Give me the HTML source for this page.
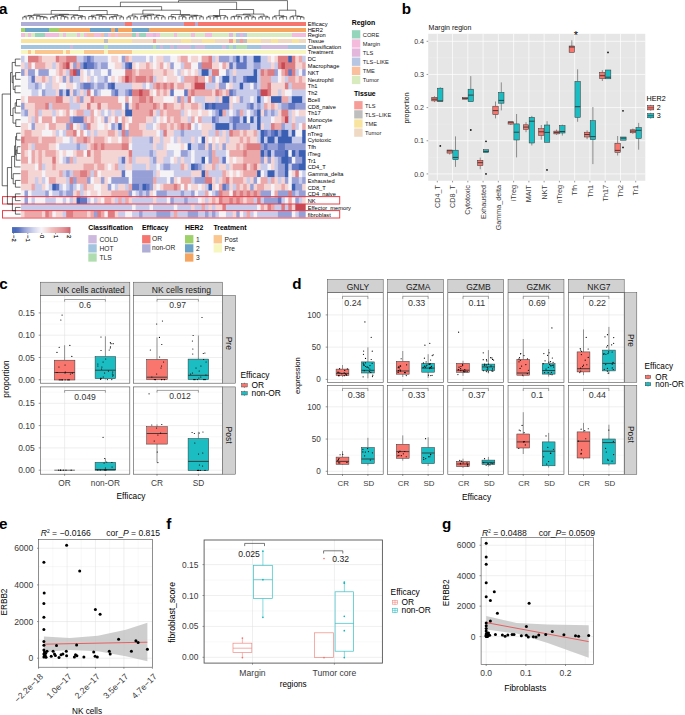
<!DOCTYPE html>
<html><head><meta charset="utf-8"><title>figure</title>
<style>
html,body{margin:0;padding:0;background:#fff;}
body{width:685px;height:715px;overflow:hidden;}
svg{display:block;font-family:"Liberation Sans",sans-serif;}
</style></head><body>
<svg width="685" height="715" viewBox="0 0 685 715">
<rect width="685" height="715" fill="#ffffff"/>
<text x="-0.90" y="14.20" font-size="15.2" text-anchor="start" fill="#000" font-weight="bold" >a</text>
<text x="401.80" y="14.20" font-size="15.2" text-anchor="start" fill="#000" font-weight="bold" >b</text>
<text x="-0.80" y="288.80" font-size="15.2" text-anchor="start" fill="#000" font-weight="bold" >c</text>
<text x="292.30" y="288.60" font-size="15.2" text-anchor="start" fill="#000" font-weight="bold" >d</text>
<text x="-0.90" y="529.30" font-size="15.2" text-anchor="start" fill="#000" font-weight="bold" >e</text>
<text x="166.30" y="528.90" font-size="15.2" text-anchor="start" fill="#000" font-weight="bold" >f</text>
<text x="442.00" y="529.00" font-size="15.2" text-anchor="start" fill="#000" font-weight="bold" >g</text>
<defs><filter id="bl" x="-2%" y="-2%" width="104%" height="104%"><feGaussianBlur stdDeviation="0.7"/></filter><clipPath id="hc"><rect x="21.05" y="55.70" width="284.65" height="161.80"/></clipPath></defs>
<g clip-path="url(#hc)"><g filter="url(#bl)">
<rect x="18.05" y="52.70" width="290.65" height="167.80" fill="#e8d8e0" />
<rect x="18.1" y="52.7" width="7.1" height="10.3" fill="#c8ccea"/>
<rect x="24.5" y="52.7" width="4.1" height="10.3" fill="#f6f3f7"/>
<rect x="28.0" y="52.7" width="11.0" height="10.3" fill="#dd7d82"/>
<rect x="38.4" y="52.7" width="4.1" height="10.3" fill="#eca8a8"/>
<rect x="41.9" y="52.7" width="14.5" height="10.3" fill="#f5d4d4"/>
<rect x="55.8" y="52.7" width="4.1" height="10.3" fill="#dd7d82"/>
<rect x="59.2" y="52.7" width="7.5" height="10.3" fill="#eca8a8"/>
<rect x="66.2" y="52.7" width="11.0" height="10.3" fill="#dd7d82"/>
<rect x="76.6" y="52.7" width="7.5" height="10.3" fill="#c8ccea"/>
<rect x="83.5" y="52.7" width="4.1" height="10.3" fill="#96a0d7"/>
<rect x="87.0" y="52.7" width="4.1" height="10.3" fill="#6278c4"/>
<rect x="90.5" y="52.7" width="4.1" height="10.3" fill="#96a0d7"/>
<rect x="93.9" y="52.7" width="14.5" height="10.3" fill="#c8ccea"/>
<rect x="107.8" y="52.7" width="4.1" height="10.3" fill="#f6f3f7"/>
<rect x="111.3" y="52.7" width="7.5" height="10.3" fill="#f5d4d4"/>
<rect x="118.2" y="52.7" width="4.1" height="10.3" fill="#f6f3f7"/>
<rect x="121.7" y="52.7" width="4.1" height="10.3" fill="#96a0d7"/>
<rect x="125.2" y="52.7" width="4.1" height="10.3" fill="#eca8a8"/>
<rect x="128.7" y="52.7" width="4.1" height="10.3" fill="#f5d4d4"/>
<rect x="132.1" y="52.7" width="14.5" height="10.3" fill="#c8ccea"/>
<rect x="146.0" y="52.7" width="4.1" height="10.3" fill="#f6f3f7"/>
<rect x="149.5" y="52.7" width="4.1" height="10.3" fill="#c8ccea"/>
<rect x="153.0" y="52.7" width="4.1" height="10.3" fill="#f6f3f7"/>
<rect x="156.4" y="52.7" width="7.5" height="10.3" fill="#f5d4d4"/>
<rect x="163.4" y="52.7" width="7.5" height="10.3" fill="#c8ccea"/>
<rect x="170.3" y="52.7" width="7.5" height="10.3" fill="#f6f3f7"/>
<rect x="177.3" y="52.7" width="4.1" height="10.3" fill="#f5d4d4"/>
<rect x="180.7" y="52.7" width="7.5" height="10.3" fill="#eca8a8"/>
<rect x="187.7" y="52.7" width="4.1" height="10.3" fill="#f6f3f7"/>
<rect x="191.1" y="52.7" width="7.5" height="10.3" fill="#f5d4d4"/>
<rect x="198.1" y="52.7" width="4.1" height="10.3" fill="#f6f3f7"/>
<rect x="201.6" y="52.7" width="7.5" height="10.3" fill="#eca8a8"/>
<rect x="208.5" y="52.7" width="4.1" height="10.3" fill="#dd7d82"/>
<rect x="212.0" y="52.7" width="4.1" height="10.3" fill="#c8ccea"/>
<rect x="215.4" y="52.7" width="4.1" height="10.3" fill="#f5d4d4"/>
<rect x="218.9" y="52.7" width="11.0" height="10.3" fill="#96a0d7"/>
<rect x="229.3" y="52.7" width="4.1" height="10.3" fill="#c8ccea"/>
<rect x="232.8" y="52.7" width="4.1" height="10.3" fill="#96a0d7"/>
<rect x="236.3" y="52.7" width="4.1" height="10.3" fill="#3a5fb2"/>
<rect x="239.7" y="52.7" width="4.1" height="10.3" fill="#c8ccea"/>
<rect x="243.2" y="52.7" width="4.1" height="10.3" fill="#6278c4"/>
<rect x="246.7" y="52.7" width="7.5" height="10.3" fill="#c8ccea"/>
<rect x="253.6" y="52.7" width="7.5" height="10.3" fill="#3a5fb2"/>
<rect x="260.6" y="52.7" width="7.5" height="10.3" fill="#c8ccea"/>
<rect x="267.5" y="52.7" width="4.1" height="10.3" fill="#f5d4d4"/>
<rect x="271.0" y="52.7" width="4.1" height="10.3" fill="#f6f3f7"/>
<rect x="274.5" y="52.7" width="4.1" height="10.3" fill="#f5d4d4"/>
<rect x="277.9" y="52.7" width="11.0" height="10.3" fill="#dd7d82"/>
<rect x="288.3" y="52.7" width="4.1" height="10.3" fill="#3a5fb2"/>
<rect x="291.8" y="52.7" width="4.1" height="10.3" fill="#dd7d82"/>
<rect x="295.3" y="52.7" width="4.1" height="10.3" fill="#f5d4d4"/>
<rect x="298.8" y="52.7" width="4.1" height="10.3" fill="#eca8a8"/>
<rect x="302.2" y="52.7" width="7.1" height="10.3" fill="#c8ccea"/>
<rect x="18.1" y="62.4" width="7.1" height="7.3" fill="#f5d4d4"/>
<rect x="24.5" y="62.4" width="4.1" height="7.3" fill="#c8ccea"/>
<rect x="28.0" y="62.4" width="4.1" height="7.3" fill="#eca8a8"/>
<rect x="31.5" y="62.4" width="4.1" height="7.3" fill="#f6f3f7"/>
<rect x="34.9" y="62.4" width="11.0" height="7.3" fill="#eca8a8"/>
<rect x="45.3" y="62.4" width="7.5" height="7.3" fill="#f5d4d4"/>
<rect x="52.3" y="62.4" width="4.1" height="7.3" fill="#c8ccea"/>
<rect x="55.8" y="62.4" width="4.1" height="7.3" fill="#f5d4d4"/>
<rect x="59.2" y="62.4" width="4.1" height="7.3" fill="#eca8a8"/>
<rect x="62.7" y="62.4" width="4.1" height="7.3" fill="#dd7d82"/>
<rect x="66.2" y="62.4" width="4.1" height="7.3" fill="#c84852"/>
<rect x="69.6" y="62.4" width="4.1" height="7.3" fill="#f5d4d4"/>
<rect x="73.1" y="62.4" width="4.1" height="7.3" fill="#96a0d7"/>
<rect x="76.6" y="62.4" width="4.1" height="7.3" fill="#eca8a8"/>
<rect x="80.1" y="62.4" width="4.1" height="7.3" fill="#96a0d7"/>
<rect x="83.5" y="62.4" width="4.1" height="7.3" fill="#3a5fb2"/>
<rect x="87.0" y="62.4" width="7.5" height="7.3" fill="#6278c4"/>
<rect x="93.9" y="62.4" width="4.1" height="7.3" fill="#96a0d7"/>
<rect x="97.4" y="62.4" width="4.1" height="7.3" fill="#c8ccea"/>
<rect x="100.9" y="62.4" width="7.5" height="7.3" fill="#96a0d7"/>
<rect x="107.8" y="62.4" width="7.5" height="7.3" fill="#f6f3f7"/>
<rect x="114.8" y="62.4" width="7.5" height="7.3" fill="#f5d4d4"/>
<rect x="121.7" y="62.4" width="4.1" height="7.3" fill="#c8ccea"/>
<rect x="125.2" y="62.4" width="4.1" height="7.3" fill="#6278c4"/>
<rect x="128.7" y="62.4" width="4.1" height="7.3" fill="#3a5fb2"/>
<rect x="132.1" y="62.4" width="4.1" height="7.3" fill="#f5d4d4"/>
<rect x="135.6" y="62.4" width="4.1" height="7.3" fill="#f6f3f7"/>
<rect x="139.1" y="62.4" width="7.5" height="7.3" fill="#f5d4d4"/>
<rect x="146.0" y="62.4" width="4.1" height="7.3" fill="#eca8a8"/>
<rect x="149.5" y="62.4" width="4.1" height="7.3" fill="#f5d4d4"/>
<rect x="153.0" y="62.4" width="4.1" height="7.3" fill="#f6f3f7"/>
<rect x="156.4" y="62.4" width="4.1" height="7.3" fill="#f5d4d4"/>
<rect x="159.9" y="62.4" width="4.1" height="7.3" fill="#eca8a8"/>
<rect x="163.4" y="62.4" width="4.1" height="7.3" fill="#f6f3f7"/>
<rect x="166.8" y="62.4" width="4.1" height="7.3" fill="#f5d4d4"/>
<rect x="170.3" y="62.4" width="4.1" height="7.3" fill="#96a0d7"/>
<rect x="173.8" y="62.4" width="7.5" height="7.3" fill="#f6f3f7"/>
<rect x="180.7" y="62.4" width="4.1" height="7.3" fill="#c8ccea"/>
<rect x="184.2" y="62.4" width="7.5" height="7.3" fill="#eca8a8"/>
<rect x="191.1" y="62.4" width="7.5" height="7.3" fill="#f6f3f7"/>
<rect x="198.1" y="62.4" width="4.1" height="7.3" fill="#96a0d7"/>
<rect x="201.6" y="62.4" width="11.0" height="7.3" fill="#dd7d82"/>
<rect x="212.0" y="62.4" width="7.5" height="7.3" fill="#f5d4d4"/>
<rect x="218.9" y="62.4" width="4.1" height="7.3" fill="#f6f3f7"/>
<rect x="222.4" y="62.4" width="4.1" height="7.3" fill="#eca8a8"/>
<rect x="225.9" y="62.4" width="4.1" height="7.3" fill="#f5d4d4"/>
<rect x="229.3" y="62.4" width="4.1" height="7.3" fill="#6278c4"/>
<rect x="232.8" y="62.4" width="4.1" height="7.3" fill="#c8ccea"/>
<rect x="236.3" y="62.4" width="11.0" height="7.3" fill="#6278c4"/>
<rect x="246.7" y="62.4" width="7.5" height="7.3" fill="#c8ccea"/>
<rect x="253.6" y="62.4" width="7.5" height="7.3" fill="#96a0d7"/>
<rect x="260.6" y="62.4" width="11.0" height="7.3" fill="#c8ccea"/>
<rect x="271.0" y="62.4" width="4.1" height="7.3" fill="#f5d4d4"/>
<rect x="274.5" y="62.4" width="4.1" height="7.3" fill="#c8ccea"/>
<rect x="277.9" y="62.4" width="4.1" height="7.3" fill="#dd7d82"/>
<rect x="281.4" y="62.4" width="4.1" height="7.3" fill="#c84852"/>
<rect x="284.9" y="62.4" width="11.0" height="7.3" fill="#dd7d82"/>
<rect x="295.3" y="62.4" width="7.5" height="7.3" fill="#f5d4d4"/>
<rect x="302.2" y="62.4" width="7.1" height="7.3" fill="#eca8a8"/>
<rect x="18.1" y="69.2" width="7.1" height="7.3" fill="#96a0d7"/>
<rect x="24.5" y="69.2" width="4.1" height="7.3" fill="#f5d4d4"/>
<rect x="28.0" y="69.2" width="7.5" height="7.3" fill="#96a0d7"/>
<rect x="34.9" y="69.2" width="4.1" height="7.3" fill="#f6f3f7"/>
<rect x="38.4" y="69.2" width="11.0" height="7.3" fill="#96a0d7"/>
<rect x="48.8" y="69.2" width="7.5" height="7.3" fill="#f6f3f7"/>
<rect x="55.8" y="69.2" width="4.1" height="7.3" fill="#f5d4d4"/>
<rect x="59.2" y="69.2" width="4.1" height="7.3" fill="#eca8a8"/>
<rect x="62.7" y="69.2" width="4.1" height="7.3" fill="#f5d4d4"/>
<rect x="66.2" y="69.2" width="4.1" height="7.3" fill="#c8ccea"/>
<rect x="69.6" y="69.2" width="4.1" height="7.3" fill="#dd7d82"/>
<rect x="73.1" y="69.2" width="4.1" height="7.3" fill="#c84852"/>
<rect x="76.6" y="69.2" width="4.1" height="7.3" fill="#6278c4"/>
<rect x="80.1" y="69.2" width="4.1" height="7.3" fill="#f5d4d4"/>
<rect x="83.5" y="69.2" width="4.1" height="7.3" fill="#f6f3f7"/>
<rect x="87.0" y="69.2" width="4.1" height="7.3" fill="#c8ccea"/>
<rect x="90.5" y="69.2" width="4.1" height="7.3" fill="#f6f3f7"/>
<rect x="93.9" y="69.2" width="7.5" height="7.3" fill="#c8ccea"/>
<rect x="100.9" y="69.2" width="7.5" height="7.3" fill="#f6f3f7"/>
<rect x="107.8" y="69.2" width="4.1" height="7.3" fill="#96a0d7"/>
<rect x="111.3" y="69.2" width="14.5" height="7.3" fill="#f6f3f7"/>
<rect x="125.2" y="69.2" width="7.5" height="7.3" fill="#dd7d82"/>
<rect x="132.1" y="69.2" width="4.1" height="7.3" fill="#eca8a8"/>
<rect x="135.6" y="69.2" width="4.1" height="7.3" fill="#f5d4d4"/>
<rect x="139.1" y="69.2" width="14.5" height="7.3" fill="#eca8a8"/>
<rect x="153.0" y="69.2" width="11.0" height="7.3" fill="#f5d4d4"/>
<rect x="163.4" y="69.2" width="4.1" height="7.3" fill="#eca8a8"/>
<rect x="166.8" y="69.2" width="7.5" height="7.3" fill="#f5d4d4"/>
<rect x="173.8" y="69.2" width="4.1" height="7.3" fill="#f6f3f7"/>
<rect x="177.3" y="69.2" width="4.1" height="7.3" fill="#c8ccea"/>
<rect x="180.7" y="69.2" width="4.1" height="7.3" fill="#f5d4d4"/>
<rect x="184.2" y="69.2" width="4.1" height="7.3" fill="#f6f3f7"/>
<rect x="187.7" y="69.2" width="4.1" height="7.3" fill="#f5d4d4"/>
<rect x="191.1" y="69.2" width="4.1" height="7.3" fill="#f6f3f7"/>
<rect x="194.6" y="69.2" width="4.1" height="7.3" fill="#f5d4d4"/>
<rect x="198.1" y="69.2" width="4.1" height="7.3" fill="#c8ccea"/>
<rect x="201.6" y="69.2" width="7.5" height="7.3" fill="#3a5fb2"/>
<rect x="208.5" y="69.2" width="4.1" height="7.3" fill="#c8ccea"/>
<rect x="212.0" y="69.2" width="7.5" height="7.3" fill="#dd7d82"/>
<rect x="218.9" y="69.2" width="7.5" height="7.3" fill="#f6f3f7"/>
<rect x="225.9" y="69.2" width="4.1" height="7.3" fill="#96a0d7"/>
<rect x="229.3" y="69.2" width="4.1" height="7.3" fill="#c8ccea"/>
<rect x="232.8" y="69.2" width="4.1" height="7.3" fill="#f5d4d4"/>
<rect x="236.3" y="69.2" width="18.0" height="7.3" fill="#c8ccea"/>
<rect x="253.6" y="69.2" width="4.1" height="7.3" fill="#3a5fb2"/>
<rect x="257.1" y="69.2" width="4.1" height="7.3" fill="#c8ccea"/>
<rect x="260.6" y="69.2" width="4.1" height="7.3" fill="#dd7d82"/>
<rect x="264.0" y="69.2" width="4.1" height="7.3" fill="#eca8a8"/>
<rect x="267.5" y="69.2" width="7.5" height="7.3" fill="#dd7d82"/>
<rect x="274.5" y="69.2" width="4.1" height="7.3" fill="#96a0d7"/>
<rect x="277.9" y="69.2" width="4.1" height="7.3" fill="#f6f3f7"/>
<rect x="281.4" y="69.2" width="4.1" height="7.3" fill="#eca8a8"/>
<rect x="284.9" y="69.2" width="4.1" height="7.3" fill="#dd7d82"/>
<rect x="288.3" y="69.2" width="4.1" height="7.3" fill="#6278c4"/>
<rect x="291.8" y="69.2" width="4.1" height="7.3" fill="#dd7d82"/>
<rect x="295.3" y="69.2" width="4.1" height="7.3" fill="#c8ccea"/>
<rect x="298.8" y="69.2" width="4.1" height="7.3" fill="#f6f3f7"/>
<rect x="302.2" y="69.2" width="7.1" height="7.3" fill="#96a0d7"/>
<rect x="18.1" y="75.9" width="10.5" height="7.3" fill="#f6f3f7"/>
<rect x="28.0" y="75.9" width="4.1" height="7.3" fill="#c8ccea"/>
<rect x="31.5" y="75.9" width="4.1" height="7.3" fill="#6278c4"/>
<rect x="34.9" y="75.9" width="7.5" height="7.3" fill="#f5d4d4"/>
<rect x="41.9" y="75.9" width="4.1" height="7.3" fill="#eca8a8"/>
<rect x="45.3" y="75.9" width="4.1" height="7.3" fill="#f5d4d4"/>
<rect x="48.8" y="75.9" width="4.1" height="7.3" fill="#c8ccea"/>
<rect x="52.3" y="75.9" width="4.1" height="7.3" fill="#f5d4d4"/>
<rect x="55.8" y="75.9" width="4.1" height="7.3" fill="#f6f3f7"/>
<rect x="59.2" y="75.9" width="4.1" height="7.3" fill="#f5d4d4"/>
<rect x="62.7" y="75.9" width="4.1" height="7.3" fill="#96a0d7"/>
<rect x="66.2" y="75.9" width="4.1" height="7.3" fill="#f5d4d4"/>
<rect x="69.6" y="75.9" width="4.1" height="7.3" fill="#96a0d7"/>
<rect x="73.1" y="75.9" width="7.5" height="7.3" fill="#c8ccea"/>
<rect x="80.1" y="75.9" width="4.1" height="7.3" fill="#f5d4d4"/>
<rect x="83.5" y="75.9" width="4.1" height="7.3" fill="#f6f3f7"/>
<rect x="87.0" y="75.9" width="4.1" height="7.3" fill="#f5d4d4"/>
<rect x="90.5" y="75.9" width="4.1" height="7.3" fill="#c8ccea"/>
<rect x="93.9" y="75.9" width="4.1" height="7.3" fill="#f6f3f7"/>
<rect x="97.4" y="75.9" width="7.5" height="7.3" fill="#c8ccea"/>
<rect x="104.4" y="75.9" width="4.1" height="7.3" fill="#96a0d7"/>
<rect x="107.8" y="75.9" width="4.1" height="7.3" fill="#f6f3f7"/>
<rect x="111.3" y="75.9" width="4.1" height="7.3" fill="#f5d4d4"/>
<rect x="114.8" y="75.9" width="4.1" height="7.3" fill="#f6f3f7"/>
<rect x="118.2" y="75.9" width="4.1" height="7.3" fill="#f5d4d4"/>
<rect x="121.7" y="75.9" width="4.1" height="7.3" fill="#eca8a8"/>
<rect x="125.2" y="75.9" width="4.1" height="7.3" fill="#c84852"/>
<rect x="128.7" y="75.9" width="4.1" height="7.3" fill="#dd7d82"/>
<rect x="132.1" y="75.9" width="4.1" height="7.3" fill="#eca8a8"/>
<rect x="135.6" y="75.9" width="11.0" height="7.3" fill="#dd7d82"/>
<rect x="146.0" y="75.9" width="4.1" height="7.3" fill="#eca8a8"/>
<rect x="149.5" y="75.9" width="4.1" height="7.3" fill="#dd7d82"/>
<rect x="153.0" y="75.9" width="4.1" height="7.3" fill="#c8ccea"/>
<rect x="156.4" y="75.9" width="7.5" height="7.3" fill="#f5d4d4"/>
<rect x="163.4" y="75.9" width="4.1" height="7.3" fill="#f6f3f7"/>
<rect x="166.8" y="75.9" width="11.0" height="7.3" fill="#f5d4d4"/>
<rect x="177.3" y="75.9" width="4.1" height="7.3" fill="#f6f3f7"/>
<rect x="180.7" y="75.9" width="4.1" height="7.3" fill="#c8ccea"/>
<rect x="184.2" y="75.9" width="11.0" height="7.3" fill="#eca8a8"/>
<rect x="194.6" y="75.9" width="4.1" height="7.3" fill="#dd7d82"/>
<rect x="198.1" y="75.9" width="7.5" height="7.3" fill="#eca8a8"/>
<rect x="205.0" y="75.9" width="4.1" height="7.3" fill="#f6f3f7"/>
<rect x="208.5" y="75.9" width="4.1" height="7.3" fill="#eca8a8"/>
<rect x="212.0" y="75.9" width="4.1" height="7.3" fill="#96a0d7"/>
<rect x="215.4" y="75.9" width="4.1" height="7.3" fill="#f6f3f7"/>
<rect x="218.9" y="75.9" width="4.1" height="7.3" fill="#c8ccea"/>
<rect x="222.4" y="75.9" width="7.5" height="7.3" fill="#3a5fb2"/>
<rect x="229.3" y="75.9" width="4.1" height="7.3" fill="#c8ccea"/>
<rect x="232.8" y="75.9" width="4.1" height="7.3" fill="#96a0d7"/>
<rect x="236.3" y="75.9" width="7.5" height="7.3" fill="#c8ccea"/>
<rect x="243.2" y="75.9" width="4.1" height="7.3" fill="#6278c4"/>
<rect x="246.7" y="75.9" width="11.0" height="7.3" fill="#3a5fb2"/>
<rect x="257.1" y="75.9" width="4.1" height="7.3" fill="#c8ccea"/>
<rect x="260.6" y="75.9" width="11.0" height="7.3" fill="#eca8a8"/>
<rect x="271.0" y="75.9" width="7.5" height="7.3" fill="#c8ccea"/>
<rect x="277.9" y="75.9" width="4.1" height="7.3" fill="#f6f3f7"/>
<rect x="281.4" y="75.9" width="4.1" height="7.3" fill="#f5d4d4"/>
<rect x="284.9" y="75.9" width="4.1" height="7.3" fill="#c8ccea"/>
<rect x="288.3" y="75.9" width="7.5" height="7.3" fill="#eca8a8"/>
<rect x="295.3" y="75.9" width="4.1" height="7.3" fill="#f5d4d4"/>
<rect x="298.8" y="75.9" width="4.1" height="7.3" fill="#eca8a8"/>
<rect x="302.2" y="75.9" width="7.1" height="7.3" fill="#f5d4d4"/>
<rect x="18.1" y="82.7" width="10.5" height="7.3" fill="#f6f3f7"/>
<rect x="28.0" y="82.7" width="7.5" height="7.3" fill="#c8ccea"/>
<rect x="34.9" y="82.7" width="4.1" height="7.3" fill="#96a0d7"/>
<rect x="38.4" y="82.7" width="4.1" height="7.3" fill="#c8ccea"/>
<rect x="41.9" y="82.7" width="4.1" height="7.3" fill="#f6f3f7"/>
<rect x="45.3" y="82.7" width="7.5" height="7.3" fill="#c8ccea"/>
<rect x="52.3" y="82.7" width="7.5" height="7.3" fill="#f5d4d4"/>
<rect x="59.2" y="82.7" width="7.5" height="7.3" fill="#f6f3f7"/>
<rect x="66.2" y="82.7" width="7.5" height="7.3" fill="#f5d4d4"/>
<rect x="73.1" y="82.7" width="4.1" height="7.3" fill="#f6f3f7"/>
<rect x="76.6" y="82.7" width="4.1" height="7.3" fill="#c8ccea"/>
<rect x="80.1" y="82.7" width="4.1" height="7.3" fill="#96a0d7"/>
<rect x="83.5" y="82.7" width="7.5" height="7.3" fill="#6278c4"/>
<rect x="90.5" y="82.7" width="4.1" height="7.3" fill="#96a0d7"/>
<rect x="93.9" y="82.7" width="4.1" height="7.3" fill="#c8ccea"/>
<rect x="97.4" y="82.7" width="7.5" height="7.3" fill="#96a0d7"/>
<rect x="104.4" y="82.7" width="4.1" height="7.3" fill="#c8ccea"/>
<rect x="107.8" y="82.7" width="4.1" height="7.3" fill="#6278c4"/>
<rect x="111.3" y="82.7" width="4.1" height="7.3" fill="#3a5fb2"/>
<rect x="114.8" y="82.7" width="18.0" height="7.3" fill="#c8ccea"/>
<rect x="132.1" y="82.7" width="11.0" height="7.3" fill="#f5d4d4"/>
<rect x="142.5" y="82.7" width="4.1" height="7.3" fill="#c8ccea"/>
<rect x="146.0" y="82.7" width="4.1" height="7.3" fill="#f6f3f7"/>
<rect x="149.5" y="82.7" width="4.1" height="7.3" fill="#c8ccea"/>
<rect x="153.0" y="82.7" width="4.1" height="7.3" fill="#eca8a8"/>
<rect x="156.4" y="82.7" width="4.1" height="7.3" fill="#dd7d82"/>
<rect x="159.9" y="82.7" width="4.1" height="7.3" fill="#eca8a8"/>
<rect x="163.4" y="82.7" width="4.1" height="7.3" fill="#dd7d82"/>
<rect x="166.8" y="82.7" width="4.1" height="7.3" fill="#eca8a8"/>
<rect x="170.3" y="82.7" width="4.1" height="7.3" fill="#dd7d82"/>
<rect x="173.8" y="82.7" width="4.1" height="7.3" fill="#f5d4d4"/>
<rect x="177.3" y="82.7" width="7.5" height="7.3" fill="#eca8a8"/>
<rect x="184.2" y="82.7" width="7.5" height="7.3" fill="#f5d4d4"/>
<rect x="191.1" y="82.7" width="4.1" height="7.3" fill="#eca8a8"/>
<rect x="194.6" y="82.7" width="11.0" height="7.3" fill="#c84852"/>
<rect x="205.0" y="82.7" width="11.0" height="7.3" fill="#c8ccea"/>
<rect x="215.4" y="82.7" width="4.1" height="7.3" fill="#f5d4d4"/>
<rect x="218.9" y="82.7" width="7.5" height="7.3" fill="#96a0d7"/>
<rect x="225.9" y="82.7" width="4.1" height="7.3" fill="#f6f3f7"/>
<rect x="229.3" y="82.7" width="4.1" height="7.3" fill="#f5d4d4"/>
<rect x="232.8" y="82.7" width="7.5" height="7.3" fill="#c8ccea"/>
<rect x="239.7" y="82.7" width="4.1" height="7.3" fill="#3a5fb2"/>
<rect x="243.2" y="82.7" width="7.5" height="7.3" fill="#c8ccea"/>
<rect x="250.2" y="82.7" width="4.1" height="7.3" fill="#f6f3f7"/>
<rect x="253.6" y="82.7" width="4.1" height="7.3" fill="#96a0d7"/>
<rect x="257.1" y="82.7" width="4.1" height="7.3" fill="#c8ccea"/>
<rect x="260.6" y="82.7" width="7.5" height="7.3" fill="#eca8a8"/>
<rect x="267.5" y="82.7" width="4.1" height="7.3" fill="#dd7d82"/>
<rect x="271.0" y="82.7" width="14.5" height="7.3" fill="#f5d4d4"/>
<rect x="284.9" y="82.7" width="4.1" height="7.3" fill="#dd7d82"/>
<rect x="288.3" y="82.7" width="4.1" height="7.3" fill="#c8ccea"/>
<rect x="291.8" y="82.7" width="17.5" height="7.3" fill="#eca8a8"/>
<rect x="18.1" y="89.4" width="14.0" height="7.3" fill="#f6f3f7"/>
<rect x="31.5" y="89.4" width="7.5" height="7.3" fill="#c8ccea"/>
<rect x="38.4" y="89.4" width="4.1" height="7.3" fill="#f6f3f7"/>
<rect x="41.9" y="89.4" width="4.1" height="7.3" fill="#96a0d7"/>
<rect x="45.3" y="89.4" width="11.0" height="7.3" fill="#c8ccea"/>
<rect x="55.8" y="89.4" width="4.1" height="7.3" fill="#f5d4d4"/>
<rect x="59.2" y="89.4" width="4.1" height="7.3" fill="#6278c4"/>
<rect x="62.7" y="89.4" width="4.1" height="7.3" fill="#c8ccea"/>
<rect x="66.2" y="89.4" width="4.1" height="7.3" fill="#3a5fb2"/>
<rect x="69.6" y="89.4" width="4.1" height="7.3" fill="#f5d4d4"/>
<rect x="73.1" y="89.4" width="4.1" height="7.3" fill="#96a0d7"/>
<rect x="76.6" y="89.4" width="4.1" height="7.3" fill="#c8ccea"/>
<rect x="80.1" y="89.4" width="4.1" height="7.3" fill="#f5d4d4"/>
<rect x="83.5" y="89.4" width="4.1" height="7.3" fill="#c8ccea"/>
<rect x="87.0" y="89.4" width="4.1" height="7.3" fill="#dd7d82"/>
<rect x="90.5" y="89.4" width="4.1" height="7.3" fill="#f6f3f7"/>
<rect x="93.9" y="89.4" width="4.1" height="7.3" fill="#96a0d7"/>
<rect x="97.4" y="89.4" width="4.1" height="7.3" fill="#c8ccea"/>
<rect x="100.9" y="89.4" width="11.0" height="7.3" fill="#f6f3f7"/>
<rect x="111.3" y="89.4" width="4.1" height="7.3" fill="#96a0d7"/>
<rect x="114.8" y="89.4" width="4.1" height="7.3" fill="#6278c4"/>
<rect x="118.2" y="89.4" width="7.5" height="7.3" fill="#c8ccea"/>
<rect x="125.2" y="89.4" width="4.1" height="7.3" fill="#96a0d7"/>
<rect x="128.7" y="89.4" width="4.1" height="7.3" fill="#6278c4"/>
<rect x="132.1" y="89.4" width="7.5" height="7.3" fill="#dd7d82"/>
<rect x="139.1" y="89.4" width="4.1" height="7.3" fill="#c84852"/>
<rect x="142.5" y="89.4" width="7.5" height="7.3" fill="#dd7d82"/>
<rect x="149.5" y="89.4" width="4.1" height="7.3" fill="#f5d4d4"/>
<rect x="153.0" y="89.4" width="4.1" height="7.3" fill="#f6f3f7"/>
<rect x="156.4" y="89.4" width="4.1" height="7.3" fill="#eca8a8"/>
<rect x="159.9" y="89.4" width="4.1" height="7.3" fill="#f5d4d4"/>
<rect x="163.4" y="89.4" width="4.1" height="7.3" fill="#eca8a8"/>
<rect x="166.8" y="89.4" width="4.1" height="7.3" fill="#f5d4d4"/>
<rect x="170.3" y="89.4" width="4.1" height="7.3" fill="#6278c4"/>
<rect x="173.8" y="89.4" width="11.0" height="7.3" fill="#f6f3f7"/>
<rect x="184.2" y="89.4" width="4.1" height="7.3" fill="#6278c4"/>
<rect x="187.7" y="89.4" width="4.1" height="7.3" fill="#eca8a8"/>
<rect x="191.1" y="89.4" width="4.1" height="7.3" fill="#dd7d82"/>
<rect x="194.6" y="89.4" width="18.0" height="7.3" fill="#eca8a8"/>
<rect x="212.0" y="89.4" width="4.1" height="7.3" fill="#f5d4d4"/>
<rect x="215.4" y="89.4" width="4.1" height="7.3" fill="#dd7d82"/>
<rect x="218.9" y="89.4" width="4.1" height="7.3" fill="#eca8a8"/>
<rect x="222.4" y="89.4" width="4.1" height="7.3" fill="#f5d4d4"/>
<rect x="225.9" y="89.4" width="4.1" height="7.3" fill="#eca8a8"/>
<rect x="229.3" y="89.4" width="4.1" height="7.3" fill="#6278c4"/>
<rect x="232.8" y="89.4" width="4.1" height="7.3" fill="#96a0d7"/>
<rect x="236.3" y="89.4" width="21.4" height="7.3" fill="#c8ccea"/>
<rect x="257.1" y="89.4" width="4.1" height="7.3" fill="#96a0d7"/>
<rect x="260.6" y="89.4" width="7.5" height="7.3" fill="#c84852"/>
<rect x="267.5" y="89.4" width="4.1" height="7.3" fill="#dd7d82"/>
<rect x="271.0" y="89.4" width="7.5" height="7.3" fill="#f5d4d4"/>
<rect x="277.9" y="89.4" width="4.1" height="7.3" fill="#c8ccea"/>
<rect x="281.4" y="89.4" width="4.1" height="7.3" fill="#f5d4d4"/>
<rect x="284.9" y="89.4" width="7.5" height="7.3" fill="#f6f3f7"/>
<rect x="291.8" y="89.4" width="17.5" height="7.3" fill="#c8ccea"/>
<rect x="18.1" y="96.2" width="7.1" height="7.3" fill="#f5d4d4"/>
<rect x="24.5" y="96.2" width="4.1" height="7.3" fill="#f6f3f7"/>
<rect x="28.0" y="96.2" width="28.4" height="7.3" fill="#eca8a8"/>
<rect x="55.8" y="96.2" width="7.5" height="7.3" fill="#dd7d82"/>
<rect x="62.7" y="96.2" width="7.5" height="7.3" fill="#f5d4d4"/>
<rect x="69.6" y="96.2" width="4.1" height="7.3" fill="#c8ccea"/>
<rect x="73.1" y="96.2" width="4.1" height="7.3" fill="#f5d4d4"/>
<rect x="76.6" y="96.2" width="4.1" height="7.3" fill="#eca8a8"/>
<rect x="80.1" y="96.2" width="4.1" height="7.3" fill="#96a0d7"/>
<rect x="83.5" y="96.2" width="7.5" height="7.3" fill="#f5d4d4"/>
<rect x="90.5" y="96.2" width="4.1" height="7.3" fill="#dd7d82"/>
<rect x="93.9" y="96.2" width="24.9" height="7.3" fill="#eca8a8"/>
<rect x="118.2" y="96.2" width="7.5" height="7.3" fill="#f6f3f7"/>
<rect x="125.2" y="96.2" width="4.1" height="7.3" fill="#eca8a8"/>
<rect x="128.7" y="96.2" width="4.1" height="7.3" fill="#f6f3f7"/>
<rect x="132.1" y="96.2" width="7.5" height="7.3" fill="#eca8a8"/>
<rect x="139.1" y="96.2" width="7.5" height="7.3" fill="#dd7d82"/>
<rect x="146.0" y="96.2" width="4.1" height="7.3" fill="#eca8a8"/>
<rect x="149.5" y="96.2" width="4.1" height="7.3" fill="#dd7d82"/>
<rect x="153.0" y="96.2" width="11.0" height="7.3" fill="#f5d4d4"/>
<rect x="163.4" y="96.2" width="11.0" height="7.3" fill="#f6f3f7"/>
<rect x="173.8" y="96.2" width="4.1" height="7.3" fill="#f5d4d4"/>
<rect x="177.3" y="96.2" width="4.1" height="7.3" fill="#96a0d7"/>
<rect x="180.7" y="96.2" width="4.1" height="7.3" fill="#eca8a8"/>
<rect x="184.2" y="96.2" width="4.1" height="7.3" fill="#c8ccea"/>
<rect x="187.7" y="96.2" width="4.1" height="7.3" fill="#dd7d82"/>
<rect x="191.1" y="96.2" width="4.1" height="7.3" fill="#f6f3f7"/>
<rect x="194.6" y="96.2" width="11.0" height="7.3" fill="#c8ccea"/>
<rect x="205.0" y="96.2" width="11.0" height="7.3" fill="#f5d4d4"/>
<rect x="215.4" y="96.2" width="4.1" height="7.3" fill="#c8ccea"/>
<rect x="218.9" y="96.2" width="4.1" height="7.3" fill="#f5d4d4"/>
<rect x="222.4" y="96.2" width="7.5" height="7.3" fill="#3a5fb2"/>
<rect x="229.3" y="96.2" width="4.1" height="7.3" fill="#f5d4d4"/>
<rect x="232.8" y="96.2" width="4.1" height="7.3" fill="#f6f3f7"/>
<rect x="236.3" y="96.2" width="4.1" height="7.3" fill="#f5d4d4"/>
<rect x="239.7" y="96.2" width="4.1" height="7.3" fill="#96a0d7"/>
<rect x="243.2" y="96.2" width="7.5" height="7.3" fill="#c8ccea"/>
<rect x="250.2" y="96.2" width="4.1" height="7.3" fill="#f6f3f7"/>
<rect x="253.6" y="96.2" width="4.1" height="7.3" fill="#c8ccea"/>
<rect x="257.1" y="96.2" width="4.1" height="7.3" fill="#3a5fb2"/>
<rect x="260.6" y="96.2" width="4.1" height="7.3" fill="#c8ccea"/>
<rect x="264.0" y="96.2" width="4.1" height="7.3" fill="#f6f3f7"/>
<rect x="267.5" y="96.2" width="4.1" height="7.3" fill="#f5d4d4"/>
<rect x="271.0" y="96.2" width="11.0" height="7.3" fill="#3a5fb2"/>
<rect x="281.4" y="96.2" width="7.5" height="7.3" fill="#eca8a8"/>
<rect x="288.3" y="96.2" width="4.1" height="7.3" fill="#c8ccea"/>
<rect x="291.8" y="96.2" width="11.0" height="7.3" fill="#3a5fb2"/>
<rect x="302.2" y="96.2" width="7.1" height="7.3" fill="#c8ccea"/>
<rect x="18.1" y="102.9" width="7.1" height="7.3" fill="#96a0d7"/>
<rect x="24.5" y="102.9" width="11.0" height="7.3" fill="#f5d4d4"/>
<rect x="34.9" y="102.9" width="11.0" height="7.3" fill="#eca8a8"/>
<rect x="45.3" y="102.9" width="4.1" height="7.3" fill="#dd7d82"/>
<rect x="48.8" y="102.9" width="4.1" height="7.3" fill="#c8ccea"/>
<rect x="52.3" y="102.9" width="18.0" height="7.3" fill="#eca8a8"/>
<rect x="69.6" y="102.9" width="11.0" height="7.3" fill="#c8ccea"/>
<rect x="80.1" y="102.9" width="7.5" height="7.3" fill="#f5d4d4"/>
<rect x="87.0" y="102.9" width="4.1" height="7.3" fill="#dd7d82"/>
<rect x="90.5" y="102.9" width="7.5" height="7.3" fill="#f5d4d4"/>
<rect x="97.4" y="102.9" width="4.1" height="7.3" fill="#dd7d82"/>
<rect x="100.9" y="102.9" width="7.5" height="7.3" fill="#f5d4d4"/>
<rect x="107.8" y="102.9" width="14.5" height="7.3" fill="#eca8a8"/>
<rect x="121.7" y="102.9" width="4.1" height="7.3" fill="#f6f3f7"/>
<rect x="125.2" y="102.9" width="4.1" height="7.3" fill="#6278c4"/>
<rect x="128.7" y="102.9" width="4.1" height="7.3" fill="#f5d4d4"/>
<rect x="132.1" y="102.9" width="4.1" height="7.3" fill="#eca8a8"/>
<rect x="135.6" y="102.9" width="4.1" height="7.3" fill="#dd7d82"/>
<rect x="139.1" y="102.9" width="14.5" height="7.3" fill="#eca8a8"/>
<rect x="153.0" y="102.9" width="4.1" height="7.3" fill="#dd7d82"/>
<rect x="156.4" y="102.9" width="4.1" height="7.3" fill="#eca8a8"/>
<rect x="159.9" y="102.9" width="4.1" height="7.3" fill="#f5d4d4"/>
<rect x="163.4" y="102.9" width="4.1" height="7.3" fill="#dd7d82"/>
<rect x="166.8" y="102.9" width="7.5" height="7.3" fill="#eca8a8"/>
<rect x="173.8" y="102.9" width="7.5" height="7.3" fill="#f5d4d4"/>
<rect x="180.7" y="102.9" width="4.1" height="7.3" fill="#eca8a8"/>
<rect x="184.2" y="102.9" width="7.5" height="7.3" fill="#f5d4d4"/>
<rect x="191.1" y="102.9" width="7.5" height="7.3" fill="#eca8a8"/>
<rect x="198.1" y="102.9" width="4.1" height="7.3" fill="#f5d4d4"/>
<rect x="201.6" y="102.9" width="4.1" height="7.3" fill="#c8ccea"/>
<rect x="205.0" y="102.9" width="4.1" height="7.3" fill="#3a5fb2"/>
<rect x="208.5" y="102.9" width="4.1" height="7.3" fill="#6278c4"/>
<rect x="212.0" y="102.9" width="4.1" height="7.3" fill="#3a5fb2"/>
<rect x="215.4" y="102.9" width="14.5" height="7.3" fill="#6278c4"/>
<rect x="229.3" y="102.9" width="4.1" height="7.3" fill="#f5d4d4"/>
<rect x="232.8" y="102.9" width="14.5" height="7.3" fill="#c8ccea"/>
<rect x="246.7" y="102.9" width="4.1" height="7.3" fill="#96a0d7"/>
<rect x="250.2" y="102.9" width="4.1" height="7.3" fill="#6278c4"/>
<rect x="253.6" y="102.9" width="4.1" height="7.3" fill="#c8ccea"/>
<rect x="257.1" y="102.9" width="4.1" height="7.3" fill="#96a0d7"/>
<rect x="260.6" y="102.9" width="4.1" height="7.3" fill="#c8ccea"/>
<rect x="264.0" y="102.9" width="4.1" height="7.3" fill="#eca8a8"/>
<rect x="267.5" y="102.9" width="4.1" height="7.3" fill="#f5d4d4"/>
<rect x="271.0" y="102.9" width="4.1" height="7.3" fill="#eca8a8"/>
<rect x="274.5" y="102.9" width="4.1" height="7.3" fill="#f5d4d4"/>
<rect x="277.9" y="102.9" width="4.1" height="7.3" fill="#c8ccea"/>
<rect x="281.4" y="102.9" width="7.5" height="7.3" fill="#96a0d7"/>
<rect x="288.3" y="102.9" width="7.5" height="7.3" fill="#6278c4"/>
<rect x="295.3" y="102.9" width="14.0" height="7.3" fill="#96a0d7"/>
<rect x="18.1" y="109.6" width="7.1" height="7.3" fill="#c8ccea"/>
<rect x="24.5" y="109.6" width="4.1" height="7.3" fill="#96a0d7"/>
<rect x="28.0" y="109.6" width="7.5" height="7.3" fill="#f5d4d4"/>
<rect x="34.9" y="109.6" width="4.1" height="7.3" fill="#eca8a8"/>
<rect x="38.4" y="109.6" width="4.1" height="7.3" fill="#c8ccea"/>
<rect x="41.9" y="109.6" width="11.0" height="7.3" fill="#f5d4d4"/>
<rect x="52.3" y="109.6" width="4.1" height="7.3" fill="#c8ccea"/>
<rect x="55.8" y="109.6" width="4.1" height="7.3" fill="#f5d4d4"/>
<rect x="59.2" y="109.6" width="4.1" height="7.3" fill="#f6f3f7"/>
<rect x="62.7" y="109.6" width="4.1" height="7.3" fill="#f5d4d4"/>
<rect x="66.2" y="109.6" width="4.1" height="7.3" fill="#eca8a8"/>
<rect x="69.6" y="109.6" width="4.1" height="7.3" fill="#f6f3f7"/>
<rect x="73.1" y="109.6" width="4.1" height="7.3" fill="#f5d4d4"/>
<rect x="76.6" y="109.6" width="7.5" height="7.3" fill="#eca8a8"/>
<rect x="83.5" y="109.6" width="7.5" height="7.3" fill="#c8ccea"/>
<rect x="90.5" y="109.6" width="4.1" height="7.3" fill="#eca8a8"/>
<rect x="93.9" y="109.6" width="4.1" height="7.3" fill="#f6f3f7"/>
<rect x="97.4" y="109.6" width="4.1" height="7.3" fill="#f5d4d4"/>
<rect x="100.9" y="109.6" width="4.1" height="7.3" fill="#c8ccea"/>
<rect x="104.4" y="109.6" width="4.1" height="7.3" fill="#f6f3f7"/>
<rect x="107.8" y="109.6" width="4.1" height="7.3" fill="#c8ccea"/>
<rect x="111.3" y="109.6" width="4.1" height="7.3" fill="#f5d4d4"/>
<rect x="114.8" y="109.6" width="7.5" height="7.3" fill="#c8ccea"/>
<rect x="121.7" y="109.6" width="4.1" height="7.3" fill="#f5d4d4"/>
<rect x="125.2" y="109.6" width="7.5" height="7.3" fill="#3a5fb2"/>
<rect x="132.1" y="109.6" width="18.0" height="7.3" fill="#eca8a8"/>
<rect x="149.5" y="109.6" width="4.1" height="7.3" fill="#dd7d82"/>
<rect x="153.0" y="109.6" width="4.1" height="7.3" fill="#f5d4d4"/>
<rect x="156.4" y="109.6" width="4.1" height="7.3" fill="#c8ccea"/>
<rect x="159.9" y="109.6" width="4.1" height="7.3" fill="#eca8a8"/>
<rect x="163.4" y="109.6" width="4.1" height="7.3" fill="#f5d4d4"/>
<rect x="166.8" y="109.6" width="14.5" height="7.3" fill="#eca8a8"/>
<rect x="180.7" y="109.6" width="4.1" height="7.3" fill="#c8ccea"/>
<rect x="184.2" y="109.6" width="4.1" height="7.3" fill="#f5d4d4"/>
<rect x="187.7" y="109.6" width="4.1" height="7.3" fill="#f6f3f7"/>
<rect x="191.1" y="109.6" width="7.5" height="7.3" fill="#f5d4d4"/>
<rect x="198.1" y="109.6" width="4.1" height="7.3" fill="#f6f3f7"/>
<rect x="201.6" y="109.6" width="7.5" height="7.3" fill="#f5d4d4"/>
<rect x="208.5" y="109.6" width="4.1" height="7.3" fill="#f6f3f7"/>
<rect x="212.0" y="109.6" width="4.1" height="7.3" fill="#c8ccea"/>
<rect x="215.4" y="109.6" width="4.1" height="7.3" fill="#96a0d7"/>
<rect x="218.9" y="109.6" width="4.1" height="7.3" fill="#3a5fb2"/>
<rect x="222.4" y="109.6" width="4.1" height="7.3" fill="#eca8a8"/>
<rect x="225.9" y="109.6" width="4.1" height="7.3" fill="#c8ccea"/>
<rect x="229.3" y="109.6" width="4.1" height="7.3" fill="#f6f3f7"/>
<rect x="232.8" y="109.6" width="4.1" height="7.3" fill="#c8ccea"/>
<rect x="236.3" y="109.6" width="4.1" height="7.3" fill="#96a0d7"/>
<rect x="239.7" y="109.6" width="4.1" height="7.3" fill="#eca8a8"/>
<rect x="243.2" y="109.6" width="4.1" height="7.3" fill="#c8ccea"/>
<rect x="246.7" y="109.6" width="4.1" height="7.3" fill="#f6f3f7"/>
<rect x="250.2" y="109.6" width="4.1" height="7.3" fill="#c8ccea"/>
<rect x="253.6" y="109.6" width="4.1" height="7.3" fill="#96a0d7"/>
<rect x="257.1" y="109.6" width="4.1" height="7.3" fill="#3a5fb2"/>
<rect x="260.6" y="109.6" width="4.1" height="7.3" fill="#f5d4d4"/>
<rect x="264.0" y="109.6" width="4.1" height="7.3" fill="#96a0d7"/>
<rect x="267.5" y="109.6" width="4.1" height="7.3" fill="#c8ccea"/>
<rect x="271.0" y="109.6" width="4.1" height="7.3" fill="#96a0d7"/>
<rect x="274.5" y="109.6" width="4.1" height="7.3" fill="#c8ccea"/>
<rect x="277.9" y="109.6" width="4.1" height="7.3" fill="#f5d4d4"/>
<rect x="281.4" y="109.6" width="7.5" height="7.3" fill="#dd7d82"/>
<rect x="288.3" y="109.6" width="4.1" height="7.3" fill="#c8ccea"/>
<rect x="291.8" y="109.6" width="4.1" height="7.3" fill="#f5d4d4"/>
<rect x="295.3" y="109.6" width="4.1" height="7.3" fill="#f6f3f7"/>
<rect x="298.8" y="109.6" width="10.5" height="7.3" fill="#f5d4d4"/>
<rect x="18.1" y="116.4" width="10.5" height="7.3" fill="#f6f3f7"/>
<rect x="28.0" y="116.4" width="4.1" height="7.3" fill="#f5d4d4"/>
<rect x="31.5" y="116.4" width="4.1" height="7.3" fill="#c8ccea"/>
<rect x="34.9" y="116.4" width="4.1" height="7.3" fill="#eca8a8"/>
<rect x="38.4" y="116.4" width="4.1" height="7.3" fill="#f6f3f7"/>
<rect x="41.9" y="116.4" width="11.0" height="7.3" fill="#eca8a8"/>
<rect x="52.3" y="116.4" width="4.1" height="7.3" fill="#f6f3f7"/>
<rect x="55.8" y="116.4" width="14.5" height="7.3" fill="#eca8a8"/>
<rect x="69.6" y="116.4" width="4.1" height="7.3" fill="#96a0d7"/>
<rect x="73.1" y="116.4" width="11.0" height="7.3" fill="#6278c4"/>
<rect x="83.5" y="116.4" width="4.1" height="7.3" fill="#eca8a8"/>
<rect x="87.0" y="116.4" width="4.1" height="7.3" fill="#f5d4d4"/>
<rect x="90.5" y="116.4" width="4.1" height="7.3" fill="#eca8a8"/>
<rect x="93.9" y="116.4" width="4.1" height="7.3" fill="#f5d4d4"/>
<rect x="97.4" y="116.4" width="4.1" height="7.3" fill="#f6f3f7"/>
<rect x="100.9" y="116.4" width="4.1" height="7.3" fill="#f5d4d4"/>
<rect x="104.4" y="116.4" width="4.1" height="7.3" fill="#96a0d7"/>
<rect x="107.8" y="116.4" width="4.1" height="7.3" fill="#f5d4d4"/>
<rect x="111.3" y="116.4" width="4.1" height="7.3" fill="#f6f3f7"/>
<rect x="114.8" y="116.4" width="4.1" height="7.3" fill="#eca8a8"/>
<rect x="118.2" y="116.4" width="4.1" height="7.3" fill="#f6f3f7"/>
<rect x="121.7" y="116.4" width="4.1" height="7.3" fill="#eca8a8"/>
<rect x="125.2" y="116.4" width="4.1" height="7.3" fill="#f5d4d4"/>
<rect x="128.7" y="116.4" width="4.1" height="7.3" fill="#f6f3f7"/>
<rect x="132.1" y="116.4" width="14.5" height="7.3" fill="#eca8a8"/>
<rect x="146.0" y="116.4" width="7.5" height="7.3" fill="#f5d4d4"/>
<rect x="153.0" y="116.4" width="4.1" height="7.3" fill="#c8ccea"/>
<rect x="156.4" y="116.4" width="4.1" height="7.3" fill="#f6f3f7"/>
<rect x="159.9" y="116.4" width="4.1" height="7.3" fill="#f5d4d4"/>
<rect x="163.4" y="116.4" width="4.1" height="7.3" fill="#f6f3f7"/>
<rect x="166.8" y="116.4" width="4.1" height="7.3" fill="#eca8a8"/>
<rect x="170.3" y="116.4" width="4.1" height="7.3" fill="#f5d4d4"/>
<rect x="173.8" y="116.4" width="7.5" height="7.3" fill="#eca8a8"/>
<rect x="180.7" y="116.4" width="7.5" height="7.3" fill="#f5d4d4"/>
<rect x="187.7" y="116.4" width="4.1" height="7.3" fill="#c8ccea"/>
<rect x="191.1" y="116.4" width="4.1" height="7.3" fill="#eca8a8"/>
<rect x="194.6" y="116.4" width="4.1" height="7.3" fill="#f6f3f7"/>
<rect x="198.1" y="116.4" width="4.1" height="7.3" fill="#eca8a8"/>
<rect x="201.6" y="116.4" width="11.0" height="7.3" fill="#c8ccea"/>
<rect x="212.0" y="116.4" width="4.1" height="7.3" fill="#6278c4"/>
<rect x="215.4" y="116.4" width="4.1" height="7.3" fill="#96a0d7"/>
<rect x="218.9" y="116.4" width="11.0" height="7.3" fill="#c8ccea"/>
<rect x="229.3" y="116.4" width="4.1" height="7.3" fill="#96a0d7"/>
<rect x="232.8" y="116.4" width="7.5" height="7.3" fill="#6278c4"/>
<rect x="239.7" y="116.4" width="4.1" height="7.3" fill="#c8ccea"/>
<rect x="243.2" y="116.4" width="4.1" height="7.3" fill="#3a5fb2"/>
<rect x="246.7" y="116.4" width="4.1" height="7.3" fill="#f6f3f7"/>
<rect x="250.2" y="116.4" width="4.1" height="7.3" fill="#3a5fb2"/>
<rect x="253.6" y="116.4" width="4.1" height="7.3" fill="#c8ccea"/>
<rect x="257.1" y="116.4" width="4.1" height="7.3" fill="#3a5fb2"/>
<rect x="260.6" y="116.4" width="11.0" height="7.3" fill="#c8ccea"/>
<rect x="271.0" y="116.4" width="4.1" height="7.3" fill="#f6f3f7"/>
<rect x="274.5" y="116.4" width="7.5" height="7.3" fill="#f5d4d4"/>
<rect x="281.4" y="116.4" width="4.1" height="7.3" fill="#eca8a8"/>
<rect x="284.9" y="116.4" width="4.1" height="7.3" fill="#c84852"/>
<rect x="288.3" y="116.4" width="4.1" height="7.3" fill="#c8ccea"/>
<rect x="291.8" y="116.4" width="4.1" height="7.3" fill="#f5d4d4"/>
<rect x="295.3" y="116.4" width="14.0" height="7.3" fill="#c8ccea"/>
<rect x="18.1" y="123.1" width="10.5" height="7.3" fill="#f5d4d4"/>
<rect x="28.0" y="123.1" width="4.1" height="7.3" fill="#f6f3f7"/>
<rect x="31.5" y="123.1" width="4.1" height="7.3" fill="#96a0d7"/>
<rect x="34.9" y="123.1" width="11.0" height="7.3" fill="#f5d4d4"/>
<rect x="45.3" y="123.1" width="4.1" height="7.3" fill="#f6f3f7"/>
<rect x="48.8" y="123.1" width="7.5" height="7.3" fill="#eca8a8"/>
<rect x="55.8" y="123.1" width="11.0" height="7.3" fill="#f5d4d4"/>
<rect x="66.2" y="123.1" width="4.1" height="7.3" fill="#96a0d7"/>
<rect x="69.6" y="123.1" width="4.1" height="7.3" fill="#dd7d82"/>
<rect x="73.1" y="123.1" width="4.1" height="7.3" fill="#f6f3f7"/>
<rect x="76.6" y="123.1" width="4.1" height="7.3" fill="#f5d4d4"/>
<rect x="80.1" y="123.1" width="4.1" height="7.3" fill="#c8ccea"/>
<rect x="83.5" y="123.1" width="4.1" height="7.3" fill="#96a0d7"/>
<rect x="87.0" y="123.1" width="4.1" height="7.3" fill="#dd7d82"/>
<rect x="90.5" y="123.1" width="7.5" height="7.3" fill="#f5d4d4"/>
<rect x="97.4" y="123.1" width="7.5" height="7.3" fill="#f6f3f7"/>
<rect x="104.4" y="123.1" width="4.1" height="7.3" fill="#f5d4d4"/>
<rect x="107.8" y="123.1" width="4.1" height="7.3" fill="#f6f3f7"/>
<rect x="111.3" y="123.1" width="4.1" height="7.3" fill="#96a0d7"/>
<rect x="114.8" y="123.1" width="4.1" height="7.3" fill="#c8ccea"/>
<rect x="118.2" y="123.1" width="4.1" height="7.3" fill="#3a5fb2"/>
<rect x="121.7" y="123.1" width="4.1" height="7.3" fill="#eca8a8"/>
<rect x="125.2" y="123.1" width="4.1" height="7.3" fill="#f6f3f7"/>
<rect x="128.7" y="123.1" width="11.0" height="7.3" fill="#eca8a8"/>
<rect x="139.1" y="123.1" width="7.5" height="7.3" fill="#f5d4d4"/>
<rect x="146.0" y="123.1" width="7.5" height="7.3" fill="#c8ccea"/>
<rect x="153.0" y="123.1" width="4.1" height="7.3" fill="#f6f3f7"/>
<rect x="156.4" y="123.1" width="4.1" height="7.3" fill="#f5d4d4"/>
<rect x="159.9" y="123.1" width="7.5" height="7.3" fill="#eca8a8"/>
<rect x="166.8" y="123.1" width="4.1" height="7.3" fill="#f5d4d4"/>
<rect x="170.3" y="123.1" width="4.1" height="7.3" fill="#eca8a8"/>
<rect x="173.8" y="123.1" width="4.1" height="7.3" fill="#f5d4d4"/>
<rect x="177.3" y="123.1" width="4.1" height="7.3" fill="#eca8a8"/>
<rect x="180.7" y="123.1" width="4.1" height="7.3" fill="#dd7d82"/>
<rect x="184.2" y="123.1" width="4.1" height="7.3" fill="#eca8a8"/>
<rect x="187.7" y="123.1" width="4.1" height="7.3" fill="#dd7d82"/>
<rect x="191.1" y="123.1" width="4.1" height="7.3" fill="#f6f3f7"/>
<rect x="194.6" y="123.1" width="4.1" height="7.3" fill="#c8ccea"/>
<rect x="198.1" y="123.1" width="4.1" height="7.3" fill="#f6f3f7"/>
<rect x="201.6" y="123.1" width="11.0" height="7.3" fill="#f5d4d4"/>
<rect x="212.0" y="123.1" width="4.1" height="7.3" fill="#c8ccea"/>
<rect x="215.4" y="123.1" width="14.5" height="7.3" fill="#3a5fb2"/>
<rect x="229.3" y="123.1" width="4.1" height="7.3" fill="#c8ccea"/>
<rect x="232.8" y="123.1" width="4.1" height="7.3" fill="#6278c4"/>
<rect x="236.3" y="123.1" width="14.5" height="7.3" fill="#96a0d7"/>
<rect x="250.2" y="123.1" width="7.5" height="7.3" fill="#c8ccea"/>
<rect x="257.1" y="123.1" width="4.1" height="7.3" fill="#3a5fb2"/>
<rect x="260.6" y="123.1" width="4.1" height="7.3" fill="#f5d4d4"/>
<rect x="264.0" y="123.1" width="7.5" height="7.3" fill="#c8ccea"/>
<rect x="271.0" y="123.1" width="4.1" height="7.3" fill="#dd7d82"/>
<rect x="274.5" y="123.1" width="7.5" height="7.3" fill="#eca8a8"/>
<rect x="281.4" y="123.1" width="4.1" height="7.3" fill="#96a0d7"/>
<rect x="284.9" y="123.1" width="7.5" height="7.3" fill="#c8ccea"/>
<rect x="291.8" y="123.1" width="4.1" height="7.3" fill="#eca8a8"/>
<rect x="295.3" y="123.1" width="4.1" height="7.3" fill="#c8ccea"/>
<rect x="298.8" y="123.1" width="4.1" height="7.3" fill="#f6f3f7"/>
<rect x="302.2" y="123.1" width="7.1" height="7.3" fill="#eca8a8"/>
<rect x="18.1" y="129.9" width="7.1" height="7.3" fill="#f5d4d4"/>
<rect x="24.5" y="129.9" width="7.5" height="7.3" fill="#eca8a8"/>
<rect x="31.5" y="129.9" width="11.0" height="7.3" fill="#f5d4d4"/>
<rect x="41.9" y="129.9" width="11.0" height="7.3" fill="#f6f3f7"/>
<rect x="52.3" y="129.9" width="4.1" height="7.3" fill="#f5d4d4"/>
<rect x="55.8" y="129.9" width="4.1" height="7.3" fill="#c8ccea"/>
<rect x="59.2" y="129.9" width="4.1" height="7.3" fill="#f6f3f7"/>
<rect x="62.7" y="129.9" width="4.1" height="7.3" fill="#c8ccea"/>
<rect x="66.2" y="129.9" width="7.5" height="7.3" fill="#eca8a8"/>
<rect x="73.1" y="129.9" width="4.1" height="7.3" fill="#dd7d82"/>
<rect x="76.6" y="129.9" width="4.1" height="7.3" fill="#f6f3f7"/>
<rect x="80.1" y="129.9" width="4.1" height="7.3" fill="#eca8a8"/>
<rect x="83.5" y="129.9" width="4.1" height="7.3" fill="#f6f3f7"/>
<rect x="87.0" y="129.9" width="4.1" height="7.3" fill="#c8ccea"/>
<rect x="90.5" y="129.9" width="4.1" height="7.3" fill="#f5d4d4"/>
<rect x="93.9" y="129.9" width="4.1" height="7.3" fill="#c8ccea"/>
<rect x="97.4" y="129.9" width="11.0" height="7.3" fill="#f5d4d4"/>
<rect x="107.8" y="129.9" width="7.5" height="7.3" fill="#eca8a8"/>
<rect x="114.8" y="129.9" width="4.1" height="7.3" fill="#f5d4d4"/>
<rect x="118.2" y="129.9" width="4.1" height="7.3" fill="#c8ccea"/>
<rect x="121.7" y="129.9" width="4.1" height="7.3" fill="#dd7d82"/>
<rect x="125.2" y="129.9" width="4.1" height="7.3" fill="#96a0d7"/>
<rect x="128.7" y="129.9" width="14.5" height="7.3" fill="#eca8a8"/>
<rect x="142.5" y="129.9" width="14.5" height="7.3" fill="#f5d4d4"/>
<rect x="156.4" y="129.9" width="4.1" height="7.3" fill="#f6f3f7"/>
<rect x="159.9" y="129.9" width="4.1" height="7.3" fill="#c8ccea"/>
<rect x="163.4" y="129.9" width="4.1" height="7.3" fill="#dd7d82"/>
<rect x="166.8" y="129.9" width="7.5" height="7.3" fill="#f5d4d4"/>
<rect x="173.8" y="129.9" width="7.5" height="7.3" fill="#c8ccea"/>
<rect x="180.7" y="129.9" width="4.1" height="7.3" fill="#96a0d7"/>
<rect x="184.2" y="129.9" width="18.0" height="7.3" fill="#c8ccea"/>
<rect x="201.6" y="129.9" width="7.5" height="7.3" fill="#f5d4d4"/>
<rect x="208.5" y="129.9" width="7.5" height="7.3" fill="#c8ccea"/>
<rect x="215.4" y="129.9" width="4.1" height="7.3" fill="#eca8a8"/>
<rect x="218.9" y="129.9" width="4.1" height="7.3" fill="#c8ccea"/>
<rect x="222.4" y="129.9" width="4.1" height="7.3" fill="#f5d4d4"/>
<rect x="225.9" y="129.9" width="4.1" height="7.3" fill="#c8ccea"/>
<rect x="229.3" y="129.9" width="4.1" height="7.3" fill="#dd7d82"/>
<rect x="232.8" y="129.9" width="7.5" height="7.3" fill="#eca8a8"/>
<rect x="239.7" y="129.9" width="4.1" height="7.3" fill="#f5d4d4"/>
<rect x="243.2" y="129.9" width="4.1" height="7.3" fill="#eca8a8"/>
<rect x="246.7" y="129.9" width="7.5" height="7.3" fill="#f5d4d4"/>
<rect x="253.6" y="129.9" width="4.1" height="7.3" fill="#eca8a8"/>
<rect x="257.1" y="129.9" width="4.1" height="7.3" fill="#c8ccea"/>
<rect x="260.6" y="129.9" width="4.1" height="7.3" fill="#3a5fb2"/>
<rect x="264.0" y="129.9" width="4.1" height="7.3" fill="#6278c4"/>
<rect x="267.5" y="129.9" width="4.1" height="7.3" fill="#96a0d7"/>
<rect x="271.0" y="129.9" width="4.1" height="7.3" fill="#6278c4"/>
<rect x="274.5" y="129.9" width="4.1" height="7.3" fill="#3a5fb2"/>
<rect x="277.9" y="129.9" width="4.1" height="7.3" fill="#96a0d7"/>
<rect x="281.4" y="129.9" width="7.5" height="7.3" fill="#3a5fb2"/>
<rect x="288.3" y="129.9" width="4.1" height="7.3" fill="#c8ccea"/>
<rect x="291.8" y="129.9" width="4.1" height="7.3" fill="#3a5fb2"/>
<rect x="295.3" y="129.9" width="7.5" height="7.3" fill="#f6f3f7"/>
<rect x="302.2" y="129.9" width="7.1" height="7.3" fill="#3a5fb2"/>
<rect x="18.1" y="136.6" width="7.1" height="7.3" fill="#dd7d82"/>
<rect x="24.5" y="136.6" width="14.5" height="7.3" fill="#eca8a8"/>
<rect x="38.4" y="136.6" width="4.1" height="7.3" fill="#f5d4d4"/>
<rect x="41.9" y="136.6" width="14.5" height="7.3" fill="#eca8a8"/>
<rect x="55.8" y="136.6" width="7.5" height="7.3" fill="#f5d4d4"/>
<rect x="62.7" y="136.6" width="7.5" height="7.3" fill="#f6f3f7"/>
<rect x="69.6" y="136.6" width="4.1" height="7.3" fill="#c8ccea"/>
<rect x="73.1" y="136.6" width="4.1" height="7.3" fill="#f5d4d4"/>
<rect x="76.6" y="136.6" width="7.5" height="7.3" fill="#eca8a8"/>
<rect x="83.5" y="136.6" width="4.1" height="7.3" fill="#dd7d82"/>
<rect x="87.0" y="136.6" width="4.1" height="7.3" fill="#eca8a8"/>
<rect x="90.5" y="136.6" width="4.1" height="7.3" fill="#f5d4d4"/>
<rect x="93.9" y="136.6" width="11.0" height="7.3" fill="#eca8a8"/>
<rect x="104.4" y="136.6" width="4.1" height="7.3" fill="#f5d4d4"/>
<rect x="107.8" y="136.6" width="4.1" height="7.3" fill="#f6f3f7"/>
<rect x="111.3" y="136.6" width="7.5" height="7.3" fill="#f5d4d4"/>
<rect x="118.2" y="136.6" width="4.1" height="7.3" fill="#f6f3f7"/>
<rect x="121.7" y="136.6" width="7.5" height="7.3" fill="#eca8a8"/>
<rect x="128.7" y="136.6" width="4.1" height="7.3" fill="#f5d4d4"/>
<rect x="132.1" y="136.6" width="18.0" height="7.3" fill="#c8ccea"/>
<rect x="149.5" y="136.6" width="4.1" height="7.3" fill="#96a0d7"/>
<rect x="153.0" y="136.6" width="7.5" height="7.3" fill="#f5d4d4"/>
<rect x="159.9" y="136.6" width="4.1" height="7.3" fill="#c8ccea"/>
<rect x="163.4" y="136.6" width="7.5" height="7.3" fill="#f5d4d4"/>
<rect x="170.3" y="136.6" width="4.1" height="7.3" fill="#f6f3f7"/>
<rect x="173.8" y="136.6" width="4.1" height="7.3" fill="#c8ccea"/>
<rect x="177.3" y="136.6" width="4.1" height="7.3" fill="#f5d4d4"/>
<rect x="180.7" y="136.6" width="11.0" height="7.3" fill="#c8ccea"/>
<rect x="191.1" y="136.6" width="4.1" height="7.3" fill="#f5d4d4"/>
<rect x="194.6" y="136.6" width="4.1" height="7.3" fill="#c8ccea"/>
<rect x="198.1" y="136.6" width="4.1" height="7.3" fill="#f6f3f7"/>
<rect x="201.6" y="136.6" width="4.1" height="7.3" fill="#3a5fb2"/>
<rect x="205.0" y="136.6" width="4.1" height="7.3" fill="#f5d4d4"/>
<rect x="208.5" y="136.6" width="4.1" height="7.3" fill="#f6f3f7"/>
<rect x="212.0" y="136.6" width="4.1" height="7.3" fill="#f5d4d4"/>
<rect x="215.4" y="136.6" width="4.1" height="7.3" fill="#f6f3f7"/>
<rect x="218.9" y="136.6" width="7.5" height="7.3" fill="#f5d4d4"/>
<rect x="225.9" y="136.6" width="4.1" height="7.3" fill="#c8ccea"/>
<rect x="229.3" y="136.6" width="11.0" height="7.3" fill="#f5d4d4"/>
<rect x="239.7" y="136.6" width="4.1" height="7.3" fill="#eca8a8"/>
<rect x="243.2" y="136.6" width="4.1" height="7.3" fill="#f5d4d4"/>
<rect x="246.7" y="136.6" width="4.1" height="7.3" fill="#eca8a8"/>
<rect x="250.2" y="136.6" width="7.5" height="7.3" fill="#f5d4d4"/>
<rect x="257.1" y="136.6" width="4.1" height="7.3" fill="#c8ccea"/>
<rect x="260.6" y="136.6" width="4.1" height="7.3" fill="#3a5fb2"/>
<rect x="264.0" y="136.6" width="4.1" height="7.3" fill="#c8ccea"/>
<rect x="267.5" y="136.6" width="7.5" height="7.3" fill="#3a5fb2"/>
<rect x="274.5" y="136.6" width="4.1" height="7.3" fill="#c8ccea"/>
<rect x="277.9" y="136.6" width="14.5" height="7.3" fill="#3a5fb2"/>
<rect x="291.8" y="136.6" width="11.0" height="7.3" fill="#c8ccea"/>
<rect x="302.2" y="136.6" width="7.1" height="7.3" fill="#3a5fb2"/>
<rect x="18.1" y="143.3" width="10.5" height="7.3" fill="#eca8a8"/>
<rect x="28.0" y="143.3" width="4.1" height="7.3" fill="#f5d4d4"/>
<rect x="31.5" y="143.3" width="4.1" height="7.3" fill="#c8ccea"/>
<rect x="34.9" y="143.3" width="14.5" height="7.3" fill="#eca8a8"/>
<rect x="48.8" y="143.3" width="7.5" height="7.3" fill="#f5d4d4"/>
<rect x="55.8" y="143.3" width="4.1" height="7.3" fill="#f6f3f7"/>
<rect x="59.2" y="143.3" width="18.0" height="7.3" fill="#c8ccea"/>
<rect x="76.6" y="143.3" width="4.1" height="7.3" fill="#96a0d7"/>
<rect x="80.1" y="143.3" width="7.5" height="7.3" fill="#c8ccea"/>
<rect x="87.0" y="143.3" width="4.1" height="7.3" fill="#f5d4d4"/>
<rect x="90.5" y="143.3" width="4.1" height="7.3" fill="#eca8a8"/>
<rect x="93.9" y="143.3" width="4.1" height="7.3" fill="#dd7d82"/>
<rect x="97.4" y="143.3" width="4.1" height="7.3" fill="#eca8a8"/>
<rect x="100.9" y="143.3" width="4.1" height="7.3" fill="#dd7d82"/>
<rect x="104.4" y="143.3" width="18.0" height="7.3" fill="#eca8a8"/>
<rect x="121.7" y="143.3" width="7.5" height="7.3" fill="#dd7d82"/>
<rect x="128.7" y="143.3" width="4.1" height="7.3" fill="#f6f3f7"/>
<rect x="132.1" y="143.3" width="21.4" height="7.3" fill="#c8ccea"/>
<rect x="153.0" y="143.3" width="4.1" height="7.3" fill="#f5d4d4"/>
<rect x="156.4" y="143.3" width="7.5" height="7.3" fill="#c8ccea"/>
<rect x="163.4" y="143.3" width="4.1" height="7.3" fill="#f5d4d4"/>
<rect x="166.8" y="143.3" width="14.5" height="7.3" fill="#f6f3f7"/>
<rect x="180.7" y="143.3" width="4.1" height="7.3" fill="#f5d4d4"/>
<rect x="184.2" y="143.3" width="4.1" height="7.3" fill="#f6f3f7"/>
<rect x="187.7" y="143.3" width="4.1" height="7.3" fill="#3a5fb2"/>
<rect x="191.1" y="143.3" width="7.5" height="7.3" fill="#c8ccea"/>
<rect x="198.1" y="143.3" width="7.5" height="7.3" fill="#96a0d7"/>
<rect x="205.0" y="143.3" width="4.1" height="7.3" fill="#f5d4d4"/>
<rect x="208.5" y="143.3" width="4.1" height="7.3" fill="#96a0d7"/>
<rect x="212.0" y="143.3" width="4.1" height="7.3" fill="#f5d4d4"/>
<rect x="215.4" y="143.3" width="4.1" height="7.3" fill="#c8ccea"/>
<rect x="218.9" y="143.3" width="4.1" height="7.3" fill="#f5d4d4"/>
<rect x="222.4" y="143.3" width="4.1" height="7.3" fill="#96a0d7"/>
<rect x="225.9" y="143.3" width="11.0" height="7.3" fill="#f5d4d4"/>
<rect x="236.3" y="143.3" width="4.1" height="7.3" fill="#eca8a8"/>
<rect x="239.7" y="143.3" width="4.1" height="7.3" fill="#f5d4d4"/>
<rect x="243.2" y="143.3" width="4.1" height="7.3" fill="#eca8a8"/>
<rect x="246.7" y="143.3" width="14.5" height="7.3" fill="#dd7d82"/>
<rect x="260.6" y="143.3" width="4.1" height="7.3" fill="#96a0d7"/>
<rect x="264.0" y="143.3" width="4.1" height="7.3" fill="#6278c4"/>
<rect x="267.5" y="143.3" width="11.0" height="7.3" fill="#96a0d7"/>
<rect x="277.9" y="143.3" width="7.5" height="7.3" fill="#6278c4"/>
<rect x="284.9" y="143.3" width="24.4" height="7.3" fill="#96a0d7"/>
<rect x="18.1" y="150.1" width="7.1" height="7.3" fill="#eca8a8"/>
<rect x="24.5" y="150.1" width="4.1" height="7.3" fill="#f5d4d4"/>
<rect x="28.0" y="150.1" width="4.1" height="7.3" fill="#f6f3f7"/>
<rect x="31.5" y="150.1" width="4.1" height="7.3" fill="#eca8a8"/>
<rect x="34.9" y="150.1" width="4.1" height="7.3" fill="#f5d4d4"/>
<rect x="38.4" y="150.1" width="4.1" height="7.3" fill="#eca8a8"/>
<rect x="41.9" y="150.1" width="4.1" height="7.3" fill="#f5d4d4"/>
<rect x="45.3" y="150.1" width="11.0" height="7.3" fill="#eca8a8"/>
<rect x="55.8" y="150.1" width="4.1" height="7.3" fill="#f5d4d4"/>
<rect x="59.2" y="150.1" width="4.1" height="7.3" fill="#f6f3f7"/>
<rect x="62.7" y="150.1" width="4.1" height="7.3" fill="#f5d4d4"/>
<rect x="66.2" y="150.1" width="7.5" height="7.3" fill="#f6f3f7"/>
<rect x="73.1" y="150.1" width="4.1" height="7.3" fill="#f5d4d4"/>
<rect x="76.6" y="150.1" width="7.5" height="7.3" fill="#eca8a8"/>
<rect x="83.5" y="150.1" width="4.1" height="7.3" fill="#f6f3f7"/>
<rect x="87.0" y="150.1" width="4.1" height="7.3" fill="#dd7d82"/>
<rect x="90.5" y="150.1" width="4.1" height="7.3" fill="#f5d4d4"/>
<rect x="93.9" y="150.1" width="7.5" height="7.3" fill="#eca8a8"/>
<rect x="100.9" y="150.1" width="28.4" height="7.3" fill="#f5d4d4"/>
<rect x="128.7" y="150.1" width="4.1" height="7.3" fill="#dd7d82"/>
<rect x="132.1" y="150.1" width="18.0" height="7.3" fill="#c8ccea"/>
<rect x="149.5" y="150.1" width="4.1" height="7.3" fill="#96a0d7"/>
<rect x="153.0" y="150.1" width="4.1" height="7.3" fill="#c8ccea"/>
<rect x="156.4" y="150.1" width="11.0" height="7.3" fill="#f5d4d4"/>
<rect x="166.8" y="150.1" width="7.5" height="7.3" fill="#c8ccea"/>
<rect x="173.8" y="150.1" width="7.5" height="7.3" fill="#f6f3f7"/>
<rect x="180.7" y="150.1" width="7.5" height="7.3" fill="#96a0d7"/>
<rect x="187.7" y="150.1" width="4.1" height="7.3" fill="#c8ccea"/>
<rect x="191.1" y="150.1" width="4.1" height="7.3" fill="#f6f3f7"/>
<rect x="194.6" y="150.1" width="14.5" height="7.3" fill="#c8ccea"/>
<rect x="208.5" y="150.1" width="4.1" height="7.3" fill="#96a0d7"/>
<rect x="212.0" y="150.1" width="4.1" height="7.3" fill="#eca8a8"/>
<rect x="215.4" y="150.1" width="11.0" height="7.3" fill="#c8ccea"/>
<rect x="225.9" y="150.1" width="4.1" height="7.3" fill="#f6f3f7"/>
<rect x="229.3" y="150.1" width="14.5" height="7.3" fill="#eca8a8"/>
<rect x="243.2" y="150.1" width="4.1" height="7.3" fill="#dd7d82"/>
<rect x="246.7" y="150.1" width="14.5" height="7.3" fill="#eca8a8"/>
<rect x="260.6" y="150.1" width="4.1" height="7.3" fill="#3a5fb2"/>
<rect x="264.0" y="150.1" width="4.1" height="7.3" fill="#96a0d7"/>
<rect x="267.5" y="150.1" width="4.1" height="7.3" fill="#3a5fb2"/>
<rect x="271.0" y="150.1" width="4.1" height="7.3" fill="#c8ccea"/>
<rect x="274.5" y="150.1" width="11.0" height="7.3" fill="#6278c4"/>
<rect x="284.9" y="150.1" width="4.1" height="7.3" fill="#3a5fb2"/>
<rect x="288.3" y="150.1" width="4.1" height="7.3" fill="#f6f3f7"/>
<rect x="291.8" y="150.1" width="4.1" height="7.3" fill="#3a5fb2"/>
<rect x="295.3" y="150.1" width="4.1" height="7.3" fill="#96a0d7"/>
<rect x="298.8" y="150.1" width="10.5" height="7.3" fill="#3a5fb2"/>
<rect x="18.1" y="156.8" width="10.5" height="7.3" fill="#eca8a8"/>
<rect x="28.0" y="156.8" width="4.1" height="7.3" fill="#f6f3f7"/>
<rect x="31.5" y="156.8" width="4.1" height="7.3" fill="#eca8a8"/>
<rect x="34.9" y="156.8" width="4.1" height="7.3" fill="#f5d4d4"/>
<rect x="38.4" y="156.8" width="4.1" height="7.3" fill="#eca8a8"/>
<rect x="41.9" y="156.8" width="11.0" height="7.3" fill="#f5d4d4"/>
<rect x="52.3" y="156.8" width="4.1" height="7.3" fill="#dd7d82"/>
<rect x="55.8" y="156.8" width="4.1" height="7.3" fill="#f5d4d4"/>
<rect x="59.2" y="156.8" width="4.1" height="7.3" fill="#f6f3f7"/>
<rect x="62.7" y="156.8" width="4.1" height="7.3" fill="#c8ccea"/>
<rect x="66.2" y="156.8" width="4.1" height="7.3" fill="#96a0d7"/>
<rect x="69.6" y="156.8" width="4.1" height="7.3" fill="#eca8a8"/>
<rect x="73.1" y="156.8" width="4.1" height="7.3" fill="#c8ccea"/>
<rect x="76.6" y="156.8" width="18.0" height="7.3" fill="#f5d4d4"/>
<rect x="93.9" y="156.8" width="7.5" height="7.3" fill="#eca8a8"/>
<rect x="100.9" y="156.8" width="18.0" height="7.3" fill="#f5d4d4"/>
<rect x="118.2" y="156.8" width="4.1" height="7.3" fill="#c8ccea"/>
<rect x="121.7" y="156.8" width="4.1" height="7.3" fill="#6278c4"/>
<rect x="125.2" y="156.8" width="4.1" height="7.3" fill="#f5d4d4"/>
<rect x="128.7" y="156.8" width="4.1" height="7.3" fill="#eca8a8"/>
<rect x="132.1" y="156.8" width="4.1" height="7.3" fill="#c8ccea"/>
<rect x="135.6" y="156.8" width="14.5" height="7.3" fill="#f5d4d4"/>
<rect x="149.5" y="156.8" width="4.1" height="7.3" fill="#c8ccea"/>
<rect x="153.0" y="156.8" width="4.1" height="7.3" fill="#96a0d7"/>
<rect x="156.4" y="156.8" width="7.5" height="7.3" fill="#f5d4d4"/>
<rect x="163.4" y="156.8" width="7.5" height="7.3" fill="#c8ccea"/>
<rect x="170.3" y="156.8" width="4.1" height="7.3" fill="#f6f3f7"/>
<rect x="173.8" y="156.8" width="4.1" height="7.3" fill="#f5d4d4"/>
<rect x="177.3" y="156.8" width="4.1" height="7.3" fill="#c8ccea"/>
<rect x="180.7" y="156.8" width="4.1" height="7.3" fill="#f5d4d4"/>
<rect x="184.2" y="156.8" width="7.5" height="7.3" fill="#c8ccea"/>
<rect x="191.1" y="156.8" width="4.1" height="7.3" fill="#f6f3f7"/>
<rect x="194.6" y="156.8" width="7.5" height="7.3" fill="#c8ccea"/>
<rect x="201.6" y="156.8" width="4.1" height="7.3" fill="#3a5fb2"/>
<rect x="205.0" y="156.8" width="4.1" height="7.3" fill="#f6f3f7"/>
<rect x="208.5" y="156.8" width="4.1" height="7.3" fill="#96a0d7"/>
<rect x="212.0" y="156.8" width="7.5" height="7.3" fill="#eca8a8"/>
<rect x="218.9" y="156.8" width="4.1" height="7.3" fill="#c8ccea"/>
<rect x="222.4" y="156.8" width="4.1" height="7.3" fill="#6278c4"/>
<rect x="225.9" y="156.8" width="4.1" height="7.3" fill="#f6f3f7"/>
<rect x="229.3" y="156.8" width="4.1" height="7.3" fill="#f5d4d4"/>
<rect x="232.8" y="156.8" width="4.1" height="7.3" fill="#f6f3f7"/>
<rect x="236.3" y="156.8" width="7.5" height="7.3" fill="#f5d4d4"/>
<rect x="243.2" y="156.8" width="18.0" height="7.3" fill="#eca8a8"/>
<rect x="260.6" y="156.8" width="4.1" height="7.3" fill="#96a0d7"/>
<rect x="264.0" y="156.8" width="4.1" height="7.3" fill="#f5d4d4"/>
<rect x="267.5" y="156.8" width="4.1" height="7.3" fill="#96a0d7"/>
<rect x="271.0" y="156.8" width="4.1" height="7.3" fill="#f5d4d4"/>
<rect x="274.5" y="156.8" width="4.1" height="7.3" fill="#c8ccea"/>
<rect x="277.9" y="156.8" width="4.1" height="7.3" fill="#96a0d7"/>
<rect x="281.4" y="156.8" width="7.5" height="7.3" fill="#3a5fb2"/>
<rect x="288.3" y="156.8" width="4.1" height="7.3" fill="#6278c4"/>
<rect x="291.8" y="156.8" width="4.1" height="7.3" fill="#f6f3f7"/>
<rect x="295.3" y="156.8" width="7.5" height="7.3" fill="#96a0d7"/>
<rect x="302.2" y="156.8" width="7.1" height="7.3" fill="#3a5fb2"/>
<rect x="18.1" y="163.6" width="17.5" height="7.3" fill="#f5d4d4"/>
<rect x="34.9" y="163.6" width="4.1" height="7.3" fill="#f6f3f7"/>
<rect x="38.4" y="163.6" width="4.1" height="7.3" fill="#eca8a8"/>
<rect x="41.9" y="163.6" width="4.1" height="7.3" fill="#c8ccea"/>
<rect x="45.3" y="163.6" width="7.5" height="7.3" fill="#f5d4d4"/>
<rect x="52.3" y="163.6" width="4.1" height="7.3" fill="#eca8a8"/>
<rect x="55.8" y="163.6" width="28.4" height="7.3" fill="#f5d4d4"/>
<rect x="83.5" y="163.6" width="11.0" height="7.3" fill="#eca8a8"/>
<rect x="93.9" y="163.6" width="4.1" height="7.3" fill="#f5d4d4"/>
<rect x="97.4" y="163.6" width="7.5" height="7.3" fill="#eca8a8"/>
<rect x="104.4" y="163.6" width="4.1" height="7.3" fill="#f5d4d4"/>
<rect x="107.8" y="163.6" width="4.1" height="7.3" fill="#f6f3f7"/>
<rect x="111.3" y="163.6" width="4.1" height="7.3" fill="#f5d4d4"/>
<rect x="114.8" y="163.6" width="4.1" height="7.3" fill="#eca8a8"/>
<rect x="118.2" y="163.6" width="7.5" height="7.3" fill="#c8ccea"/>
<rect x="125.2" y="163.6" width="7.5" height="7.3" fill="#f5d4d4"/>
<rect x="132.1" y="163.6" width="14.5" height="7.3" fill="#c8ccea"/>
<rect x="146.0" y="163.6" width="4.1" height="7.3" fill="#f5d4d4"/>
<rect x="149.5" y="163.6" width="7.5" height="7.3" fill="#c8ccea"/>
<rect x="156.4" y="163.6" width="4.1" height="7.3" fill="#f6f3f7"/>
<rect x="159.9" y="163.6" width="4.1" height="7.3" fill="#c8ccea"/>
<rect x="163.4" y="163.6" width="7.5" height="7.3" fill="#96a0d7"/>
<rect x="170.3" y="163.6" width="11.0" height="7.3" fill="#c8ccea"/>
<rect x="180.7" y="163.6" width="4.1" height="7.3" fill="#eca8a8"/>
<rect x="184.2" y="163.6" width="4.1" height="7.3" fill="#f5d4d4"/>
<rect x="187.7" y="163.6" width="4.1" height="7.3" fill="#c8ccea"/>
<rect x="191.1" y="163.6" width="4.1" height="7.3" fill="#3a5fb2"/>
<rect x="194.6" y="163.6" width="4.1" height="7.3" fill="#6278c4"/>
<rect x="198.1" y="163.6" width="4.1" height="7.3" fill="#96a0d7"/>
<rect x="201.6" y="163.6" width="4.1" height="7.3" fill="#c8ccea"/>
<rect x="205.0" y="163.6" width="7.5" height="7.3" fill="#f5d4d4"/>
<rect x="212.0" y="163.6" width="4.1" height="7.3" fill="#eca8a8"/>
<rect x="215.4" y="163.6" width="4.1" height="7.3" fill="#c8ccea"/>
<rect x="218.9" y="163.6" width="7.5" height="7.3" fill="#f5d4d4"/>
<rect x="225.9" y="163.6" width="4.1" height="7.3" fill="#c8ccea"/>
<rect x="229.3" y="163.6" width="4.1" height="7.3" fill="#f5d4d4"/>
<rect x="232.8" y="163.6" width="11.0" height="7.3" fill="#eca8a8"/>
<rect x="243.2" y="163.6" width="4.1" height="7.3" fill="#dd7d82"/>
<rect x="246.7" y="163.6" width="4.1" height="7.3" fill="#f5d4d4"/>
<rect x="250.2" y="163.6" width="4.1" height="7.3" fill="#eca8a8"/>
<rect x="253.6" y="163.6" width="4.1" height="7.3" fill="#dd7d82"/>
<rect x="257.1" y="163.6" width="4.1" height="7.3" fill="#f5d4d4"/>
<rect x="260.6" y="163.6" width="7.5" height="7.3" fill="#c8ccea"/>
<rect x="267.5" y="163.6" width="4.1" height="7.3" fill="#f6f3f7"/>
<rect x="271.0" y="163.6" width="4.1" height="7.3" fill="#f5d4d4"/>
<rect x="274.5" y="163.6" width="4.1" height="7.3" fill="#c8ccea"/>
<rect x="277.9" y="163.6" width="7.5" height="7.3" fill="#96a0d7"/>
<rect x="284.9" y="163.6" width="4.1" height="7.3" fill="#3a5fb2"/>
<rect x="288.3" y="163.6" width="4.1" height="7.3" fill="#c8ccea"/>
<rect x="291.8" y="163.6" width="7.5" height="7.3" fill="#6278c4"/>
<rect x="298.8" y="163.6" width="10.5" height="7.3" fill="#3a5fb2"/>
<rect x="18.1" y="170.3" width="10.5" height="7.3" fill="#eca8a8"/>
<rect x="28.0" y="170.3" width="14.5" height="7.3" fill="#f5d4d4"/>
<rect x="41.9" y="170.3" width="4.1" height="7.3" fill="#f6f3f7"/>
<rect x="45.3" y="170.3" width="14.5" height="7.3" fill="#f5d4d4"/>
<rect x="59.2" y="170.3" width="4.1" height="7.3" fill="#eca8a8"/>
<rect x="62.7" y="170.3" width="4.1" height="7.3" fill="#c8ccea"/>
<rect x="66.2" y="170.3" width="4.1" height="7.3" fill="#96a0d7"/>
<rect x="69.6" y="170.3" width="4.1" height="7.3" fill="#c8ccea"/>
<rect x="73.1" y="170.3" width="7.5" height="7.3" fill="#eca8a8"/>
<rect x="80.1" y="170.3" width="7.5" height="7.3" fill="#dd7d82"/>
<rect x="87.0" y="170.3" width="4.1" height="7.3" fill="#eca8a8"/>
<rect x="90.5" y="170.3" width="4.1" height="7.3" fill="#c8ccea"/>
<rect x="93.9" y="170.3" width="4.1" height="7.3" fill="#eca8a8"/>
<rect x="97.4" y="170.3" width="4.1" height="7.3" fill="#f6f3f7"/>
<rect x="100.9" y="170.3" width="21.4" height="7.3" fill="#f5d4d4"/>
<rect x="121.7" y="170.3" width="4.1" height="7.3" fill="#6278c4"/>
<rect x="125.2" y="170.3" width="7.5" height="7.3" fill="#f6f3f7"/>
<rect x="132.1" y="170.3" width="21.4" height="7.3" fill="#96a0d7"/>
<rect x="153.0" y="170.3" width="4.1" height="7.3" fill="#c8ccea"/>
<rect x="156.4" y="170.3" width="4.1" height="7.3" fill="#f5d4d4"/>
<rect x="159.9" y="170.3" width="14.5" height="7.3" fill="#f6f3f7"/>
<rect x="173.8" y="170.3" width="18.0" height="7.3" fill="#c8ccea"/>
<rect x="191.1" y="170.3" width="11.0" height="7.3" fill="#f5d4d4"/>
<rect x="201.6" y="170.3" width="4.1" height="7.3" fill="#3a5fb2"/>
<rect x="205.0" y="170.3" width="4.1" height="7.3" fill="#eca8a8"/>
<rect x="208.5" y="170.3" width="14.5" height="7.3" fill="#c8ccea"/>
<rect x="222.4" y="170.3" width="4.1" height="7.3" fill="#eca8a8"/>
<rect x="225.9" y="170.3" width="4.1" height="7.3" fill="#f5d4d4"/>
<rect x="229.3" y="170.3" width="4.1" height="7.3" fill="#f6f3f7"/>
<rect x="232.8" y="170.3" width="4.1" height="7.3" fill="#f5d4d4"/>
<rect x="236.3" y="170.3" width="4.1" height="7.3" fill="#f6f3f7"/>
<rect x="239.7" y="170.3" width="4.1" height="7.3" fill="#f5d4d4"/>
<rect x="243.2" y="170.3" width="14.5" height="7.3" fill="#eca8a8"/>
<rect x="257.1" y="170.3" width="4.1" height="7.3" fill="#3a5fb2"/>
<rect x="260.6" y="170.3" width="4.1" height="7.3" fill="#f6f3f7"/>
<rect x="264.0" y="170.3" width="4.1" height="7.3" fill="#c8ccea"/>
<rect x="267.5" y="170.3" width="7.5" height="7.3" fill="#3a5fb2"/>
<rect x="274.5" y="170.3" width="4.1" height="7.3" fill="#c8ccea"/>
<rect x="277.9" y="170.3" width="7.5" height="7.3" fill="#96a0d7"/>
<rect x="284.9" y="170.3" width="4.1" height="7.3" fill="#3a5fb2"/>
<rect x="288.3" y="170.3" width="4.1" height="7.3" fill="#f6f3f7"/>
<rect x="291.8" y="170.3" width="4.1" height="7.3" fill="#f5d4d4"/>
<rect x="295.3" y="170.3" width="4.1" height="7.3" fill="#dd7d82"/>
<rect x="298.8" y="170.3" width="4.1" height="7.3" fill="#f6f3f7"/>
<rect x="302.2" y="170.3" width="7.1" height="7.3" fill="#c8ccea"/>
<rect x="18.1" y="177.1" width="10.5" height="7.3" fill="#eca8a8"/>
<rect x="28.0" y="177.1" width="7.5" height="7.3" fill="#f5d4d4"/>
<rect x="34.9" y="177.1" width="4.1" height="7.3" fill="#c8ccea"/>
<rect x="38.4" y="177.1" width="4.1" height="7.3" fill="#f5d4d4"/>
<rect x="41.9" y="177.1" width="4.1" height="7.3" fill="#c8ccea"/>
<rect x="45.3" y="177.1" width="4.1" height="7.3" fill="#f6f3f7"/>
<rect x="48.8" y="177.1" width="7.5" height="7.3" fill="#eca8a8"/>
<rect x="55.8" y="177.1" width="11.0" height="7.3" fill="#f5d4d4"/>
<rect x="66.2" y="177.1" width="4.1" height="7.3" fill="#c8ccea"/>
<rect x="69.6" y="177.1" width="4.1" height="7.3" fill="#dd7d82"/>
<rect x="73.1" y="177.1" width="4.1" height="7.3" fill="#96a0d7"/>
<rect x="76.6" y="177.1" width="11.0" height="7.3" fill="#eca8a8"/>
<rect x="87.0" y="177.1" width="4.1" height="7.3" fill="#96a0d7"/>
<rect x="90.5" y="177.1" width="4.1" height="7.3" fill="#f6f3f7"/>
<rect x="93.9" y="177.1" width="7.5" height="7.3" fill="#f5d4d4"/>
<rect x="100.9" y="177.1" width="4.1" height="7.3" fill="#96a0d7"/>
<rect x="104.4" y="177.1" width="4.1" height="7.3" fill="#f5d4d4"/>
<rect x="107.8" y="177.1" width="4.1" height="7.3" fill="#f6f3f7"/>
<rect x="111.3" y="177.1" width="18.0" height="7.3" fill="#96a0d7"/>
<rect x="128.7" y="177.1" width="4.1" height="7.3" fill="#f6f3f7"/>
<rect x="132.1" y="177.1" width="21.4" height="7.3" fill="#96a0d7"/>
<rect x="153.0" y="177.1" width="4.1" height="7.3" fill="#eca8a8"/>
<rect x="156.4" y="177.1" width="11.0" height="7.3" fill="#c8ccea"/>
<rect x="166.8" y="177.1" width="4.1" height="7.3" fill="#f6f3f7"/>
<rect x="170.3" y="177.1" width="4.1" height="7.3" fill="#96a0d7"/>
<rect x="173.8" y="177.1" width="4.1" height="7.3" fill="#f5d4d4"/>
<rect x="177.3" y="177.1" width="4.1" height="7.3" fill="#f6f3f7"/>
<rect x="180.7" y="177.1" width="11.0" height="7.3" fill="#eca8a8"/>
<rect x="191.1" y="177.1" width="4.1" height="7.3" fill="#c8ccea"/>
<rect x="194.6" y="177.1" width="11.0" height="7.3" fill="#96a0d7"/>
<rect x="205.0" y="177.1" width="7.5" height="7.3" fill="#dd7d82"/>
<rect x="212.0" y="177.1" width="4.1" height="7.3" fill="#f5d4d4"/>
<rect x="215.4" y="177.1" width="4.1" height="7.3" fill="#c8ccea"/>
<rect x="218.9" y="177.1" width="4.1" height="7.3" fill="#f5d4d4"/>
<rect x="222.4" y="177.1" width="4.1" height="7.3" fill="#eca8a8"/>
<rect x="225.9" y="177.1" width="4.1" height="7.3" fill="#dd7d82"/>
<rect x="229.3" y="177.1" width="4.1" height="7.3" fill="#f5d4d4"/>
<rect x="232.8" y="177.1" width="11.0" height="7.3" fill="#eca8a8"/>
<rect x="243.2" y="177.1" width="4.1" height="7.3" fill="#f5d4d4"/>
<rect x="246.7" y="177.1" width="4.1" height="7.3" fill="#c8ccea"/>
<rect x="250.2" y="177.1" width="4.1" height="7.3" fill="#f5d4d4"/>
<rect x="253.6" y="177.1" width="4.1" height="7.3" fill="#96a0d7"/>
<rect x="257.1" y="177.1" width="4.1" height="7.3" fill="#f6f3f7"/>
<rect x="260.6" y="177.1" width="7.5" height="7.3" fill="#eca8a8"/>
<rect x="267.5" y="177.1" width="4.1" height="7.3" fill="#c8ccea"/>
<rect x="271.0" y="177.1" width="4.1" height="7.3" fill="#eca8a8"/>
<rect x="274.5" y="177.1" width="4.1" height="7.3" fill="#f5d4d4"/>
<rect x="277.9" y="177.1" width="4.1" height="7.3" fill="#c8ccea"/>
<rect x="281.4" y="177.1" width="4.1" height="7.3" fill="#f5d4d4"/>
<rect x="284.9" y="177.1" width="4.1" height="7.3" fill="#96a0d7"/>
<rect x="288.3" y="177.1" width="4.1" height="7.3" fill="#f6f3f7"/>
<rect x="291.8" y="177.1" width="7.5" height="7.3" fill="#96a0d7"/>
<rect x="298.8" y="177.1" width="4.1" height="7.3" fill="#c8ccea"/>
<rect x="302.2" y="177.1" width="7.1" height="7.3" fill="#96a0d7"/>
<rect x="18.1" y="183.8" width="14.0" height="7.3" fill="#f5d4d4"/>
<rect x="31.5" y="183.8" width="4.1" height="7.3" fill="#eca8a8"/>
<rect x="34.9" y="183.8" width="7.5" height="7.3" fill="#c8ccea"/>
<rect x="41.9" y="183.8" width="4.1" height="7.3" fill="#f5d4d4"/>
<rect x="45.3" y="183.8" width="4.1" height="7.3" fill="#f6f3f7"/>
<rect x="48.8" y="183.8" width="4.1" height="7.3" fill="#c8ccea"/>
<rect x="52.3" y="183.8" width="4.1" height="7.3" fill="#3a5fb2"/>
<rect x="55.8" y="183.8" width="4.1" height="7.3" fill="#6278c4"/>
<rect x="59.2" y="183.8" width="4.1" height="7.3" fill="#c8ccea"/>
<rect x="62.7" y="183.8" width="4.1" height="7.3" fill="#f6f3f7"/>
<rect x="66.2" y="183.8" width="4.1" height="7.3" fill="#c8ccea"/>
<rect x="69.6" y="183.8" width="4.1" height="7.3" fill="#96a0d7"/>
<rect x="73.1" y="183.8" width="4.1" height="7.3" fill="#c8ccea"/>
<rect x="76.6" y="183.8" width="4.1" height="7.3" fill="#f6f3f7"/>
<rect x="80.1" y="183.8" width="4.1" height="7.3" fill="#c8ccea"/>
<rect x="83.5" y="183.8" width="4.1" height="7.3" fill="#eca8a8"/>
<rect x="87.0" y="183.8" width="7.5" height="7.3" fill="#f5d4d4"/>
<rect x="93.9" y="183.8" width="7.5" height="7.3" fill="#f6f3f7"/>
<rect x="100.9" y="183.8" width="7.5" height="7.3" fill="#f5d4d4"/>
<rect x="107.8" y="183.8" width="4.1" height="7.3" fill="#96a0d7"/>
<rect x="111.3" y="183.8" width="4.1" height="7.3" fill="#f6f3f7"/>
<rect x="114.8" y="183.8" width="4.1" height="7.3" fill="#c8ccea"/>
<rect x="118.2" y="183.8" width="7.5" height="7.3" fill="#f5d4d4"/>
<rect x="125.2" y="183.8" width="4.1" height="7.3" fill="#c8ccea"/>
<rect x="128.7" y="183.8" width="4.1" height="7.3" fill="#eca8a8"/>
<rect x="132.1" y="183.8" width="7.5" height="7.3" fill="#6278c4"/>
<rect x="139.1" y="183.8" width="4.1" height="7.3" fill="#96a0d7"/>
<rect x="142.5" y="183.8" width="4.1" height="7.3" fill="#3a5fb2"/>
<rect x="146.0" y="183.8" width="4.1" height="7.3" fill="#6278c4"/>
<rect x="149.5" y="183.8" width="4.1" height="7.3" fill="#96a0d7"/>
<rect x="153.0" y="183.8" width="4.1" height="7.3" fill="#f5d4d4"/>
<rect x="156.4" y="183.8" width="4.1" height="7.3" fill="#f6f3f7"/>
<rect x="159.9" y="183.8" width="4.1" height="7.3" fill="#f5d4d4"/>
<rect x="163.4" y="183.8" width="11.0" height="7.3" fill="#eca8a8"/>
<rect x="173.8" y="183.8" width="4.1" height="7.3" fill="#dd7d82"/>
<rect x="177.3" y="183.8" width="4.1" height="7.3" fill="#eca8a8"/>
<rect x="180.7" y="183.8" width="4.1" height="7.3" fill="#f6f3f7"/>
<rect x="184.2" y="183.8" width="4.1" height="7.3" fill="#eca8a8"/>
<rect x="187.7" y="183.8" width="4.1" height="7.3" fill="#f6f3f7"/>
<rect x="191.1" y="183.8" width="7.5" height="7.3" fill="#f5d4d4"/>
<rect x="198.1" y="183.8" width="4.1" height="7.3" fill="#f6f3f7"/>
<rect x="201.6" y="183.8" width="4.1" height="7.3" fill="#f5d4d4"/>
<rect x="205.0" y="183.8" width="4.1" height="7.3" fill="#c8ccea"/>
<rect x="208.5" y="183.8" width="4.1" height="7.3" fill="#3a5fb2"/>
<rect x="212.0" y="183.8" width="4.1" height="7.3" fill="#f5d4d4"/>
<rect x="215.4" y="183.8" width="4.1" height="7.3" fill="#f6f3f7"/>
<rect x="218.9" y="183.8" width="4.1" height="7.3" fill="#eca8a8"/>
<rect x="222.4" y="183.8" width="4.1" height="7.3" fill="#6278c4"/>
<rect x="225.9" y="183.8" width="4.1" height="7.3" fill="#96a0d7"/>
<rect x="229.3" y="183.8" width="4.1" height="7.3" fill="#f5d4d4"/>
<rect x="232.8" y="183.8" width="4.1" height="7.3" fill="#c8ccea"/>
<rect x="236.3" y="183.8" width="4.1" height="7.3" fill="#eca8a8"/>
<rect x="239.7" y="183.8" width="4.1" height="7.3" fill="#f5d4d4"/>
<rect x="243.2" y="183.8" width="4.1" height="7.3" fill="#eca8a8"/>
<rect x="246.7" y="183.8" width="4.1" height="7.3" fill="#f5d4d4"/>
<rect x="250.2" y="183.8" width="4.1" height="7.3" fill="#96a0d7"/>
<rect x="253.6" y="183.8" width="4.1" height="7.3" fill="#f5d4d4"/>
<rect x="257.1" y="183.8" width="7.5" height="7.3" fill="#eca8a8"/>
<rect x="264.0" y="183.8" width="7.5" height="7.3" fill="#f5d4d4"/>
<rect x="271.0" y="183.8" width="4.1" height="7.3" fill="#f6f3f7"/>
<rect x="274.5" y="183.8" width="7.5" height="7.3" fill="#f5d4d4"/>
<rect x="281.4" y="183.8" width="4.1" height="7.3" fill="#eca8a8"/>
<rect x="284.9" y="183.8" width="4.1" height="7.3" fill="#f5d4d4"/>
<rect x="288.3" y="183.8" width="4.1" height="7.3" fill="#f6f3f7"/>
<rect x="291.8" y="183.8" width="4.1" height="7.3" fill="#3a5fb2"/>
<rect x="295.3" y="183.8" width="7.5" height="7.3" fill="#96a0d7"/>
<rect x="302.2" y="183.8" width="7.1" height="7.3" fill="#f5d4d4"/>
<rect x="18.1" y="190.5" width="7.1" height="7.3" fill="#f6f3f7"/>
<rect x="24.5" y="190.5" width="4.1" height="7.3" fill="#96a0d7"/>
<rect x="28.0" y="190.5" width="4.1" height="7.3" fill="#f6f3f7"/>
<rect x="31.5" y="190.5" width="14.5" height="7.3" fill="#c8ccea"/>
<rect x="45.3" y="190.5" width="4.1" height="7.3" fill="#96a0d7"/>
<rect x="48.8" y="190.5" width="4.1" height="7.3" fill="#f6f3f7"/>
<rect x="52.3" y="190.5" width="7.5" height="7.3" fill="#c8ccea"/>
<rect x="59.2" y="190.5" width="4.1" height="7.3" fill="#96a0d7"/>
<rect x="62.7" y="190.5" width="4.1" height="7.3" fill="#c8ccea"/>
<rect x="66.2" y="190.5" width="7.5" height="7.3" fill="#96a0d7"/>
<rect x="73.1" y="190.5" width="4.1" height="7.3" fill="#f5d4d4"/>
<rect x="76.6" y="190.5" width="4.1" height="7.3" fill="#eca8a8"/>
<rect x="80.1" y="190.5" width="4.1" height="7.3" fill="#c8ccea"/>
<rect x="83.5" y="190.5" width="4.1" height="7.3" fill="#f5d4d4"/>
<rect x="87.0" y="190.5" width="4.1" height="7.3" fill="#f6f3f7"/>
<rect x="90.5" y="190.5" width="7.5" height="7.3" fill="#f5d4d4"/>
<rect x="97.4" y="190.5" width="4.1" height="7.3" fill="#f6f3f7"/>
<rect x="100.9" y="190.5" width="11.0" height="7.3" fill="#f5d4d4"/>
<rect x="111.3" y="190.5" width="18.0" height="7.3" fill="#eca8a8"/>
<rect x="128.7" y="190.5" width="4.1" height="7.3" fill="#96a0d7"/>
<rect x="132.1" y="190.5" width="4.1" height="7.3" fill="#f6f3f7"/>
<rect x="135.6" y="190.5" width="4.1" height="7.3" fill="#c8ccea"/>
<rect x="139.1" y="190.5" width="4.1" height="7.3" fill="#96a0d7"/>
<rect x="142.5" y="190.5" width="4.1" height="7.3" fill="#c8ccea"/>
<rect x="146.0" y="190.5" width="4.1" height="7.3" fill="#96a0d7"/>
<rect x="149.5" y="190.5" width="4.1" height="7.3" fill="#f5d4d4"/>
<rect x="153.0" y="190.5" width="4.1" height="7.3" fill="#f6f3f7"/>
<rect x="156.4" y="190.5" width="11.0" height="7.3" fill="#96a0d7"/>
<rect x="166.8" y="190.5" width="14.5" height="7.3" fill="#c8ccea"/>
<rect x="180.7" y="190.5" width="4.1" height="7.3" fill="#96a0d7"/>
<rect x="184.2" y="190.5" width="7.5" height="7.3" fill="#c8ccea"/>
<rect x="191.1" y="190.5" width="4.1" height="7.3" fill="#96a0d7"/>
<rect x="194.6" y="190.5" width="4.1" height="7.3" fill="#f6f3f7"/>
<rect x="198.1" y="190.5" width="7.5" height="7.3" fill="#c8ccea"/>
<rect x="205.0" y="190.5" width="4.1" height="7.3" fill="#eca8a8"/>
<rect x="208.5" y="190.5" width="4.1" height="7.3" fill="#f6f3f7"/>
<rect x="212.0" y="190.5" width="4.1" height="7.3" fill="#c8ccea"/>
<rect x="215.4" y="190.5" width="4.1" height="7.3" fill="#96a0d7"/>
<rect x="218.9" y="190.5" width="4.1" height="7.3" fill="#dd7d82"/>
<rect x="222.4" y="190.5" width="7.5" height="7.3" fill="#eca8a8"/>
<rect x="229.3" y="190.5" width="4.1" height="7.3" fill="#f6f3f7"/>
<rect x="232.8" y="190.5" width="4.1" height="7.3" fill="#dd7d82"/>
<rect x="236.3" y="190.5" width="4.1" height="7.3" fill="#eca8a8"/>
<rect x="239.7" y="190.5" width="4.1" height="7.3" fill="#dd7d82"/>
<rect x="243.2" y="190.5" width="4.1" height="7.3" fill="#eca8a8"/>
<rect x="246.7" y="190.5" width="4.1" height="7.3" fill="#dd7d82"/>
<rect x="250.2" y="190.5" width="4.1" height="7.3" fill="#eca8a8"/>
<rect x="253.6" y="190.5" width="4.1" height="7.3" fill="#dd7d82"/>
<rect x="257.1" y="190.5" width="4.1" height="7.3" fill="#eca8a8"/>
<rect x="260.6" y="190.5" width="11.0" height="7.3" fill="#96a0d7"/>
<rect x="271.0" y="190.5" width="4.1" height="7.3" fill="#f6f3f7"/>
<rect x="274.5" y="190.5" width="4.1" height="7.3" fill="#eca8a8"/>
<rect x="277.9" y="190.5" width="11.0" height="7.3" fill="#96a0d7"/>
<rect x="288.3" y="190.5" width="4.1" height="7.3" fill="#dd7d82"/>
<rect x="291.8" y="190.5" width="4.1" height="7.3" fill="#96a0d7"/>
<rect x="295.3" y="190.5" width="4.1" height="7.3" fill="#c8ccea"/>
<rect x="298.8" y="190.5" width="10.5" height="7.3" fill="#96a0d7"/>
<rect x="18.1" y="197.3" width="7.1" height="7.3" fill="#f6f3f7"/>
<rect x="24.5" y="197.3" width="4.1" height="7.3" fill="#96a0d7"/>
<rect x="28.0" y="197.3" width="4.1" height="7.3" fill="#f6f3f7"/>
<rect x="31.5" y="197.3" width="4.1" height="7.3" fill="#c8ccea"/>
<rect x="34.9" y="197.3" width="11.0" height="7.3" fill="#f6f3f7"/>
<rect x="45.3" y="197.3" width="11.0" height="7.3" fill="#c8ccea"/>
<rect x="55.8" y="197.3" width="7.5" height="7.3" fill="#f6f3f7"/>
<rect x="62.7" y="197.3" width="4.1" height="7.3" fill="#c8ccea"/>
<rect x="66.2" y="197.3" width="4.1" height="7.3" fill="#f6f3f7"/>
<rect x="69.6" y="197.3" width="4.1" height="7.3" fill="#c8ccea"/>
<rect x="73.1" y="197.3" width="4.1" height="7.3" fill="#f5d4d4"/>
<rect x="76.6" y="197.3" width="4.1" height="7.3" fill="#3a5fb2"/>
<rect x="80.1" y="197.3" width="7.5" height="7.3" fill="#6278c4"/>
<rect x="87.0" y="197.3" width="4.1" height="7.3" fill="#c8ccea"/>
<rect x="90.5" y="197.3" width="4.1" height="7.3" fill="#f6f3f7"/>
<rect x="93.9" y="197.3" width="4.1" height="7.3" fill="#c8ccea"/>
<rect x="97.4" y="197.3" width="4.1" height="7.3" fill="#f5d4d4"/>
<rect x="100.9" y="197.3" width="4.1" height="7.3" fill="#f6f3f7"/>
<rect x="104.4" y="197.3" width="7.5" height="7.3" fill="#eca8a8"/>
<rect x="111.3" y="197.3" width="4.1" height="7.3" fill="#f5d4d4"/>
<rect x="114.8" y="197.3" width="4.1" height="7.3" fill="#c8ccea"/>
<rect x="118.2" y="197.3" width="4.1" height="7.3" fill="#eca8a8"/>
<rect x="121.7" y="197.3" width="4.1" height="7.3" fill="#c8ccea"/>
<rect x="125.2" y="197.3" width="4.1" height="7.3" fill="#eca8a8"/>
<rect x="128.7" y="197.3" width="4.1" height="7.3" fill="#f5d4d4"/>
<rect x="132.1" y="197.3" width="21.4" height="7.3" fill="#c8ccea"/>
<rect x="153.0" y="197.3" width="4.1" height="7.3" fill="#f5d4d4"/>
<rect x="156.4" y="197.3" width="11.0" height="7.3" fill="#c8ccea"/>
<rect x="166.8" y="197.3" width="4.1" height="7.3" fill="#f6f3f7"/>
<rect x="170.3" y="197.3" width="4.1" height="7.3" fill="#96a0d7"/>
<rect x="173.8" y="197.3" width="11.0" height="7.3" fill="#c8ccea"/>
<rect x="184.2" y="197.3" width="4.1" height="7.3" fill="#96a0d7"/>
<rect x="187.7" y="197.3" width="11.0" height="7.3" fill="#c8ccea"/>
<rect x="198.1" y="197.3" width="4.1" height="7.3" fill="#f6f3f7"/>
<rect x="201.6" y="197.3" width="4.1" height="7.3" fill="#f5d4d4"/>
<rect x="205.0" y="197.3" width="4.1" height="7.3" fill="#c8ccea"/>
<rect x="208.5" y="197.3" width="4.1" height="7.3" fill="#f5d4d4"/>
<rect x="212.0" y="197.3" width="4.1" height="7.3" fill="#eca8a8"/>
<rect x="215.4" y="197.3" width="4.1" height="7.3" fill="#f5d4d4"/>
<rect x="218.9" y="197.3" width="4.1" height="7.3" fill="#dd7d82"/>
<rect x="222.4" y="197.3" width="7.5" height="7.3" fill="#eca8a8"/>
<rect x="229.3" y="197.3" width="4.1" height="7.3" fill="#dd7d82"/>
<rect x="232.8" y="197.3" width="4.1" height="7.3" fill="#eca8a8"/>
<rect x="236.3" y="197.3" width="4.1" height="7.3" fill="#dd7d82"/>
<rect x="239.7" y="197.3" width="4.1" height="7.3" fill="#eca8a8"/>
<rect x="243.2" y="197.3" width="4.1" height="7.3" fill="#f5d4d4"/>
<rect x="246.7" y="197.3" width="7.5" height="7.3" fill="#eca8a8"/>
<rect x="253.6" y="197.3" width="4.1" height="7.3" fill="#c8ccea"/>
<rect x="257.1" y="197.3" width="4.1" height="7.3" fill="#dd7d82"/>
<rect x="260.6" y="197.3" width="4.1" height="7.3" fill="#c8ccea"/>
<rect x="264.0" y="197.3" width="14.5" height="7.3" fill="#96a0d7"/>
<rect x="277.9" y="197.3" width="4.1" height="7.3" fill="#6278c4"/>
<rect x="281.4" y="197.3" width="4.1" height="7.3" fill="#c8ccea"/>
<rect x="284.9" y="197.3" width="4.1" height="7.3" fill="#f6f3f7"/>
<rect x="288.3" y="197.3" width="4.1" height="7.3" fill="#eca8a8"/>
<rect x="291.8" y="197.3" width="4.1" height="7.3" fill="#f6f3f7"/>
<rect x="295.3" y="197.3" width="4.1" height="7.3" fill="#96a0d7"/>
<rect x="298.8" y="197.3" width="4.1" height="7.3" fill="#c8ccea"/>
<rect x="302.2" y="197.3" width="7.1" height="7.3" fill="#f5d4d4"/>
<rect x="18.1" y="204.0" width="114.7" height="7.3" fill="#c8ccea"/>
<rect x="132.1" y="204.0" width="4.1" height="7.3" fill="#f6f3f7"/>
<rect x="135.6" y="204.0" width="14.5" height="7.3" fill="#c8ccea"/>
<rect x="149.5" y="204.0" width="4.1" height="7.3" fill="#f6f3f7"/>
<rect x="153.0" y="204.0" width="21.4" height="7.3" fill="#c8ccea"/>
<rect x="173.8" y="204.0" width="4.1" height="7.3" fill="#f6f3f7"/>
<rect x="177.3" y="204.0" width="14.5" height="7.3" fill="#c8ccea"/>
<rect x="191.1" y="204.0" width="4.1" height="7.3" fill="#f5d4d4"/>
<rect x="194.6" y="204.0" width="7.5" height="7.3" fill="#c8ccea"/>
<rect x="201.6" y="204.0" width="4.1" height="7.3" fill="#eca8a8"/>
<rect x="205.0" y="204.0" width="4.1" height="7.3" fill="#c8ccea"/>
<rect x="208.5" y="204.0" width="4.1" height="7.3" fill="#f5d4d4"/>
<rect x="212.0" y="204.0" width="4.1" height="7.3" fill="#c8ccea"/>
<rect x="215.4" y="204.0" width="7.5" height="7.3" fill="#f5d4d4"/>
<rect x="222.4" y="204.0" width="4.1" height="7.3" fill="#dd7d82"/>
<rect x="225.9" y="204.0" width="31.8" height="7.3" fill="#c8ccea"/>
<rect x="257.1" y="204.0" width="4.1" height="7.3" fill="#f6f3f7"/>
<rect x="260.6" y="204.0" width="4.1" height="7.3" fill="#eca8a8"/>
<rect x="264.0" y="204.0" width="4.1" height="7.3" fill="#f5d4d4"/>
<rect x="267.5" y="204.0" width="4.1" height="7.3" fill="#dd7d82"/>
<rect x="271.0" y="204.0" width="4.1" height="7.3" fill="#eca8a8"/>
<rect x="274.5" y="204.0" width="7.5" height="7.3" fill="#c8ccea"/>
<rect x="281.4" y="204.0" width="4.1" height="7.3" fill="#dd7d82"/>
<rect x="284.9" y="204.0" width="4.1" height="7.3" fill="#c8ccea"/>
<rect x="288.3" y="204.0" width="4.1" height="7.3" fill="#dd7d82"/>
<rect x="291.8" y="204.0" width="4.1" height="7.3" fill="#f5d4d4"/>
<rect x="295.3" y="204.0" width="14.0" height="7.3" fill="#c84852"/>
<rect x="18.1" y="210.8" width="7.1" height="10.3" fill="#f5d4d4"/>
<rect x="24.5" y="210.8" width="18.0" height="10.3" fill="#eca8a8"/>
<rect x="41.9" y="210.8" width="4.1" height="10.3" fill="#f5d4d4"/>
<rect x="45.3" y="210.8" width="4.1" height="10.3" fill="#dd7d82"/>
<rect x="48.8" y="210.8" width="4.1" height="10.3" fill="#eca8a8"/>
<rect x="52.3" y="210.8" width="4.1" height="10.3" fill="#f6f3f7"/>
<rect x="55.8" y="210.8" width="7.5" height="10.3" fill="#f5d4d4"/>
<rect x="62.7" y="210.8" width="4.1" height="10.3" fill="#c8ccea"/>
<rect x="66.2" y="210.8" width="7.5" height="10.3" fill="#dd7d82"/>
<rect x="73.1" y="210.8" width="14.5" height="10.3" fill="#eca8a8"/>
<rect x="87.0" y="210.8" width="4.1" height="10.3" fill="#f5d4d4"/>
<rect x="90.5" y="210.8" width="4.1" height="10.3" fill="#eca8a8"/>
<rect x="93.9" y="210.8" width="4.1" height="10.3" fill="#96a0d7"/>
<rect x="97.4" y="210.8" width="4.1" height="10.3" fill="#dd7d82"/>
<rect x="100.9" y="210.8" width="4.1" height="10.3" fill="#eca8a8"/>
<rect x="104.4" y="210.8" width="4.1" height="10.3" fill="#f6f3f7"/>
<rect x="107.8" y="210.8" width="7.5" height="10.3" fill="#dd7d82"/>
<rect x="114.8" y="210.8" width="4.1" height="10.3" fill="#f5d4d4"/>
<rect x="118.2" y="210.8" width="7.5" height="10.3" fill="#c8ccea"/>
<rect x="125.2" y="210.8" width="7.5" height="10.3" fill="#f6f3f7"/>
<rect x="132.1" y="210.8" width="7.5" height="10.3" fill="#c8ccea"/>
<rect x="139.1" y="210.8" width="4.1" height="10.3" fill="#96a0d7"/>
<rect x="142.5" y="210.8" width="14.5" height="10.3" fill="#c8ccea"/>
<rect x="156.4" y="210.8" width="14.5" height="10.3" fill="#96a0d7"/>
<rect x="170.3" y="210.8" width="4.1" height="10.3" fill="#c8ccea"/>
<rect x="173.8" y="210.8" width="4.1" height="10.3" fill="#eca8a8"/>
<rect x="177.3" y="210.8" width="11.0" height="10.3" fill="#c8ccea"/>
<rect x="187.7" y="210.8" width="11.0" height="10.3" fill="#96a0d7"/>
<rect x="198.1" y="210.8" width="7.5" height="10.3" fill="#c8ccea"/>
<rect x="205.0" y="210.8" width="4.1" height="10.3" fill="#96a0d7"/>
<rect x="208.5" y="210.8" width="4.1" height="10.3" fill="#c8ccea"/>
<rect x="212.0" y="210.8" width="4.1" height="10.3" fill="#96a0d7"/>
<rect x="215.4" y="210.8" width="4.1" height="10.3" fill="#c8ccea"/>
<rect x="218.9" y="210.8" width="7.5" height="10.3" fill="#f6f3f7"/>
<rect x="225.9" y="210.8" width="7.5" height="10.3" fill="#c8ccea"/>
<rect x="232.8" y="210.8" width="4.1" height="10.3" fill="#f5d4d4"/>
<rect x="236.3" y="210.8" width="4.1" height="10.3" fill="#96a0d7"/>
<rect x="239.7" y="210.8" width="4.1" height="10.3" fill="#f6f3f7"/>
<rect x="243.2" y="210.8" width="4.1" height="10.3" fill="#c8ccea"/>
<rect x="246.7" y="210.8" width="4.1" height="10.3" fill="#eca8a8"/>
<rect x="250.2" y="210.8" width="4.1" height="10.3" fill="#c8ccea"/>
<rect x="253.6" y="210.8" width="4.1" height="10.3" fill="#f6f3f7"/>
<rect x="257.1" y="210.8" width="21.4" height="10.3" fill="#c8ccea"/>
<rect x="277.9" y="210.8" width="14.5" height="10.3" fill="#96a0d7"/>
<rect x="291.8" y="210.8" width="4.1" height="10.3" fill="#f6f3f7"/>
<rect x="295.3" y="210.8" width="4.1" height="10.3" fill="#c8ccea"/>
<rect x="298.8" y="210.8" width="10.5" height="10.3" fill="#96a0d7"/>
</g></g>
<g shape-rendering="crispEdges">
<rect x="21.05" y="21.80" width="104.19" height="4.20" fill="#AFAED6" />
<rect x="125.19" y="21.80" width="6.99" height="4.20" fill="#F4766F" />
<rect x="132.13" y="21.80" width="52.12" height="4.20" fill="#AFAED6" />
<rect x="184.20" y="21.80" width="10.46" height="4.20" fill="#F4766F" />
<rect x="194.62" y="21.80" width="3.52" height="4.20" fill="#AFAED6" />
<rect x="198.09" y="21.80" width="107.66" height="4.20" fill="#F4766F" />
<rect x="21.05" y="27.50" width="3.52" height="4.20" fill="#9FD16B" />
<rect x="24.52" y="27.50" width="24.35" height="4.20" fill="#6BA3C8" />
<rect x="48.82" y="27.50" width="10.46" height="4.20" fill="#9FD16B" />
<rect x="59.23" y="27.50" width="31.29" height="4.20" fill="#F6A560" />
<rect x="90.48" y="27.50" width="20.88" height="4.20" fill="#6BA3C8" />
<rect x="111.30" y="27.50" width="3.52" height="4.20" fill="#F6A560" />
<rect x="114.78" y="27.50" width="3.52" height="4.20" fill="#6BA3C8" />
<rect x="118.25" y="27.50" width="13.94" height="4.20" fill="#F6A560" />
<rect x="132.13" y="27.50" width="17.41" height="4.20" fill="#6BA3C8" />
<rect x="149.49" y="27.50" width="156.26" height="4.20" fill="#F6A560" />
<rect x="21.05" y="33.20" width="3.52" height="4.20" fill="#F5BBDD" />
<rect x="24.52" y="33.20" width="3.52" height="4.20" fill="#D7EBBF" />
<rect x="27.99" y="33.20" width="3.52" height="4.20" fill="#F5BBDD" />
<rect x="31.46" y="33.20" width="3.52" height="4.20" fill="#D7EBBF" />
<rect x="34.94" y="33.20" width="10.46" height="4.20" fill="#95D5BC" />
<rect x="45.35" y="33.20" width="13.94" height="4.20" fill="#F5BBDD" />
<rect x="59.23" y="33.20" width="3.52" height="4.20" fill="#D7EBBF" />
<rect x="62.71" y="33.20" width="3.52" height="4.20" fill="#F5BBDD" />
<rect x="66.18" y="33.20" width="10.46" height="4.20" fill="#D7EBBF" />
<rect x="76.59" y="33.20" width="3.52" height="4.20" fill="#F5BBDD" />
<rect x="80.06" y="33.20" width="3.52" height="4.20" fill="#D7EBBF" />
<rect x="83.53" y="33.20" width="3.52" height="4.20" fill="#F5BBDD" />
<rect x="87.01" y="33.20" width="6.99" height="4.20" fill="#FABF9D" />
<rect x="93.95" y="33.20" width="6.99" height="4.20" fill="#F5BBDD" />
<rect x="100.89" y="33.20" width="3.52" height="4.20" fill="#FABF9D" />
<rect x="104.36" y="33.20" width="3.52" height="4.20" fill="#B7C6E3" />
<rect x="107.83" y="33.20" width="3.52" height="4.20" fill="#F5BBDD" />
<rect x="111.30" y="33.20" width="3.52" height="4.20" fill="#FABF9D" />
<rect x="114.78" y="33.20" width="3.52" height="4.20" fill="#F5BBDD" />
<rect x="118.25" y="33.20" width="13.94" height="4.20" fill="#FABF9D" />
<rect x="132.13" y="33.20" width="3.52" height="4.20" fill="#95D5BC" />
<rect x="135.60" y="33.20" width="3.52" height="4.20" fill="#F5BBDD" />
<rect x="139.08" y="33.20" width="6.99" height="4.20" fill="#95D5BC" />
<rect x="146.02" y="33.20" width="6.99" height="4.20" fill="#F5BBDD" />
<rect x="152.96" y="33.20" width="3.52" height="4.20" fill="#E3B7DC" />
<rect x="156.43" y="33.20" width="3.52" height="4.20" fill="#F5BBDD" />
<rect x="159.90" y="33.20" width="13.94" height="4.20" fill="#D7EBBF" />
<rect x="173.79" y="33.20" width="3.52" height="4.20" fill="#F5BBDD" />
<rect x="177.26" y="33.20" width="13.94" height="4.20" fill="#D7EBBF" />
<rect x="191.15" y="33.20" width="3.52" height="4.20" fill="#F5BBDD" />
<rect x="194.62" y="33.20" width="10.46" height="4.20" fill="#D7EBBF" />
<rect x="205.03" y="33.20" width="6.99" height="4.20" fill="#F5BBDD" />
<rect x="211.97" y="33.20" width="17.41" height="4.20" fill="#D7EBBF" />
<rect x="229.33" y="33.20" width="3.52" height="4.20" fill="#E3B7DC" />
<rect x="232.80" y="33.20" width="3.52" height="4.20" fill="#D7EBBF" />
<rect x="236.27" y="33.20" width="3.52" height="4.20" fill="#B7C6E3" />
<rect x="239.74" y="33.20" width="3.52" height="4.20" fill="#E3B7DC" />
<rect x="243.22" y="33.20" width="3.52" height="4.20" fill="#B7C6E3" />
<rect x="246.69" y="33.20" width="45.18" height="4.20" fill="#D7EBBF" />
<rect x="291.81" y="33.20" width="13.94" height="4.20" fill="#F5BBDD" />
<rect x="21.05" y="38.90" width="83.36" height="4.20" fill="#F8E49F" />
<rect x="104.36" y="38.90" width="3.52" height="4.20" fill="#BEBEBE" />
<rect x="107.83" y="38.90" width="24.35" height="4.20" fill="#F8E49F" />
<rect x="132.13" y="38.90" width="20.88" height="4.20" fill="#EFD9C3" />
<rect x="152.96" y="38.90" width="3.52" height="4.20" fill="#F79D98" />
<rect x="156.43" y="38.90" width="24.35" height="4.20" fill="#EFD9C3" />
<rect x="180.73" y="38.90" width="10.46" height="4.20" fill="#F8E49F" />
<rect x="191.15" y="38.90" width="10.46" height="4.20" fill="#EFD9C3" />
<rect x="201.56" y="38.90" width="13.94" height="4.20" fill="#F8E49F" />
<rect x="215.45" y="38.90" width="13.94" height="4.20" fill="#EFD9C3" />
<rect x="229.33" y="38.90" width="3.52" height="4.20" fill="#F79D98" />
<rect x="232.80" y="38.90" width="3.52" height="4.20" fill="#F8E49F" />
<rect x="236.27" y="38.90" width="3.52" height="4.20" fill="#BEBEBE" />
<rect x="239.74" y="38.90" width="3.52" height="4.20" fill="#F79D98" />
<rect x="243.22" y="38.90" width="3.52" height="4.20" fill="#BEBEBE" />
<rect x="246.69" y="38.90" width="13.94" height="4.20" fill="#F8E49F" />
<rect x="260.57" y="38.90" width="10.46" height="4.20" fill="#EFD9C3" />
<rect x="270.99" y="38.90" width="6.99" height="4.20" fill="#F8E49F" />
<rect x="277.93" y="38.90" width="13.94" height="4.20" fill="#EFD9C3" />
<rect x="291.81" y="38.90" width="6.99" height="4.20" fill="#F8E49F" />
<rect x="298.76" y="38.90" width="6.99" height="4.20" fill="#EFD9C3" />
<rect x="21.05" y="44.50" width="48.65" height="4.20" fill="#A3C4DE" />
<rect x="69.65" y="44.50" width="3.52" height="4.20" fill="#CDB9DD" />
<rect x="73.12" y="44.50" width="31.29" height="4.20" fill="#A3C4DE" />
<rect x="104.36" y="44.50" width="3.52" height="4.20" fill="#B0DDB0" />
<rect x="107.83" y="44.50" width="45.18" height="4.20" fill="#A3C4DE" />
<rect x="152.96" y="44.50" width="3.52" height="4.20" fill="#B0DDB0" />
<rect x="156.43" y="44.50" width="3.52" height="4.20" fill="#A3C4DE" />
<rect x="159.90" y="44.50" width="3.52" height="4.20" fill="#CDB9DD" />
<rect x="163.38" y="44.50" width="6.99" height="4.20" fill="#A3C4DE" />
<rect x="170.32" y="44.50" width="3.52" height="4.20" fill="#CDB9DD" />
<rect x="173.79" y="44.50" width="3.52" height="4.20" fill="#A3C4DE" />
<rect x="177.26" y="44.50" width="13.94" height="4.20" fill="#CDB9DD" />
<rect x="191.15" y="44.50" width="3.52" height="4.20" fill="#A3C4DE" />
<rect x="194.62" y="44.50" width="10.46" height="4.20" fill="#CDB9DD" />
<rect x="205.03" y="44.50" width="17.41" height="4.20" fill="#A3C4DE" />
<rect x="222.39" y="44.50" width="3.52" height="4.20" fill="#CDB9DD" />
<rect x="225.86" y="44.50" width="3.52" height="4.20" fill="#A3C4DE" />
<rect x="229.33" y="44.50" width="3.52" height="4.20" fill="#B0DDB0" />
<rect x="232.80" y="44.50" width="3.52" height="4.20" fill="#A3C4DE" />
<rect x="236.27" y="44.50" width="10.46" height="4.20" fill="#B0DDB0" />
<rect x="246.69" y="44.50" width="13.94" height="4.20" fill="#A3C4DE" />
<rect x="260.57" y="44.50" width="27.82" height="4.20" fill="#CDB9DD" />
<rect x="288.34" y="44.50" width="17.41" height="4.20" fill="#A3C4DE" />
<rect x="21.05" y="50.20" width="6.99" height="4.20" fill="#F7F6C0" />
<rect x="27.99" y="50.20" width="3.52" height="4.20" fill="#FAC791" />
<rect x="31.46" y="50.20" width="3.52" height="4.20" fill="#F7F6C0" />
<rect x="34.94" y="50.20" width="27.82" height="4.20" fill="#FAC791" />
<rect x="62.71" y="50.20" width="3.52" height="4.20" fill="#F7F6C0" />
<rect x="66.18" y="50.20" width="3.52" height="4.20" fill="#FAC791" />
<rect x="69.65" y="50.20" width="13.94" height="4.20" fill="#F7F6C0" />
<rect x="83.53" y="50.20" width="20.88" height="4.20" fill="#FAC791" />
<rect x="104.36" y="50.20" width="3.52" height="4.20" fill="#F7F6C0" />
<rect x="107.83" y="50.20" width="24.35" height="4.20" fill="#FAC791" />
<rect x="132.13" y="50.20" width="173.62" height="4.20" fill="#F7F6C0" />
</g>
<text x="307.70" y="26.00" font-size="5.7" text-anchor="start" fill="#000" font-weight="normal" >Efficacy</text>
<text x="307.70" y="31.70" font-size="5.7" text-anchor="start" fill="#000" font-weight="normal" >HER2</text>
<text x="307.70" y="37.40" font-size="5.7" text-anchor="start" fill="#000" font-weight="normal" >Region</text>
<text x="307.70" y="43.10" font-size="5.7" text-anchor="start" fill="#000" font-weight="normal" >Tissue</text>
<text x="307.70" y="48.70" font-size="5.7" text-anchor="start" fill="#000" font-weight="normal" >Classification</text>
<text x="307.70" y="54.40" font-size="5.7" text-anchor="start" fill="#000" font-weight="normal" >Treatment</text>
<text x="307.70" y="61.47" font-size="5.7" text-anchor="start" fill="#000" font-weight="normal" >DC</text>
<text x="307.70" y="68.21" font-size="5.7" text-anchor="start" fill="#000" font-weight="normal" >Macrophage</text>
<text x="307.70" y="74.95" font-size="5.7" text-anchor="start" fill="#000" font-weight="normal" >NKT</text>
<text x="307.70" y="81.70" font-size="5.7" text-anchor="start" fill="#000" font-weight="normal" >Neutrophil</text>
<text x="307.70" y="88.44" font-size="5.7" text-anchor="start" fill="#000" font-weight="normal" >Th1</text>
<text x="307.70" y="95.18" font-size="5.7" text-anchor="start" fill="#000" font-weight="normal" >Th2</text>
<text x="307.70" y="101.92" font-size="5.7" text-anchor="start" fill="#000" font-weight="normal" >Bcell</text>
<text x="307.70" y="108.66" font-size="5.7" text-anchor="start" fill="#000" font-weight="normal" >CD8_naive</text>
<text x="307.70" y="115.40" font-size="5.7" text-anchor="start" fill="#000" font-weight="normal" >Th17</text>
<text x="307.70" y="122.15" font-size="5.7" text-anchor="start" fill="#000" font-weight="normal" >Monocyte</text>
<text x="307.70" y="128.89" font-size="5.7" text-anchor="start" fill="#000" font-weight="normal" >MAIT</text>
<text x="307.70" y="135.63" font-size="5.7" text-anchor="start" fill="#000" font-weight="normal" >nTreg</text>
<text x="307.70" y="142.37" font-size="5.7" text-anchor="start" fill="#000" font-weight="normal" >Cytotoxic</text>
<text x="307.70" y="149.11" font-size="5.7" text-anchor="start" fill="#000" font-weight="normal" >Tfh</text>
<text x="307.70" y="155.85" font-size="5.7" text-anchor="start" fill="#000" font-weight="normal" >iTreg</text>
<text x="307.70" y="162.60" font-size="5.7" text-anchor="start" fill="#000" font-weight="normal" >Tr1</text>
<text x="307.70" y="169.34" font-size="5.7" text-anchor="start" fill="#000" font-weight="normal" >CD4_T</text>
<text x="307.70" y="176.08" font-size="5.7" text-anchor="start" fill="#000" font-weight="normal" >Gamma_delta</text>
<text x="307.70" y="182.82" font-size="5.7" text-anchor="start" fill="#000" font-weight="normal" >Exhausted</text>
<text x="307.70" y="189.56" font-size="5.7" text-anchor="start" fill="#000" font-weight="normal" >CD8_T</text>
<text x="307.70" y="196.30" font-size="5.7" text-anchor="start" fill="#000" font-weight="normal" >CD4_naive</text>
<text x="307.70" y="203.05" font-size="5.7" text-anchor="start" fill="#000" font-weight="normal" >NK</text>
<text x="307.70" y="209.79" font-size="5.7" text-anchor="start" fill="#000" font-weight="normal" >Effector_memory</text>
<text x="307.70" y="216.53" font-size="5.7" text-anchor="start" fill="#000" font-weight="normal" >fibroblast</text>
<rect x="2.50" y="196.60" width="337.20" height="7.40" fill="none" stroke="#E8414B" stroke-width="1.0" />
<rect x="2.50" y="210.60" width="337.20" height="7.40" fill="none" stroke="#E8414B" stroke-width="1.0" />
<path d="M20.60 59.07H15.30V65.81H20.60" stroke="#000" stroke-width="0.6" fill="none" />
<path d="M20.60 72.55H15.60V79.30H20.60" stroke="#000" stroke-width="0.6" fill="none" />
<path d="M20.60 86.04H15.00V92.78H20.60" stroke="#000" stroke-width="0.6" fill="none" />
<path d="M15.60 75.93H13.20V89.41H15.00" stroke="#000" stroke-width="0.6" fill="none" />
<path d="M15.30 62.44H12.20V82.67H13.20" stroke="#000" stroke-width="0.6" fill="none" />
<path d="M20.60 99.52H16.50V106.26H20.60" stroke="#000" stroke-width="0.6" fill="none" />
<path d="M16.50 102.89H15.20V113.00H20.60" stroke="#000" stroke-width="0.6" fill="none" />
<path d="M20.60 119.75H15.80V126.49H20.60" stroke="#000" stroke-width="0.6" fill="none" />
<path d="M15.20 107.95H13.00V123.12H15.80" stroke="#000" stroke-width="0.6" fill="none" />
<path d="M12.20 72.55H10.50V115.53H13.00" stroke="#000" stroke-width="0.6" fill="none" />
<path d="M20.60 133.23H16.60V139.97H20.60" stroke="#000" stroke-width="0.6" fill="none" />
<path d="M20.60 146.71H17.20V153.45H20.60" stroke="#000" stroke-width="0.6" fill="none" />
<path d="M17.20 150.08H16.20V160.20H20.60" stroke="#000" stroke-width="0.6" fill="none" />
<path d="M16.60 136.60H15.60V155.14H16.20" stroke="#000" stroke-width="0.6" fill="none" />
<path d="M15.60 145.87H14.60V166.94H20.60" stroke="#000" stroke-width="0.6" fill="none" />
<path d="M20.60 180.42H15.40V187.16H20.60" stroke="#000" stroke-width="0.6" fill="none" />
<path d="M20.60 173.68H13.20V183.79H15.40" stroke="#000" stroke-width="0.6" fill="none" />
<path d="M14.60 156.40H11.60V178.74H13.20" stroke="#000" stroke-width="0.6" fill="none" />
<path d="M20.60 193.90H15.40V200.65H20.60" stroke="#000" stroke-width="0.6" fill="none" />
<path d="M20.60 207.39H15.40V214.13H20.60" stroke="#000" stroke-width="0.6" fill="none" />
<path d="M15.40 197.28H12.40V210.76H15.40" stroke="#000" stroke-width="0.6" fill="none" />
<path d="M11.60 167.57H7.40V204.02H12.40" stroke="#000" stroke-width="0.6" fill="none" />
<path d="M10.50 94.04H2.20V185.79H7.40" stroke="#000" stroke-width="0.6" fill="none" />
<path d="M22.79 19.60V16.98H26.26V19.60" stroke="#000" stroke-width="0.55" fill="none" />
<path d="M29.73 19.60V17.01H33.20V19.60" stroke="#000" stroke-width="0.55" fill="none" />
<path d="M24.52 16.98V16.07H31.46V17.01" stroke="#000" stroke-width="0.55" fill="none" />
<path d="M43.61 19.60V17.28H47.09V19.60" stroke="#000" stroke-width="0.55" fill="none" />
<path d="M40.14 19.60V16.78H45.35V17.28" stroke="#000" stroke-width="0.55" fill="none" />
<path d="M36.67 19.60V16.28H42.75V16.78" stroke="#000" stroke-width="0.55" fill="none" />
<path d="M27.99 16.07V15.44H39.71V16.28" stroke="#000" stroke-width="0.55" fill="none" />
<path d="M50.56 19.60V17.16H54.03V19.60" stroke="#000" stroke-width="0.55" fill="none" />
<path d="M52.29 17.16V16.66H57.50V19.60" stroke="#000" stroke-width="0.55" fill="none" />
<path d="M64.44 19.60V17.12H67.91V19.60" stroke="#000" stroke-width="0.55" fill="none" />
<path d="M60.97 19.60V16.62H66.18V17.12" stroke="#000" stroke-width="0.55" fill="none" />
<path d="M54.90 16.66V15.47H63.57V16.62" stroke="#000" stroke-width="0.55" fill="none" />
<path d="M71.38 19.60V17.03H74.86V19.60" stroke="#000" stroke-width="0.55" fill="none" />
<path d="M78.33 19.60V17.15H81.80V19.60" stroke="#000" stroke-width="0.55" fill="none" />
<path d="M80.06 17.15V16.65H85.27V19.60" stroke="#000" stroke-width="0.55" fill="none" />
<path d="M73.12 17.03V15.56H82.67V16.65" stroke="#000" stroke-width="0.55" fill="none" />
<path d="M59.23 15.47V14.75H77.89V15.56" stroke="#000" stroke-width="0.55" fill="none" />
<path d="M33.85 15.44V14.25H68.56V14.75" stroke="#000" stroke-width="0.55" fill="none" />
<path d="M92.21 19.60V17.01H95.68V19.60" stroke="#000" stroke-width="0.55" fill="none" />
<path d="M88.74 19.60V16.51H93.95V17.01" stroke="#000" stroke-width="0.55" fill="none" />
<path d="M102.63 19.60V16.84H106.10V19.60" stroke="#000" stroke-width="0.55" fill="none" />
<path d="M99.16 19.60V16.34H104.36V16.84" stroke="#000" stroke-width="0.55" fill="none" />
<path d="M91.34 16.51V15.28H101.76V16.34" stroke="#000" stroke-width="0.55" fill="none" />
<path d="M109.57 19.60V17.12H113.04V19.60" stroke="#000" stroke-width="0.55" fill="none" />
<path d="M111.30 17.12V16.62H116.51V19.60" stroke="#000" stroke-width="0.55" fill="none" />
<path d="M119.98 19.60V16.99H123.45V19.60" stroke="#000" stroke-width="0.55" fill="none" />
<path d="M113.91 16.62V15.83H121.72V16.99" stroke="#000" stroke-width="0.55" fill="none" />
<path d="M96.55 15.28V14.58H117.81V15.83" stroke="#000" stroke-width="0.55" fill="none" />
<path d="M51.21 14.25V10.50H107.18V14.58" stroke="#000" stroke-width="0.55" fill="none" />
<path d="M126.93 19.60V17.05H130.40V19.60" stroke="#000" stroke-width="0.55" fill="none" />
<path d="M133.87 19.60V16.95H137.34V19.60" stroke="#000" stroke-width="0.55" fill="none" />
<path d="M128.66 17.05V15.91H135.60V16.95" stroke="#000" stroke-width="0.55" fill="none" />
<path d="M144.28 19.60V16.90H147.75V19.60" stroke="#000" stroke-width="0.55" fill="none" />
<path d="M140.81 19.60V16.29H146.02V16.90" stroke="#000" stroke-width="0.55" fill="none" />
<path d="M143.41 16.29V15.62H151.23V19.60" stroke="#000" stroke-width="0.55" fill="none" />
<path d="M154.70 19.60V17.07H158.17V19.60" stroke="#000" stroke-width="0.55" fill="none" />
<path d="M161.64 19.60V16.92H165.11V19.60" stroke="#000" stroke-width="0.55" fill="none" />
<path d="M156.43 17.07V15.59H163.38V16.92" stroke="#000" stroke-width="0.55" fill="none" />
<path d="M147.32 15.62V15.00H159.90V15.59" stroke="#000" stroke-width="0.55" fill="none" />
<path d="M132.13 15.91V14.12H153.61V15.00" stroke="#000" stroke-width="0.55" fill="none" />
<path d="M172.05 19.60V17.12H175.52V19.60" stroke="#000" stroke-width="0.55" fill="none" />
<path d="M168.58 19.60V16.62H173.79V17.12" stroke="#000" stroke-width="0.55" fill="none" />
<path d="M182.47 19.60V17.00H185.94V19.60" stroke="#000" stroke-width="0.55" fill="none" />
<path d="M179.00 19.60V16.16H184.20V17.00" stroke="#000" stroke-width="0.55" fill="none" />
<path d="M189.41 19.60V17.02H192.88V19.60" stroke="#000" stroke-width="0.55" fill="none" />
<path d="M191.15 17.02V16.24H196.35V19.60" stroke="#000" stroke-width="0.55" fill="none" />
<path d="M199.82 19.60V16.83H203.30V19.60" stroke="#000" stroke-width="0.55" fill="none" />
<path d="M193.75 16.24V15.74H201.56V16.83" stroke="#000" stroke-width="0.55" fill="none" />
<path d="M181.60 16.16V15.24H197.65V15.74" stroke="#000" stroke-width="0.55" fill="none" />
<path d="M171.19 16.62V14.53H189.63V15.24" stroke="#000" stroke-width="0.55" fill="none" />
<path d="M142.87 14.12V10.20H180.41V14.53" stroke="#000" stroke-width="0.55" fill="none" />
<path d="M79.19 10.50V6.60H161.64V10.20" stroke="#000" stroke-width="0.55" fill="none" />
<path d="M206.77 19.60V16.99H210.24V19.60" stroke="#000" stroke-width="0.55" fill="none" />
<path d="M213.71 19.60V17.03H217.18V19.60" stroke="#000" stroke-width="0.55" fill="none" />
<path d="M215.45 17.03V16.53H220.65V19.60" stroke="#000" stroke-width="0.55" fill="none" />
<path d="M208.50 16.99V16.02H218.05V16.53" stroke="#000" stroke-width="0.55" fill="none" />
<path d="M224.12 19.60V16.96H227.59V19.60" stroke="#000" stroke-width="0.55" fill="none" />
<path d="M213.28 16.02V15.52H225.86V16.96" stroke="#000" stroke-width="0.55" fill="none" />
<path d="M231.07 19.60V16.87H234.54V19.60" stroke="#000" stroke-width="0.55" fill="none" />
<path d="M238.01 19.60V16.87H241.48V19.60" stroke="#000" stroke-width="0.55" fill="none" />
<path d="M232.80 16.87V16.31H239.74V16.87" stroke="#000" stroke-width="0.55" fill="none" />
<path d="M244.95 19.60V16.93H248.42V19.60" stroke="#000" stroke-width="0.55" fill="none" />
<path d="M251.89 19.60V17.15H255.37V19.60" stroke="#000" stroke-width="0.55" fill="none" />
<path d="M246.69 16.93V16.04H253.63V17.15" stroke="#000" stroke-width="0.55" fill="none" />
<path d="M236.27 16.31V14.81H250.16V16.04" stroke="#000" stroke-width="0.55" fill="none" />
<path d="M258.84 19.60V17.15H262.31V19.60" stroke="#000" stroke-width="0.55" fill="none" />
<path d="M265.78 19.60V17.12H269.25V19.60" stroke="#000" stroke-width="0.55" fill="none" />
<path d="M260.57 17.15V16.23H267.52V17.12" stroke="#000" stroke-width="0.55" fill="none" />
<path d="M243.22 14.81V14.09H264.04V16.23" stroke="#000" stroke-width="0.55" fill="none" />
<path d="M219.57 15.52V9.50H253.63V14.09" stroke="#000" stroke-width="0.55" fill="none" />
<path d="M120.42 6.60V2.20H236.60V9.50" stroke="#000" stroke-width="0.55" fill="none" />
<path d="M272.72 19.60V16.84H276.19V19.60" stroke="#000" stroke-width="0.55" fill="none" />
<path d="M279.66 19.60V17.10H283.14V19.60" stroke="#000" stroke-width="0.55" fill="none" />
<path d="M281.40 17.10V16.60H286.61V19.60" stroke="#000" stroke-width="0.55" fill="none" />
<path d="M274.46 16.84V15.76H284.00V16.60" stroke="#000" stroke-width="0.55" fill="none" />
<path d="M290.08 19.60V16.79H293.55V19.60" stroke="#000" stroke-width="0.55" fill="none" />
<path d="M300.49 19.60V17.14H303.96V19.60" stroke="#000" stroke-width="0.55" fill="none" />
<path d="M297.02 19.60V16.47H302.23V17.14" stroke="#000" stroke-width="0.55" fill="none" />
<path d="M291.81 16.79V15.97H299.63V16.47" stroke="#000" stroke-width="0.55" fill="none" />
<path d="M279.23 15.76V10.20H295.72V15.97" stroke="#000" stroke-width="0.55" fill="none" />
<path d="M178.51 2.20V0.60H287.48V10.20" stroke="#000" stroke-width="0.55" fill="none" />
<rect x="12.10" y="227.10" width="1.07" height="5.90" fill="#3a5fb2" />
<rect x="13.07" y="227.10" width="1.07" height="5.90" fill="#3f62b4" />
<rect x="14.04" y="227.10" width="1.07" height="5.90" fill="#4566b7" />
<rect x="15.01" y="227.10" width="1.07" height="5.90" fill="#4a69b9" />
<rect x="15.98" y="227.10" width="1.07" height="5.90" fill="#506dbc" />
<rect x="16.95" y="227.10" width="1.07" height="5.90" fill="#5570be" />
<rect x="17.92" y="227.10" width="1.07" height="5.90" fill="#5b73c1" />
<rect x="18.89" y="227.10" width="1.07" height="5.90" fill="#6077c3" />
<rect x="19.86" y="227.10" width="1.07" height="5.90" fill="#667bc6" />
<rect x="20.83" y="227.10" width="1.07" height="5.90" fill="#6d81c8" />
<rect x="21.80" y="227.10" width="1.07" height="5.90" fill="#7586cb" />
<rect x="22.77" y="227.10" width="1.07" height="5.90" fill="#7c8ccd" />
<rect x="23.74" y="227.10" width="1.07" height="5.90" fill="#8391d0" />
<rect x="24.71" y="227.10" width="1.07" height="5.90" fill="#8a97d2" />
<rect x="25.68" y="227.10" width="1.07" height="5.90" fill="#919cd5" />
<rect x="26.65" y="227.10" width="1.07" height="5.90" fill="#98a1d8" />
<rect x="27.62" y="227.10" width="1.07" height="5.90" fill="#9ea7da" />
<rect x="28.59" y="227.10" width="1.07" height="5.90" fill="#a5addd" />
<rect x="29.56" y="227.10" width="1.07" height="5.90" fill="#acb3df" />
<rect x="30.53" y="227.10" width="1.07" height="5.90" fill="#b3b9e2" />
<rect x="31.50" y="227.10" width="1.07" height="5.90" fill="#babfe5" />
<rect x="32.47" y="227.10" width="1.07" height="5.90" fill="#c0c5e7" />
<rect x="33.44" y="227.10" width="1.07" height="5.90" fill="#c7cbea" />
<rect x="34.41" y="227.10" width="1.07" height="5.90" fill="#cdd1ec" />
<rect x="35.38" y="227.10" width="1.07" height="5.90" fill="#d4d6ed" />
<rect x="36.35" y="227.10" width="1.07" height="5.90" fill="#dadbef" />
<rect x="37.32" y="227.10" width="1.07" height="5.90" fill="#e0e0f1" />
<rect x="38.29" y="227.10" width="1.07" height="5.90" fill="#e6e6f3" />
<rect x="39.26" y="227.10" width="1.07" height="5.90" fill="#edebf4" />
<rect x="40.23" y="227.10" width="1.07" height="5.90" fill="#f3f0f6" />
<rect x="41.20" y="227.10" width="1.07" height="5.90" fill="#f6f1f5" />
<rect x="42.17" y="227.10" width="1.07" height="5.90" fill="#f6edf0" />
<rect x="43.14" y="227.10" width="1.07" height="5.90" fill="#f6e8eb" />
<rect x="44.11" y="227.10" width="1.07" height="5.90" fill="#f6e4e6" />
<rect x="45.08" y="227.10" width="1.07" height="5.90" fill="#f5e0e2" />
<rect x="46.05" y="227.10" width="1.07" height="5.90" fill="#f5dcdd" />
<rect x="47.02" y="227.10" width="1.07" height="5.90" fill="#f5d8d8" />
<rect x="47.99" y="227.10" width="1.07" height="5.90" fill="#f5d3d3" />
<rect x="48.96" y="227.10" width="1.07" height="5.90" fill="#f4cdcd" />
<rect x="49.93" y="227.10" width="1.07" height="5.90" fill="#f2c7c7" />
<rect x="50.90" y="227.10" width="1.07" height="5.90" fill="#f1c1c1" />
<rect x="51.87" y="227.10" width="1.07" height="5.90" fill="#f0bbbb" />
<rect x="52.84" y="227.10" width="1.07" height="5.90" fill="#efb5b5" />
<rect x="53.81" y="227.10" width="1.07" height="5.90" fill="#eeafaf" />
<rect x="54.78" y="227.10" width="1.07" height="5.90" fill="#eca9a9" />
<rect x="55.75" y="227.10" width="1.07" height="5.90" fill="#eaa4a4" />
<rect x="56.72" y="227.10" width="1.07" height="5.90" fill="#e89e9f" />
<rect x="57.69" y="227.10" width="1.07" height="5.90" fill="#e6989a" />
<rect x="58.66" y="227.10" width="1.07" height="5.90" fill="#e49295" />
<rect x="59.63" y="227.10" width="1.07" height="5.90" fill="#e28c90" />
<rect x="60.60" y="227.10" width="1.07" height="5.90" fill="#e0868a" />
<rect x="61.57" y="227.10" width="1.07" height="5.90" fill="#de8185" />
<rect x="62.54" y="227.10" width="1.07" height="5.90" fill="#dc7a80" />
<rect x="63.51" y="227.10" width="1.07" height="5.90" fill="#d97379" />
<rect x="64.48" y="227.10" width="1.07" height="5.90" fill="#d66c73" />
<rect x="65.45" y="227.10" width="1.07" height="5.90" fill="#d3656c" />
<rect x="66.42" y="227.10" width="1.07" height="5.90" fill="#d15e66" />
<rect x="67.39" y="227.10" width="1.07" height="5.90" fill="#ce565f" />
<rect x="68.36" y="227.10" width="1.07" height="5.90" fill="#cb4f59" />
<rect x="69.33" y="227.10" width="1.07" height="5.90" fill="#c84852" />
<line x1="13.60" y1="233.00" x2="13.60" y2="234.20" stroke="#333" stroke-width="0.5" />
<text x="11.60" y="235.00" font-size="5.8" text-anchor="start" fill="#000" font-weight="normal" transform="rotate(90 11.60 235.00)" stroke="#000" stroke-width="0.15">−2</text>
<line x1="27.80" y1="233.00" x2="27.80" y2="234.20" stroke="#333" stroke-width="0.5" />
<text x="25.80" y="235.00" font-size="5.8" text-anchor="start" fill="#000" font-weight="normal" transform="rotate(90 25.80 235.00)" stroke="#000" stroke-width="0.15">−1</text>
<line x1="41.70" y1="233.00" x2="41.70" y2="234.20" stroke="#333" stroke-width="0.5" />
<text x="39.70" y="235.00" font-size="5.8" text-anchor="start" fill="#000" font-weight="normal" transform="rotate(90 39.70 235.00)" stroke="#000" stroke-width="0.15">0</text>
<line x1="55.60" y1="233.00" x2="55.60" y2="234.20" stroke="#333" stroke-width="0.5" />
<text x="53.60" y="235.00" font-size="5.8" text-anchor="start" fill="#000" font-weight="normal" transform="rotate(90 53.60 235.00)" stroke="#000" stroke-width="0.15">1</text>
<line x1="69.40" y1="233.00" x2="69.40" y2="234.20" stroke="#333" stroke-width="0.5" />
<text x="67.40" y="235.00" font-size="5.8" text-anchor="start" fill="#000" font-weight="normal" transform="rotate(90 67.40 235.00)" stroke="#000" stroke-width="0.15">2</text>
<text x="351.80" y="24.70" font-size="6.9" text-anchor="start" fill="#000" font-weight="bold" >Region</text>
<rect x="351.90" y="30.20" width="8.40" height="8.30" fill="#95D5BC" />
<text x="362.80" y="36.60" font-size="5.7" text-anchor="start" fill="#222" font-weight="normal" >CORE</text>
<rect x="351.90" y="39.32" width="8.40" height="8.30" fill="#F5BBDD" />
<text x="362.80" y="45.72" font-size="5.7" text-anchor="start" fill="#222" font-weight="normal" >Margin</text>
<rect x="351.90" y="48.44" width="8.40" height="8.30" fill="#E3B7DC" />
<text x="362.80" y="54.84" font-size="5.7" text-anchor="start" fill="#222" font-weight="normal" >TLS</text>
<rect x="351.90" y="57.56" width="8.40" height="8.30" fill="#B7C6E3" />
<text x="362.80" y="63.96" font-size="5.7" text-anchor="start" fill="#222" font-weight="normal" >TLS−LIKE</text>
<rect x="351.90" y="66.68" width="8.40" height="8.30" fill="#FABF9D" />
<text x="362.80" y="73.08" font-size="5.7" text-anchor="start" fill="#222" font-weight="normal" >TME</text>
<rect x="351.90" y="75.80" width="8.40" height="8.30" fill="#D7EBBF" />
<text x="362.80" y="82.20" font-size="5.7" text-anchor="start" fill="#222" font-weight="normal" >Tumor</text>
<text x="354.00" y="95.90" font-size="6.9" text-anchor="start" fill="#000" font-weight="bold" >Tissue</text>
<rect x="354.20" y="101.10" width="8.40" height="8.30" fill="#F79D98" />
<text x="365.10" y="107.50" font-size="5.7" text-anchor="start" fill="#222" font-weight="normal" >TLS</text>
<rect x="354.20" y="110.22" width="8.40" height="8.30" fill="#BEBEBE" />
<text x="365.10" y="116.62" font-size="5.7" text-anchor="start" fill="#222" font-weight="normal" >TLS−LIKE</text>
<rect x="354.20" y="119.34" width="8.40" height="8.30" fill="#F8E49F" />
<text x="365.10" y="125.74" font-size="5.7" text-anchor="start" fill="#222" font-weight="normal" >TME</text>
<rect x="354.20" y="128.46" width="8.40" height="8.30" fill="#EFD9C3" />
<text x="365.10" y="134.86" font-size="5.7" text-anchor="start" fill="#222" font-weight="normal" >Tumor</text>
<text x="88.20" y="229.80" font-size="6.9" text-anchor="start" fill="#000" font-weight="bold" >Classification</text>
<rect x="88.30" y="235.10" width="8.40" height="8.30" fill="#CDB9DD" />
<text x="99.50" y="241.80" font-size="6.65" text-anchor="start" fill="#222" font-weight="normal" >COLD</text>
<rect x="88.30" y="244.22" width="8.40" height="8.30" fill="#A3C4DE" />
<text x="99.50" y="250.92" font-size="6.65" text-anchor="start" fill="#222" font-weight="normal" >HOT</text>
<rect x="88.30" y="253.34" width="8.40" height="8.30" fill="#B0DDB0" />
<text x="99.50" y="260.04" font-size="6.65" text-anchor="start" fill="#222" font-weight="normal" >TLS</text>
<text x="142.00" y="229.80" font-size="6.9" text-anchor="start" fill="#000" font-weight="bold" >Efficacy</text>
<rect x="142.10" y="235.10" width="8.40" height="8.30" fill="#F4766F" />
<text x="152.00" y="241.00" font-size="6.65" text-anchor="start" fill="#222" font-weight="normal" >OR</text>
<rect x="142.10" y="244.22" width="8.40" height="8.30" fill="#AFAED6" />
<text x="152.00" y="250.12" font-size="6.65" text-anchor="start" fill="#222" font-weight="normal" >non-OR</text>
<text x="185.00" y="229.80" font-size="6.9" text-anchor="start" fill="#000" font-weight="bold" >HER2</text>
<rect x="185.00" y="235.10" width="8.40" height="8.30" fill="#9FD16B" />
<text x="196.00" y="241.80" font-size="6.65" text-anchor="start" fill="#222" font-weight="normal" >1</text>
<rect x="185.00" y="244.22" width="8.40" height="8.30" fill="#6BA3C8" />
<text x="196.00" y="250.92" font-size="6.65" text-anchor="start" fill="#222" font-weight="normal" >2</text>
<rect x="185.00" y="253.34" width="8.40" height="8.30" fill="#F6A560" />
<text x="196.00" y="260.04" font-size="6.65" text-anchor="start" fill="#222" font-weight="normal" >3</text>
<text x="213.50" y="229.80" font-size="6.9" text-anchor="start" fill="#000" font-weight="bold" >Treatment</text>
<rect x="213.60" y="235.10" width="8.40" height="8.30" fill="#FAC791" />
<text x="224.60" y="241.80" font-size="6.65" text-anchor="start" fill="#222" font-weight="normal" >Post</text>
<rect x="213.60" y="244.22" width="8.40" height="8.30" fill="#F7F6C0" />
<text x="224.60" y="250.92" font-size="6.65" text-anchor="start" fill="#222" font-weight="normal" >Pre</text>
<rect x="428.20" y="33.80" width="217.10" height="147.00" fill="#E6E6E6" />
<line x1="428.20" y1="157.33" x2="645.30" y2="157.33" stroke="#F2F2F2" stroke-width="0.4" />
<line x1="428.20" y1="124.18" x2="645.30" y2="124.18" stroke="#F2F2F2" stroke-width="0.4" />
<line x1="428.20" y1="91.03" x2="645.30" y2="91.03" stroke="#F2F2F2" stroke-width="0.4" />
<line x1="428.20" y1="57.88" x2="645.30" y2="57.88" stroke="#F2F2F2" stroke-width="0.4" />
<line x1="428.20" y1="173.90" x2="645.30" y2="173.90" stroke="#FFFFFF" stroke-width="0.7" />
<line x1="426.60" y1="173.90" x2="428.20" y2="173.90" stroke="#333" stroke-width="0.5" />
<text x="424.00" y="176.50" font-size="7.1" text-anchor="end" fill="#3A3A3A" font-weight="normal" >0.0</text>
<line x1="428.20" y1="140.75" x2="645.30" y2="140.75" stroke="#FFFFFF" stroke-width="0.7" />
<line x1="426.60" y1="140.75" x2="428.20" y2="140.75" stroke="#333" stroke-width="0.5" />
<text x="424.00" y="143.35" font-size="7.1" text-anchor="end" fill="#3A3A3A" font-weight="normal" >0.1</text>
<line x1="428.20" y1="107.60" x2="645.30" y2="107.60" stroke="#FFFFFF" stroke-width="0.7" />
<line x1="426.60" y1="107.60" x2="428.20" y2="107.60" stroke="#333" stroke-width="0.5" />
<text x="424.00" y="110.20" font-size="7.1" text-anchor="end" fill="#3A3A3A" font-weight="normal" >0.2</text>
<line x1="428.20" y1="74.45" x2="645.30" y2="74.45" stroke="#FFFFFF" stroke-width="0.7" />
<line x1="426.60" y1="74.45" x2="428.20" y2="74.45" stroke="#333" stroke-width="0.5" />
<text x="424.00" y="77.05" font-size="7.1" text-anchor="end" fill="#3A3A3A" font-weight="normal" >0.3</text>
<line x1="428.20" y1="41.30" x2="645.30" y2="41.30" stroke="#FFFFFF" stroke-width="0.7" />
<line x1="426.60" y1="41.30" x2="428.20" y2="41.30" stroke="#333" stroke-width="0.5" />
<text x="424.00" y="43.90" font-size="7.1" text-anchor="end" fill="#3A3A3A" font-weight="normal" >0.4</text>
<line x1="437.30" y1="33.80" x2="437.30" y2="180.80" stroke="#FFFFFF" stroke-width="0.7" />
<line x1="437.30" y1="180.80" x2="437.30" y2="182.40" stroke="#333" stroke-width="0.5" />
<text x="439.90" y="185.10" font-size="7.2" text-anchor="end" fill="#3A3A3A" font-weight="normal" transform="rotate(-90 439.90 185.10)" >CD4_T</text>
<line x1="452.56" y1="33.80" x2="452.56" y2="180.80" stroke="#FFFFFF" stroke-width="0.7" />
<line x1="452.56" y1="180.80" x2="452.56" y2="182.40" stroke="#333" stroke-width="0.5" />
<text x="455.16" y="185.10" font-size="7.2" text-anchor="end" fill="#3A3A3A" font-weight="normal" transform="rotate(-90 455.16 185.10)" >CD8_T</text>
<line x1="467.83" y1="33.80" x2="467.83" y2="180.80" stroke="#FFFFFF" stroke-width="0.7" />
<line x1="467.83" y1="180.80" x2="467.83" y2="182.40" stroke="#333" stroke-width="0.5" />
<text x="470.43" y="185.10" font-size="7.2" text-anchor="end" fill="#3A3A3A" font-weight="normal" transform="rotate(-90 470.43 185.10)" >Cytotoxic</text>
<line x1="483.09" y1="33.80" x2="483.09" y2="180.80" stroke="#FFFFFF" stroke-width="0.7" />
<line x1="483.09" y1="180.80" x2="483.09" y2="182.40" stroke="#333" stroke-width="0.5" />
<text x="485.69" y="185.10" font-size="7.2" text-anchor="end" fill="#3A3A3A" font-weight="normal" transform="rotate(-90 485.69 185.10)" >Exhausted</text>
<line x1="498.35" y1="33.80" x2="498.35" y2="180.80" stroke="#FFFFFF" stroke-width="0.7" />
<line x1="498.35" y1="180.80" x2="498.35" y2="182.40" stroke="#333" stroke-width="0.5" />
<text x="500.95" y="185.10" font-size="7.2" text-anchor="end" fill="#3A3A3A" font-weight="normal" transform="rotate(-90 500.95 185.10)" >Gamma_delta</text>
<line x1="513.62" y1="33.80" x2="513.62" y2="180.80" stroke="#FFFFFF" stroke-width="0.7" />
<line x1="513.62" y1="180.80" x2="513.62" y2="182.40" stroke="#333" stroke-width="0.5" />
<text x="516.22" y="185.10" font-size="7.2" text-anchor="end" fill="#3A3A3A" font-weight="normal" transform="rotate(-90 516.22 185.10)" >iTreg</text>
<line x1="528.88" y1="33.80" x2="528.88" y2="180.80" stroke="#FFFFFF" stroke-width="0.7" />
<line x1="528.88" y1="180.80" x2="528.88" y2="182.40" stroke="#333" stroke-width="0.5" />
<text x="531.48" y="185.10" font-size="7.2" text-anchor="end" fill="#3A3A3A" font-weight="normal" transform="rotate(-90 531.48 185.10)" >MAIT</text>
<line x1="544.14" y1="33.80" x2="544.14" y2="180.80" stroke="#FFFFFF" stroke-width="0.7" />
<line x1="544.14" y1="180.80" x2="544.14" y2="182.40" stroke="#333" stroke-width="0.5" />
<text x="546.74" y="185.10" font-size="7.2" text-anchor="end" fill="#3A3A3A" font-weight="normal" transform="rotate(-90 546.74 185.10)" >NKT</text>
<line x1="559.40" y1="33.80" x2="559.40" y2="180.80" stroke="#FFFFFF" stroke-width="0.7" />
<line x1="559.40" y1="180.80" x2="559.40" y2="182.40" stroke="#333" stroke-width="0.5" />
<text x="562.00" y="185.10" font-size="7.2" text-anchor="end" fill="#3A3A3A" font-weight="normal" transform="rotate(-90 562.00 185.10)" >nTreg</text>
<line x1="574.67" y1="33.80" x2="574.67" y2="180.80" stroke="#FFFFFF" stroke-width="0.7" />
<line x1="574.67" y1="180.80" x2="574.67" y2="182.40" stroke="#333" stroke-width="0.5" />
<text x="577.27" y="185.10" font-size="7.2" text-anchor="end" fill="#3A3A3A" font-weight="normal" transform="rotate(-90 577.27 185.10)" >Tfh</text>
<line x1="589.93" y1="33.80" x2="589.93" y2="180.80" stroke="#FFFFFF" stroke-width="0.7" />
<line x1="589.93" y1="180.80" x2="589.93" y2="182.40" stroke="#333" stroke-width="0.5" />
<text x="592.53" y="185.10" font-size="7.2" text-anchor="end" fill="#3A3A3A" font-weight="normal" transform="rotate(-90 592.53 185.10)" >Th1</text>
<line x1="605.19" y1="33.80" x2="605.19" y2="180.80" stroke="#FFFFFF" stroke-width="0.7" />
<line x1="605.19" y1="180.80" x2="605.19" y2="182.40" stroke="#333" stroke-width="0.5" />
<text x="607.79" y="185.10" font-size="7.2" text-anchor="end" fill="#3A3A3A" font-weight="normal" transform="rotate(-90 607.79 185.10)" >Th17</text>
<line x1="620.46" y1="33.80" x2="620.46" y2="180.80" stroke="#FFFFFF" stroke-width="0.7" />
<line x1="620.46" y1="180.80" x2="620.46" y2="182.40" stroke="#333" stroke-width="0.5" />
<text x="623.06" y="185.10" font-size="7.2" text-anchor="end" fill="#3A3A3A" font-weight="normal" transform="rotate(-90 623.06 185.10)" >Th2</text>
<line x1="635.72" y1="33.80" x2="635.72" y2="180.80" stroke="#FFFFFF" stroke-width="0.7" />
<line x1="635.72" y1="180.80" x2="635.72" y2="182.40" stroke="#333" stroke-width="0.5" />
<text x="638.32" y="185.10" font-size="7.2" text-anchor="end" fill="#3A3A3A" font-weight="normal" transform="rotate(-90 638.32 185.10)" >Tr1</text>
<text x="428.60" y="29.80" font-size="7.0" text-anchor="start" fill="#111" font-weight="normal" >Margin region</text>
<text x="409.30" y="108.00" font-size="6.9" text-anchor="middle" fill="#000" font-weight="normal" transform="rotate(-90 409.30 108.00)" >proportion</text>
<line x1="434.45" y1="96.20" x2="434.45" y2="97.30" stroke="#333333" stroke-width="0.5" />
<line x1="434.45" y1="100.90" x2="434.45" y2="102.10" stroke="#333333" stroke-width="0.5" />
<rect x="431.75" y="97.30" width="5.40" height="3.60" fill="#F8766D" stroke="#333333" stroke-width="0.5" />
<line x1="431.75" y1="99.20" x2="437.15" y2="99.20" stroke="#333333" stroke-width="0.9" />
<line x1="440.25" y1="87.30" x2="440.25" y2="88.20" stroke="#333333" stroke-width="0.5" />
<line x1="440.25" y1="101.30" x2="440.25" y2="101.30" stroke="#333333" stroke-width="0.5" />
<rect x="437.55" y="88.20" width="5.40" height="13.10" fill="#1CBDC2" stroke="#333333" stroke-width="0.5" />
<line x1="437.55" y1="100.90" x2="442.95" y2="100.90" stroke="#333333" stroke-width="0.9" />
<line x1="449.71" y1="150.00" x2="449.71" y2="150.00" stroke="#333333" stroke-width="0.5" />
<line x1="449.71" y1="153.10" x2="449.71" y2="154.60" stroke="#333333" stroke-width="0.5" />
<rect x="447.01" y="150.00" width="5.40" height="3.10" fill="#F8766D" stroke="#333333" stroke-width="0.5" />
<line x1="447.01" y1="150.80" x2="452.41" y2="150.80" stroke="#333333" stroke-width="0.9" />
<line x1="455.51" y1="136.40" x2="455.51" y2="150.20" stroke="#333333" stroke-width="0.5" />
<line x1="455.51" y1="159.70" x2="455.51" y2="166.90" stroke="#333333" stroke-width="0.5" />
<rect x="452.81" y="150.20" width="5.40" height="9.50" fill="#1CBDC2" stroke="#333333" stroke-width="0.5" />
<line x1="452.81" y1="157.40" x2="458.21" y2="157.40" stroke="#333333" stroke-width="0.9" />
<line x1="464.98" y1="97.60" x2="464.98" y2="97.60" stroke="#333333" stroke-width="0.5" />
<line x1="464.98" y1="99.20" x2="464.98" y2="99.20" stroke="#333333" stroke-width="0.5" />
<rect x="462.28" y="97.60" width="5.40" height="1.60" fill="#F8766D" stroke="#333333" stroke-width="0.5" />
<line x1="462.28" y1="98.40" x2="467.68" y2="98.40" stroke="#333333" stroke-width="0.9" />
<line x1="470.78" y1="76.10" x2="470.78" y2="89.20" stroke="#333333" stroke-width="0.5" />
<line x1="470.78" y1="101.70" x2="470.78" y2="101.70" stroke="#333333" stroke-width="0.5" />
<rect x="468.08" y="89.20" width="5.40" height="12.50" fill="#1CBDC2" stroke="#333333" stroke-width="0.5" />
<line x1="468.08" y1="95.10" x2="473.48" y2="95.10" stroke="#333333" stroke-width="0.9" />
<line x1="480.24" y1="157.60" x2="480.24" y2="160.30" stroke="#333333" stroke-width="0.5" />
<line x1="480.24" y1="165.60" x2="480.24" y2="169.20" stroke="#333333" stroke-width="0.5" />
<rect x="477.54" y="160.30" width="5.40" height="5.30" fill="#F8766D" stroke="#333333" stroke-width="0.5" />
<line x1="477.54" y1="162.70" x2="482.94" y2="162.70" stroke="#333333" stroke-width="0.9" />
<line x1="486.04" y1="149.70" x2="486.04" y2="149.70" stroke="#333333" stroke-width="0.5" />
<line x1="486.04" y1="152.50" x2="486.04" y2="152.50" stroke="#333333" stroke-width="0.5" />
<rect x="483.34" y="149.70" width="5.40" height="2.80" fill="#1CBDC2" stroke="#333333" stroke-width="0.5" />
<line x1="483.34" y1="151.40" x2="488.74" y2="151.40" stroke="#333333" stroke-width="0.9" />
<line x1="495.50" y1="101.50" x2="495.50" y2="106.20" stroke="#333333" stroke-width="0.5" />
<line x1="495.50" y1="114.60" x2="495.50" y2="118.40" stroke="#333333" stroke-width="0.5" />
<rect x="492.80" y="106.20" width="5.40" height="8.40" fill="#F8766D" stroke="#333333" stroke-width="0.5" />
<line x1="492.80" y1="110.60" x2="498.20" y2="110.60" stroke="#333333" stroke-width="0.9" />
<line x1="501.30" y1="82.40" x2="501.30" y2="92.40" stroke="#333333" stroke-width="0.5" />
<line x1="501.30" y1="103.20" x2="501.30" y2="110.40" stroke="#333333" stroke-width="0.5" />
<rect x="498.60" y="92.40" width="5.40" height="10.80" fill="#1CBDC2" stroke="#333333" stroke-width="0.5" />
<line x1="498.60" y1="100.40" x2="504.00" y2="100.40" stroke="#333333" stroke-width="0.9" />
<line x1="510.76" y1="121.80" x2="510.76" y2="121.80" stroke="#333333" stroke-width="0.5" />
<line x1="510.76" y1="124.10" x2="510.76" y2="125.00" stroke="#333333" stroke-width="0.5" />
<rect x="508.06" y="121.80" width="5.40" height="2.30" fill="#F8766D" stroke="#333333" stroke-width="0.5" />
<line x1="508.06" y1="122.20" x2="513.47" y2="122.20" stroke="#333333" stroke-width="0.9" />
<line x1="516.57" y1="114.00" x2="516.57" y2="123.90" stroke="#333333" stroke-width="0.5" />
<line x1="516.57" y1="140.00" x2="516.57" y2="157.40" stroke="#333333" stroke-width="0.5" />
<rect x="513.87" y="123.90" width="5.40" height="16.10" fill="#1CBDC2" stroke="#333333" stroke-width="0.5" />
<line x1="513.87" y1="132.20" x2="519.27" y2="132.20" stroke="#333333" stroke-width="0.9" />
<line x1="526.03" y1="122.20" x2="526.03" y2="124.80" stroke="#333333" stroke-width="0.5" />
<line x1="526.03" y1="129.40" x2="526.03" y2="132.20" stroke="#333333" stroke-width="0.5" />
<rect x="523.33" y="124.80" width="5.40" height="4.60" fill="#F8766D" stroke="#333333" stroke-width="0.5" />
<line x1="523.33" y1="127.10" x2="528.73" y2="127.10" stroke="#333333" stroke-width="0.9" />
<line x1="531.83" y1="115.90" x2="531.83" y2="117.40" stroke="#333333" stroke-width="0.5" />
<line x1="531.83" y1="143.00" x2="531.83" y2="145.50" stroke="#333333" stroke-width="0.5" />
<rect x="529.13" y="117.40" width="5.40" height="25.60" fill="#1CBDC2" stroke="#333333" stroke-width="0.5" />
<line x1="529.13" y1="121.20" x2="534.53" y2="121.20" stroke="#333333" stroke-width="0.9" />
<line x1="541.29" y1="125.00" x2="541.29" y2="128.60" stroke="#333333" stroke-width="0.5" />
<line x1="541.29" y1="135.40" x2="541.29" y2="139.60" stroke="#333333" stroke-width="0.5" />
<rect x="538.59" y="128.60" width="5.40" height="6.80" fill="#F8766D" stroke="#333333" stroke-width="0.5" />
<line x1="538.59" y1="131.80" x2="543.99" y2="131.80" stroke="#333333" stroke-width="0.9" />
<line x1="547.09" y1="121.20" x2="547.09" y2="125.00" stroke="#333333" stroke-width="0.5" />
<line x1="547.09" y1="142.30" x2="547.09" y2="142.30" stroke="#333333" stroke-width="0.5" />
<rect x="544.39" y="125.00" width="5.40" height="17.30" fill="#1CBDC2" stroke="#333333" stroke-width="0.5" />
<line x1="544.39" y1="132.40" x2="549.79" y2="132.40" stroke="#333333" stroke-width="0.9" />
<line x1="556.55" y1="129.60" x2="556.55" y2="131.10" stroke="#333333" stroke-width="0.5" />
<line x1="556.55" y1="133.90" x2="556.55" y2="134.90" stroke="#333333" stroke-width="0.5" />
<rect x="553.85" y="131.10" width="5.40" height="2.80" fill="#F8766D" stroke="#333333" stroke-width="0.5" />
<line x1="553.85" y1="132.40" x2="559.25" y2="132.40" stroke="#333333" stroke-width="0.9" />
<line x1="562.35" y1="124.60" x2="562.35" y2="125.60" stroke="#333333" stroke-width="0.5" />
<line x1="562.35" y1="133.00" x2="562.35" y2="135.60" stroke="#333333" stroke-width="0.5" />
<rect x="559.65" y="125.60" width="5.40" height="7.40" fill="#1CBDC2" stroke="#333333" stroke-width="0.5" />
<line x1="559.65" y1="131.50" x2="565.05" y2="131.50" stroke="#333333" stroke-width="0.9" />
<line x1="571.82" y1="40.30" x2="571.82" y2="46.00" stroke="#333333" stroke-width="0.5" />
<line x1="571.82" y1="52.40" x2="571.82" y2="52.40" stroke="#333333" stroke-width="0.5" />
<rect x="569.12" y="46.00" width="5.40" height="6.40" fill="#F8766D" stroke="#333333" stroke-width="0.5" />
<line x1="569.12" y1="47.00" x2="574.52" y2="47.00" stroke="#333333" stroke-width="0.9" />
<line x1="577.62" y1="69.30" x2="577.62" y2="81.40" stroke="#333333" stroke-width="0.5" />
<line x1="577.62" y1="117.40" x2="577.62" y2="121.80" stroke="#333333" stroke-width="0.5" />
<rect x="574.92" y="81.40" width="5.40" height="36.00" fill="#1CBDC2" stroke="#333333" stroke-width="0.5" />
<line x1="574.92" y1="106.70" x2="580.32" y2="106.70" stroke="#333333" stroke-width="0.9" />
<line x1="587.08" y1="130.30" x2="587.08" y2="132.20" stroke="#333333" stroke-width="0.5" />
<line x1="587.08" y1="137.00" x2="587.08" y2="139.20" stroke="#333333" stroke-width="0.5" />
<rect x="584.38" y="132.20" width="5.40" height="4.80" fill="#F8766D" stroke="#333333" stroke-width="0.5" />
<line x1="584.38" y1="134.50" x2="589.78" y2="134.50" stroke="#333333" stroke-width="0.9" />
<line x1="592.88" y1="107.00" x2="592.88" y2="120.70" stroke="#333333" stroke-width="0.5" />
<line x1="592.88" y1="139.60" x2="592.88" y2="164.10" stroke="#333333" stroke-width="0.5" />
<rect x="590.18" y="120.70" width="5.40" height="18.90" fill="#1CBDC2" stroke="#333333" stroke-width="0.5" />
<line x1="590.18" y1="136.60" x2="595.58" y2="136.60" stroke="#333333" stroke-width="0.9" />
<line x1="602.34" y1="70.20" x2="602.34" y2="72.50" stroke="#333333" stroke-width="0.5" />
<line x1="602.34" y1="78.60" x2="602.34" y2="81.00" stroke="#333333" stroke-width="0.5" />
<rect x="599.64" y="72.50" width="5.40" height="6.10" fill="#F8766D" stroke="#333333" stroke-width="0.5" />
<line x1="599.64" y1="75.70" x2="605.04" y2="75.70" stroke="#333333" stroke-width="0.9" />
<line x1="608.14" y1="70.00" x2="608.14" y2="70.00" stroke="#333333" stroke-width="0.5" />
<line x1="608.14" y1="78.80" x2="608.14" y2="78.80" stroke="#333333" stroke-width="0.5" />
<rect x="605.44" y="70.00" width="5.40" height="8.80" fill="#1CBDC2" stroke="#333333" stroke-width="0.5" />
<line x1="605.44" y1="77.20" x2="610.84" y2="77.20" stroke="#333333" stroke-width="0.9" />
<line x1="617.61" y1="136.00" x2="617.61" y2="143.20" stroke="#333333" stroke-width="0.5" />
<line x1="617.61" y1="152.50" x2="617.61" y2="155.50" stroke="#333333" stroke-width="0.5" />
<rect x="614.91" y="143.20" width="5.40" height="9.30" fill="#F8766D" stroke="#333333" stroke-width="0.5" />
<line x1="614.91" y1="150.40" x2="620.31" y2="150.40" stroke="#333333" stroke-width="0.9" />
<line x1="623.41" y1="137.00" x2="623.41" y2="137.00" stroke="#333333" stroke-width="0.5" />
<line x1="623.41" y1="140.20" x2="623.41" y2="140.20" stroke="#333333" stroke-width="0.5" />
<rect x="620.71" y="137.00" width="5.40" height="3.20" fill="#1CBDC2" stroke="#333333" stroke-width="0.5" />
<line x1="620.71" y1="138.10" x2="626.11" y2="138.10" stroke="#333333" stroke-width="0.9" />
<line x1="632.87" y1="128.60" x2="632.87" y2="129.80" stroke="#333333" stroke-width="0.5" />
<line x1="632.87" y1="132.80" x2="632.87" y2="133.90" stroke="#333333" stroke-width="0.5" />
<rect x="630.17" y="129.80" width="5.40" height="3.00" fill="#F8766D" stroke="#333333" stroke-width="0.5" />
<line x1="630.17" y1="131.10" x2="635.57" y2="131.10" stroke="#333333" stroke-width="0.9" />
<line x1="638.67" y1="122.90" x2="638.67" y2="127.50" stroke="#333333" stroke-width="0.5" />
<line x1="638.67" y1="138.50" x2="638.67" y2="149.70" stroke="#333333" stroke-width="0.5" />
<rect x="635.97" y="127.50" width="5.40" height="11.00" fill="#1CBDC2" stroke="#333333" stroke-width="0.5" />
<line x1="635.97" y1="130.30" x2="641.37" y2="130.30" stroke="#333333" stroke-width="0.9" />
<circle cx="440.30" cy="145.90" r="0.9" fill="#111" />
<circle cx="470.80" cy="130.00" r="0.9" fill="#111" />
<circle cx="486.00" cy="141.30" r="0.9" fill="#111" />
<circle cx="486.00" cy="173.90" r="0.9" fill="#111" />
<circle cx="547.00" cy="169.90" r="0.9" fill="#111" />
<circle cx="608.00" cy="52.40" r="0.9" fill="#111" />
<circle cx="623.00" cy="110.80" r="0.9" fill="#111" />
<circle cx="623.00" cy="147.40" r="0.9" fill="#111" />
<text x="576.00" y="39.00" font-size="11" text-anchor="middle" fill="#000" font-weight="normal" >*</text>
<text x="646.60" y="100.90" font-size="7.2" text-anchor="start" fill="#000" font-weight="normal" >HER2</text>
<line x1="650.70" y1="104.80" x2="650.70" y2="110.80" stroke="#333333" stroke-width="0.5" />
<rect x="647.60" y="105.70" width="6.20" height="4.20" fill="#F8766D" stroke="#333333" stroke-width="0.5" />
<line x1="647.60" y1="107.80" x2="653.80" y2="107.80" stroke="#333333" stroke-width="0.6" />
<text x="656.80" y="110.30" font-size="7.2" text-anchor="start" fill="#000" font-weight="normal" >2</text>
<line x1="650.70" y1="112.70" x2="650.70" y2="118.70" stroke="#333333" stroke-width="0.5" />
<rect x="647.60" y="113.60" width="6.20" height="4.20" fill="#1CBDC2" stroke="#333333" stroke-width="0.5" />
<line x1="647.60" y1="115.70" x2="653.80" y2="115.70" stroke="#333333" stroke-width="0.6" />
<text x="656.80" y="118.20" font-size="7.2" text-anchor="start" fill="#000" font-weight="normal" >3</text>
<rect x="40.30" y="282.20" width="89.50" height="13.20" fill="#D1D1D1" stroke="#4D4D4D" stroke-width="0.5" />
<text x="91.05" y="293.00" font-size="8.5" text-anchor="middle" fill="#1A1A1A" font-weight="normal" >NK cells activated</text>
<rect x="133.40" y="282.20" width="89.20" height="13.20" fill="#D1D1D1" stroke="#4D4D4D" stroke-width="0.5" />
<text x="181.40" y="293.00" font-size="8.5" text-anchor="middle" fill="#1A1A1A" font-weight="normal" >NK cells resting</text>
<rect x="222.60" y="295.40" width="13.00" height="87.80" fill="#D1D1D1" stroke="#4D4D4D" stroke-width="0.5" />
<text x="226.20" y="343.30" font-size="8.5" text-anchor="middle" fill="#1A1A1A" font-weight="normal" transform="rotate(90 226.20 343.30)" >Pre</text>
<rect x="222.60" y="386.90" width="13.00" height="87.30" fill="#D1D1D1" stroke="#4D4D4D" stroke-width="0.5" />
<text x="226.20" y="435.05" font-size="8.5" text-anchor="middle" fill="#1A1A1A" font-weight="normal" transform="rotate(90 226.20 435.05)" >Post</text>
<rect x="40.30" y="295.40" width="89.50" height="87.80" fill="#FFFFFF" />
<line x1="40.30" y1="368.65" x2="129.80" y2="368.65" stroke="#ECECEC" stroke-width="0.35" />
<line x1="40.30" y1="346.35" x2="129.80" y2="346.35" stroke="#ECECEC" stroke-width="0.35" />
<line x1="40.30" y1="324.05" x2="129.80" y2="324.05" stroke="#ECECEC" stroke-width="0.35" />
<line x1="40.30" y1="301.75" x2="129.80" y2="301.75" stroke="#ECECEC" stroke-width="0.35" />
<line x1="40.30" y1="379.80" x2="129.80" y2="379.80" stroke="#DFDFDF" stroke-width="0.5" />
<line x1="40.30" y1="357.50" x2="129.80" y2="357.50" stroke="#DFDFDF" stroke-width="0.5" />
<line x1="40.30" y1="335.20" x2="129.80" y2="335.20" stroke="#DFDFDF" stroke-width="0.5" />
<line x1="40.30" y1="312.90" x2="129.80" y2="312.90" stroke="#DFDFDF" stroke-width="0.5" />
<line x1="64.60" y1="295.40" x2="64.60" y2="383.20" stroke="#DFDFDF" stroke-width="0.5" />
<line x1="105.40" y1="295.40" x2="105.40" y2="383.20" stroke="#DFDFDF" stroke-width="0.5" />
<rect x="40.30" y="295.40" width="89.50" height="87.80" fill="none" stroke="#4D4D4D" stroke-width="0.6" />
<rect x="133.40" y="295.40" width="89.20" height="87.80" fill="#FFFFFF" />
<line x1="133.40" y1="368.65" x2="222.60" y2="368.65" stroke="#ECECEC" stroke-width="0.35" />
<line x1="133.40" y1="346.35" x2="222.60" y2="346.35" stroke="#ECECEC" stroke-width="0.35" />
<line x1="133.40" y1="324.05" x2="222.60" y2="324.05" stroke="#ECECEC" stroke-width="0.35" />
<line x1="133.40" y1="301.75" x2="222.60" y2="301.75" stroke="#ECECEC" stroke-width="0.35" />
<line x1="133.40" y1="379.80" x2="222.60" y2="379.80" stroke="#DFDFDF" stroke-width="0.5" />
<line x1="133.40" y1="357.50" x2="222.60" y2="357.50" stroke="#DFDFDF" stroke-width="0.5" />
<line x1="133.40" y1="335.20" x2="222.60" y2="335.20" stroke="#DFDFDF" stroke-width="0.5" />
<line x1="133.40" y1="312.90" x2="222.60" y2="312.90" stroke="#DFDFDF" stroke-width="0.5" />
<line x1="157.00" y1="295.40" x2="157.00" y2="383.20" stroke="#DFDFDF" stroke-width="0.5" />
<line x1="198.40" y1="295.40" x2="198.40" y2="383.20" stroke="#DFDFDF" stroke-width="0.5" />
<rect x="133.40" y="295.40" width="89.20" height="87.80" fill="none" stroke="#4D4D4D" stroke-width="0.6" />
<line x1="38.70" y1="379.80" x2="40.30" y2="379.80" stroke="#333" stroke-width="0.5" />
<text x="34.70" y="382.80" font-size="8.5" text-anchor="end" fill="#3A3A3A" font-weight="normal" >0.00</text>
<line x1="38.70" y1="357.50" x2="40.30" y2="357.50" stroke="#333" stroke-width="0.5" />
<text x="34.70" y="360.50" font-size="8.5" text-anchor="end" fill="#3A3A3A" font-weight="normal" >0.05</text>
<line x1="38.70" y1="335.20" x2="40.30" y2="335.20" stroke="#333" stroke-width="0.5" />
<text x="34.70" y="338.20" font-size="8.5" text-anchor="end" fill="#3A3A3A" font-weight="normal" >0.10</text>
<line x1="38.70" y1="312.90" x2="40.30" y2="312.90" stroke="#333" stroke-width="0.5" />
<text x="34.70" y="315.90" font-size="8.5" text-anchor="end" fill="#3A3A3A" font-weight="normal" >0.15</text>
<rect x="40.30" y="386.90" width="89.50" height="87.30" fill="#FFFFFF" />
<line x1="40.30" y1="459.05" x2="129.80" y2="459.05" stroke="#ECECEC" stroke-width="0.35" />
<line x1="40.30" y1="436.75" x2="129.80" y2="436.75" stroke="#ECECEC" stroke-width="0.35" />
<line x1="40.30" y1="414.45" x2="129.80" y2="414.45" stroke="#ECECEC" stroke-width="0.35" />
<line x1="40.30" y1="392.15" x2="129.80" y2="392.15" stroke="#ECECEC" stroke-width="0.35" />
<line x1="40.30" y1="470.20" x2="129.80" y2="470.20" stroke="#DFDFDF" stroke-width="0.5" />
<line x1="40.30" y1="447.90" x2="129.80" y2="447.90" stroke="#DFDFDF" stroke-width="0.5" />
<line x1="40.30" y1="425.60" x2="129.80" y2="425.60" stroke="#DFDFDF" stroke-width="0.5" />
<line x1="40.30" y1="403.30" x2="129.80" y2="403.30" stroke="#DFDFDF" stroke-width="0.5" />
<line x1="64.60" y1="386.90" x2="64.60" y2="474.20" stroke="#DFDFDF" stroke-width="0.5" />
<line x1="105.40" y1="386.90" x2="105.40" y2="474.20" stroke="#DFDFDF" stroke-width="0.5" />
<rect x="40.30" y="386.90" width="89.50" height="87.30" fill="none" stroke="#4D4D4D" stroke-width="0.6" />
<rect x="133.40" y="386.90" width="89.20" height="87.30" fill="#FFFFFF" />
<line x1="133.40" y1="459.05" x2="222.60" y2="459.05" stroke="#ECECEC" stroke-width="0.35" />
<line x1="133.40" y1="436.75" x2="222.60" y2="436.75" stroke="#ECECEC" stroke-width="0.35" />
<line x1="133.40" y1="414.45" x2="222.60" y2="414.45" stroke="#ECECEC" stroke-width="0.35" />
<line x1="133.40" y1="392.15" x2="222.60" y2="392.15" stroke="#ECECEC" stroke-width="0.35" />
<line x1="133.40" y1="470.20" x2="222.60" y2="470.20" stroke="#DFDFDF" stroke-width="0.5" />
<line x1="133.40" y1="447.90" x2="222.60" y2="447.90" stroke="#DFDFDF" stroke-width="0.5" />
<line x1="133.40" y1="425.60" x2="222.60" y2="425.60" stroke="#DFDFDF" stroke-width="0.5" />
<line x1="133.40" y1="403.30" x2="222.60" y2="403.30" stroke="#DFDFDF" stroke-width="0.5" />
<line x1="157.00" y1="386.90" x2="157.00" y2="474.20" stroke="#DFDFDF" stroke-width="0.5" />
<line x1="198.40" y1="386.90" x2="198.40" y2="474.20" stroke="#DFDFDF" stroke-width="0.5" />
<rect x="133.40" y="386.90" width="89.20" height="87.30" fill="none" stroke="#4D4D4D" stroke-width="0.6" />
<line x1="38.70" y1="470.20" x2="40.30" y2="470.20" stroke="#333" stroke-width="0.5" />
<text x="34.70" y="473.20" font-size="8.5" text-anchor="end" fill="#3A3A3A" font-weight="normal" >0.00</text>
<line x1="38.70" y1="447.90" x2="40.30" y2="447.90" stroke="#333" stroke-width="0.5" />
<text x="34.70" y="450.90" font-size="8.5" text-anchor="end" fill="#3A3A3A" font-weight="normal" >0.05</text>
<line x1="38.70" y1="425.60" x2="40.30" y2="425.60" stroke="#333" stroke-width="0.5" />
<text x="34.70" y="428.60" font-size="8.5" text-anchor="end" fill="#3A3A3A" font-weight="normal" >0.10</text>
<line x1="38.70" y1="403.30" x2="40.30" y2="403.30" stroke="#333" stroke-width="0.5" />
<text x="34.70" y="406.30" font-size="8.5" text-anchor="end" fill="#3A3A3A" font-weight="normal" >0.15</text>
<line x1="64.60" y1="474.20" x2="64.60" y2="475.80" stroke="#333" stroke-width="0.5" />
<text x="64.60" y="485.50" font-size="8.3" text-anchor="middle" fill="#3A3A3A" font-weight="normal" >OR</text>
<line x1="105.40" y1="474.20" x2="105.40" y2="475.80" stroke="#333" stroke-width="0.5" />
<text x="105.40" y="485.50" font-size="8.3" text-anchor="middle" fill="#3A3A3A" font-weight="normal" >non-OR</text>
<line x1="157.00" y1="474.20" x2="157.00" y2="475.80" stroke="#333" stroke-width="0.5" />
<text x="157.00" y="485.50" font-size="8.3" text-anchor="middle" fill="#3A3A3A" font-weight="normal" >CR</text>
<line x1="198.40" y1="474.20" x2="198.40" y2="475.80" stroke="#333" stroke-width="0.5" />
<text x="198.40" y="485.50" font-size="8.3" text-anchor="middle" fill="#3A3A3A" font-weight="normal" >SD</text>
<text x="131.00" y="499.00" font-size="8.3" text-anchor="middle" fill="#000" font-weight="normal" >Efficacy</text>
<text x="8.80" y="379.00" font-size="8.3" text-anchor="middle" fill="#000" font-weight="normal" transform="rotate(-90 8.80 379.00)" >proportion</text>
<line x1="64.60" y1="345.20" x2="64.60" y2="360.20" stroke="#333333" stroke-width="0.5" />
<line x1="64.60" y1="380.00" x2="64.60" y2="380.00" stroke="#333333" stroke-width="0.5" />
<rect x="54.30" y="360.20" width="20.60" height="19.80" fill="#F8766D" stroke="#333333" stroke-width="0.5" />
<line x1="54.30" y1="372.50" x2="74.90" y2="372.50" stroke="#333333" stroke-width="0.9" />
<line x1="105.40" y1="336.30" x2="105.40" y2="356.60" stroke="#333333" stroke-width="0.5" />
<line x1="105.40" y1="378.70" x2="105.40" y2="379.60" stroke="#333333" stroke-width="0.5" />
<rect x="95.10" y="356.60" width="20.60" height="22.10" fill="#1CBDC2" stroke="#333333" stroke-width="0.5" />
<line x1="95.10" y1="370.20" x2="115.70" y2="370.20" stroke="#333333" stroke-width="0.9" />
<path d="M64.60 301.70V299.50H105.40V301.70" stroke="#333" stroke-width="0.45" fill="none" />
<text x="85.00" y="307.80" font-size="8.6" text-anchor="middle" fill="#333" font-weight="normal" >0.6</text>
<circle cx="62.08" cy="315.10" r="0.6" fill="#000" />
<circle cx="60.84" cy="320.00" r="0.6" fill="#000" />
<circle cx="69.86" cy="345.40" r="0.6" fill="#000" />
<circle cx="59.18" cy="347.30" r="0.6" fill="#000" />
<circle cx="56.97" cy="352.40" r="0.6" fill="#000" />
<circle cx="71.82" cy="356.40" r="0.6" fill="#000" />
<circle cx="65.05" cy="365.00" r="0.6" fill="#000" />
<circle cx="58.95" cy="367.00" r="0.6" fill="#000" />
<circle cx="65.29" cy="372.00" r="0.6" fill="#000" />
<circle cx="57.03" cy="372.50" r="0.6" fill="#000" />
<circle cx="65.05" cy="373.00" r="0.6" fill="#000" />
<circle cx="72.26" cy="373.20" r="0.6" fill="#000" />
<circle cx="70.41" cy="374.00" r="0.6" fill="#000" />
<circle cx="67.74" cy="379.80" r="0.6" fill="#000" />
<circle cx="60.78" cy="379.80" r="0.6" fill="#000" />
<circle cx="62.47" cy="379.80" r="0.6" fill="#000" />
<circle cx="59.27" cy="379.80" r="0.6" fill="#000" />
<circle cx="68.95" cy="379.80" r="0.6" fill="#000" />
<circle cx="65.12" cy="379.80" r="0.6" fill="#000" />
<circle cx="69.06" cy="379.80" r="0.6" fill="#000" />
<circle cx="61.87" cy="379.80" r="0.6" fill="#000" />
<circle cx="100.97" cy="337.00" r="0.6" fill="#000" />
<circle cx="110.38" cy="342.70" r="0.6" fill="#000" />
<circle cx="113.16" cy="343.70" r="0.6" fill="#000" />
<circle cx="111.04" cy="343.70" r="0.6" fill="#000" />
<circle cx="110.30" cy="348.00" r="0.6" fill="#000" />
<circle cx="110.49" cy="346.90" r="0.6" fill="#000" />
<circle cx="109.24" cy="350.00" r="0.6" fill="#000" />
<circle cx="101.03" cy="350.50" r="0.6" fill="#000" />
<circle cx="105.68" cy="359.00" r="0.6" fill="#000" />
<circle cx="103.09" cy="362.00" r="0.6" fill="#000" />
<circle cx="97.86" cy="364.00" r="0.6" fill="#000" />
<circle cx="97.85" cy="366.00" r="0.6" fill="#000" />
<circle cx="101.87" cy="367.00" r="0.6" fill="#000" />
<circle cx="101.55" cy="369.00" r="0.6" fill="#000" />
<circle cx="108.48" cy="371.00" r="0.6" fill="#000" />
<circle cx="112.70" cy="372.00" r="0.6" fill="#000" />
<circle cx="104.56" cy="373.00" r="0.6" fill="#000" />
<circle cx="112.39" cy="374.00" r="0.6" fill="#000" />
<circle cx="113.21" cy="375.00" r="0.6" fill="#000" />
<circle cx="112.68" cy="376.00" r="0.6" fill="#000" />
<circle cx="103.23" cy="377.00" r="0.6" fill="#000" />
<circle cx="100.93" cy="378.00" r="0.6" fill="#000" />
<circle cx="101.03" cy="378.50" r="0.6" fill="#000" />
<circle cx="100.55" cy="379.00" r="0.6" fill="#000" />
<circle cx="100.67" cy="379.30" r="0.6" fill="#000" />
<circle cx="107.39" cy="379.60" r="0.6" fill="#000" />
<circle cx="111.80" cy="379.60" r="0.6" fill="#000" />
<line x1="157.00" y1="337.40" x2="157.00" y2="359.40" stroke="#333333" stroke-width="0.5" />
<line x1="157.00" y1="379.60" x2="157.00" y2="379.80" stroke="#333333" stroke-width="0.5" />
<rect x="146.70" y="359.40" width="20.60" height="20.20" fill="#F8766D" stroke="#333333" stroke-width="0.5" />
<line x1="146.70" y1="377.20" x2="167.30" y2="377.20" stroke="#333333" stroke-width="0.9" />
<line x1="198.40" y1="335.50" x2="198.40" y2="359.10" stroke="#333333" stroke-width="0.5" />
<line x1="198.40" y1="379.60" x2="198.40" y2="379.80" stroke="#333333" stroke-width="0.5" />
<rect x="188.10" y="359.10" width="20.60" height="20.50" fill="#1CBDC2" stroke="#333333" stroke-width="0.5" />
<line x1="188.10" y1="375.30" x2="208.70" y2="375.30" stroke="#333333" stroke-width="0.9" />
<path d="M157.00 301.60V299.40H198.40V301.60" stroke="#333" stroke-width="0.45" fill="none" />
<text x="177.70" y="307.90" font-size="8.6" text-anchor="middle" fill="#333" font-weight="normal" >0.97</text>
<circle cx="162.45" cy="321.00" r="0.6" fill="#000" />
<circle cx="156.67" cy="324.00" r="0.6" fill="#000" />
<circle cx="159.45" cy="337.40" r="0.6" fill="#000" />
<circle cx="161.79" cy="344.50" r="0.6" fill="#000" />
<circle cx="150.36" cy="350.00" r="0.6" fill="#000" />
<circle cx="159.57" cy="357.00" r="0.6" fill="#000" />
<circle cx="163.56" cy="362.00" r="0.6" fill="#000" />
<circle cx="161.52" cy="366.00" r="0.6" fill="#000" />
<circle cx="161.00" cy="368.00" r="0.6" fill="#000" />
<circle cx="156.65" cy="374.00" r="0.6" fill="#000" />
<circle cx="151.86" cy="377.00" r="0.6" fill="#000" />
<circle cx="161.63" cy="379.60" r="0.6" fill="#000" />
<circle cx="154.32" cy="379.60" r="0.6" fill="#000" />
<circle cx="161.81" cy="379.60" r="0.6" fill="#000" />
<circle cx="164.55" cy="379.60" r="0.6" fill="#000" />
<circle cx="155.33" cy="379.60" r="0.6" fill="#000" />
<circle cx="155.42" cy="379.60" r="0.6" fill="#000" />
<circle cx="164.15" cy="379.60" r="0.6" fill="#000" />
<circle cx="202.00" cy="317.50" r="0.6" fill="#000" />
<circle cx="193.12" cy="335.50" r="0.6" fill="#000" />
<circle cx="192.43" cy="341.00" r="0.6" fill="#000" />
<circle cx="192.82" cy="349.00" r="0.6" fill="#000" />
<circle cx="204.88" cy="353.00" r="0.6" fill="#000" />
<circle cx="203.30" cy="353.50" r="0.6" fill="#000" />
<circle cx="192.74" cy="354.00" r="0.6" fill="#000" />
<circle cx="203.62" cy="359.50" r="0.6" fill="#000" />
<circle cx="206.08" cy="362.00" r="0.6" fill="#000" />
<circle cx="200.92" cy="366.00" r="0.6" fill="#000" />
<circle cx="196.01" cy="368.00" r="0.6" fill="#000" />
<circle cx="199.18" cy="371.00" r="0.6" fill="#000" />
<circle cx="192.50" cy="373.00" r="0.6" fill="#000" />
<circle cx="190.63" cy="374.00" r="0.6" fill="#000" />
<circle cx="205.93" cy="375.00" r="0.6" fill="#000" />
<circle cx="200.79" cy="377.00" r="0.6" fill="#000" />
<circle cx="198.83" cy="378.00" r="0.6" fill="#000" />
<circle cx="205.34" cy="379.60" r="0.6" fill="#000" />
<circle cx="197.34" cy="379.60" r="0.6" fill="#000" />
<circle cx="204.35" cy="379.60" r="0.6" fill="#000" />
<circle cx="203.62" cy="379.60" r="0.6" fill="#000" />
<circle cx="193.78" cy="379.60" r="0.6" fill="#000" />
<circle cx="194.43" cy="379.60" r="0.6" fill="#000" />
<circle cx="195.09" cy="379.60" r="0.6" fill="#000" />
<line x1="54.30" y1="470.20" x2="74.90" y2="470.20" stroke="#333333" stroke-width="0.7" />
<line x1="105.40" y1="458.50" x2="105.40" y2="462.30" stroke="#333333" stroke-width="0.5" />
<line x1="105.40" y1="470.30" x2="105.40" y2="470.30" stroke="#333333" stroke-width="0.5" />
<rect x="95.10" y="462.30" width="20.60" height="8.00" fill="#1CBDC2" stroke="#333333" stroke-width="0.5" />
<line x1="95.10" y1="469.50" x2="115.70" y2="469.50" stroke="#333333" stroke-width="0.9" />
<path d="M64.60 392.70V390.50H105.40V392.70" stroke="#333" stroke-width="0.45" fill="none" />
<text x="85.00" y="399.90" font-size="8.6" text-anchor="middle" fill="#333" font-weight="normal" >0.049</text>
<circle cx="60.45" cy="470.20" r="0.6" fill="#000" />
<circle cx="65.98" cy="470.20" r="0.6" fill="#000" />
<circle cx="60.75" cy="470.20" r="0.6" fill="#000" />
<circle cx="63.30" cy="470.20" r="0.6" fill="#000" />
<circle cx="58.70" cy="470.20" r="0.6" fill="#000" />
<circle cx="71.16" cy="470.20" r="0.6" fill="#000" />
<circle cx="103.06" cy="437.30" r="0.6" fill="#000" />
<circle cx="104.73" cy="458.50" r="0.6" fill="#000" />
<circle cx="106.73" cy="462.00" r="0.6" fill="#000" />
<circle cx="111.87" cy="462.50" r="0.6" fill="#000" />
<circle cx="104.13" cy="463.00" r="0.6" fill="#000" />
<circle cx="112.08" cy="467.00" r="0.6" fill="#000" />
<circle cx="105.43" cy="468.00" r="0.6" fill="#000" />
<circle cx="105.91" cy="470.00" r="0.6" fill="#000" />
<circle cx="105.78" cy="470.00" r="0.6" fill="#000" />
<circle cx="97.70" cy="470.00" r="0.6" fill="#000" />
<circle cx="104.44" cy="470.00" r="0.6" fill="#000" />
<circle cx="100.33" cy="470.00" r="0.6" fill="#000" />
<line x1="157.00" y1="424.30" x2="157.00" y2="426.70" stroke="#333333" stroke-width="0.5" />
<line x1="157.00" y1="444.10" x2="157.00" y2="462.60" stroke="#333333" stroke-width="0.5" />
<rect x="146.70" y="426.70" width="20.60" height="17.40" fill="#F8766D" stroke="#333333" stroke-width="0.5" />
<line x1="146.70" y1="433.50" x2="167.30" y2="433.50" stroke="#333333" stroke-width="0.9" />
<line x1="198.40" y1="431.80" x2="198.40" y2="438.50" stroke="#333333" stroke-width="0.5" />
<line x1="198.40" y1="470.60" x2="198.40" y2="470.60" stroke="#333333" stroke-width="0.5" />
<rect x="188.10" y="438.50" width="20.60" height="32.10" fill="#1CBDC2" stroke="#333333" stroke-width="0.5" />
<line x1="188.10" y1="461.40" x2="208.70" y2="461.40" stroke="#333333" stroke-width="0.9" />
<path d="M157.00 392.60V390.40H198.40V392.60" stroke="#333" stroke-width="0.45" fill="none" />
<text x="180.00" y="399.00" font-size="8.6" text-anchor="middle" fill="#333" font-weight="normal" >0.012</text>
<circle cx="149.06" cy="393.80" r="0.6" fill="#000" />
<circle cx="161.79" cy="424.50" r="0.6" fill="#000" />
<circle cx="151.76" cy="425.00" r="0.6" fill="#000" />
<circle cx="156.58" cy="428.00" r="0.6" fill="#000" />
<circle cx="160.60" cy="433.00" r="0.6" fill="#000" />
<circle cx="157.90" cy="435.00" r="0.6" fill="#000" />
<circle cx="154.22" cy="441.00" r="0.6" fill="#000" />
<circle cx="157.29" cy="452.00" r="0.6" fill="#000" />
<circle cx="157.89" cy="462.60" r="0.6" fill="#000" />
<circle cx="202.95" cy="432.00" r="0.6" fill="#000" />
<circle cx="192.10" cy="432.50" r="0.6" fill="#000" />
<circle cx="199.36" cy="433.00" r="0.6" fill="#000" />
<circle cx="194.38" cy="433.50" r="0.6" fill="#000" />
<circle cx="194.83" cy="443.00" r="0.6" fill="#000" />
<circle cx="202.76" cy="453.00" r="0.6" fill="#000" />
<circle cx="198.52" cy="454.00" r="0.6" fill="#000" />
<circle cx="199.39" cy="465.00" r="0.6" fill="#000" />
<circle cx="202.56" cy="466.00" r="0.6" fill="#000" />
<circle cx="205.00" cy="470.40" r="0.6" fill="#000" />
<circle cx="197.49" cy="470.40" r="0.6" fill="#000" />
<circle cx="200.20" cy="470.40" r="0.6" fill="#000" />
<circle cx="198.49" cy="470.40" r="0.6" fill="#000" />
<circle cx="198.59" cy="470.40" r="0.6" fill="#000" />
<text x="240.40" y="378.30" font-size="8.4" text-anchor="start" fill="#000" font-weight="normal" >Efficacy</text>
<line x1="244.40" y1="382.70" x2="244.40" y2="387.90" stroke="#333333" stroke-width="0.5" />
<rect x="241.50" y="383.60" width="5.80" height="3.40" fill="#F8766D" stroke="#333333" stroke-width="0.4" />
<text x="251.50" y="388.30" font-size="8.4" text-anchor="start" fill="#000" font-weight="normal" >OR</text>
<line x1="244.40" y1="390.70" x2="244.40" y2="395.90" stroke="#333333" stroke-width="0.5" />
<rect x="241.50" y="391.60" width="5.80" height="3.40" fill="#1CBDC2" stroke="#333333" stroke-width="0.4" />
<text x="251.50" y="396.30" font-size="8.4" text-anchor="start" fill="#000" font-weight="normal" >non-OR</text>
<rect x="327.30" y="279.60" width="55.90" height="13.10" fill="#D1D1D1" stroke="#4D4D4D" stroke-width="0.5" />
<text x="357.95" y="290.00" font-size="8.5" text-anchor="middle" fill="#1A1A1A" font-weight="normal" >GNLY</text>
<rect x="387.55" y="279.60" width="55.90" height="13.10" fill="#D1D1D1" stroke="#4D4D4D" stroke-width="0.5" />
<text x="418.20" y="290.00" font-size="8.5" text-anchor="middle" fill="#1A1A1A" font-weight="normal" >GZMA</text>
<rect x="447.80" y="279.60" width="55.90" height="13.10" fill="#D1D1D1" stroke="#4D4D4D" stroke-width="0.5" />
<text x="478.45" y="290.00" font-size="8.5" text-anchor="middle" fill="#1A1A1A" font-weight="normal" >GZMB</text>
<rect x="508.05" y="279.60" width="55.90" height="13.10" fill="#D1D1D1" stroke="#4D4D4D" stroke-width="0.5" />
<text x="538.70" y="290.00" font-size="8.5" text-anchor="middle" fill="#1A1A1A" font-weight="normal" >GZMK</text>
<rect x="568.30" y="279.60" width="55.90" height="13.10" fill="#D1D1D1" stroke="#4D4D4D" stroke-width="0.5" />
<text x="598.95" y="290.00" font-size="8.5" text-anchor="middle" fill="#1A1A1A" font-weight="normal" >NKG7</text>
<rect x="624.60" y="292.70" width="12.20" height="89.60" fill="#D1D1D1" stroke="#4D4D4D" stroke-width="0.5" />
<text x="628.30" y="340.50" font-size="8.4" text-anchor="middle" fill="#1A1A1A" font-weight="normal" transform="rotate(90 628.30 340.50)" >Pre</text>
<rect x="624.60" y="385.30" width="12.20" height="89.10" fill="#D1D1D1" stroke="#4D4D4D" stroke-width="0.5" />
<text x="628.30" y="434.35" font-size="8.4" text-anchor="middle" fill="#1A1A1A" font-weight="normal" transform="rotate(90 628.30 434.35)" >Post</text>
<rect x="327.30" y="292.70" width="55.90" height="89.60" fill="#FFFFFF" />
<line x1="327.30" y1="363.27" x2="383.20" y2="363.27" stroke="#ECECEC" stroke-width="0.35" />
<line x1="327.30" y1="331.02" x2="383.20" y2="331.02" stroke="#ECECEC" stroke-width="0.35" />
<line x1="327.30" y1="298.77" x2="383.20" y2="298.77" stroke="#ECECEC" stroke-width="0.35" />
<line x1="327.30" y1="379.40" x2="383.20" y2="379.40" stroke="#DFDFDF" stroke-width="0.5" />
<line x1="327.30" y1="347.15" x2="383.20" y2="347.15" stroke="#DFDFDF" stroke-width="0.5" />
<line x1="327.30" y1="314.90" x2="383.20" y2="314.90" stroke="#DFDFDF" stroke-width="0.5" />
<line x1="342.50" y1="292.70" x2="342.50" y2="382.30" stroke="#DFDFDF" stroke-width="0.5" />
<line x1="367.90" y1="292.70" x2="367.90" y2="382.30" stroke="#DFDFDF" stroke-width="0.5" />
<rect x="327.30" y="292.70" width="55.90" height="89.60" fill="none" stroke="#4D4D4D" stroke-width="0.6" />
<rect x="387.55" y="292.70" width="55.90" height="89.60" fill="#FFFFFF" />
<line x1="387.55" y1="363.27" x2="443.45" y2="363.27" stroke="#ECECEC" stroke-width="0.35" />
<line x1="387.55" y1="331.02" x2="443.45" y2="331.02" stroke="#ECECEC" stroke-width="0.35" />
<line x1="387.55" y1="298.77" x2="443.45" y2="298.77" stroke="#ECECEC" stroke-width="0.35" />
<line x1="387.55" y1="379.40" x2="443.45" y2="379.40" stroke="#DFDFDF" stroke-width="0.5" />
<line x1="387.55" y1="347.15" x2="443.45" y2="347.15" stroke="#DFDFDF" stroke-width="0.5" />
<line x1="387.55" y1="314.90" x2="443.45" y2="314.90" stroke="#DFDFDF" stroke-width="0.5" />
<line x1="402.75" y1="292.70" x2="402.75" y2="382.30" stroke="#DFDFDF" stroke-width="0.5" />
<line x1="428.15" y1="292.70" x2="428.15" y2="382.30" stroke="#DFDFDF" stroke-width="0.5" />
<rect x="387.55" y="292.70" width="55.90" height="89.60" fill="none" stroke="#4D4D4D" stroke-width="0.6" />
<rect x="447.80" y="292.70" width="55.90" height="89.60" fill="#FFFFFF" />
<line x1="447.80" y1="363.27" x2="503.70" y2="363.27" stroke="#ECECEC" stroke-width="0.35" />
<line x1="447.80" y1="331.02" x2="503.70" y2="331.02" stroke="#ECECEC" stroke-width="0.35" />
<line x1="447.80" y1="298.77" x2="503.70" y2="298.77" stroke="#ECECEC" stroke-width="0.35" />
<line x1="447.80" y1="379.40" x2="503.70" y2="379.40" stroke="#DFDFDF" stroke-width="0.5" />
<line x1="447.80" y1="347.15" x2="503.70" y2="347.15" stroke="#DFDFDF" stroke-width="0.5" />
<line x1="447.80" y1="314.90" x2="503.70" y2="314.90" stroke="#DFDFDF" stroke-width="0.5" />
<line x1="463.00" y1="292.70" x2="463.00" y2="382.30" stroke="#DFDFDF" stroke-width="0.5" />
<line x1="488.40" y1="292.70" x2="488.40" y2="382.30" stroke="#DFDFDF" stroke-width="0.5" />
<rect x="447.80" y="292.70" width="55.90" height="89.60" fill="none" stroke="#4D4D4D" stroke-width="0.6" />
<rect x="508.05" y="292.70" width="55.90" height="89.60" fill="#FFFFFF" />
<line x1="508.05" y1="363.27" x2="563.95" y2="363.27" stroke="#ECECEC" stroke-width="0.35" />
<line x1="508.05" y1="331.02" x2="563.95" y2="331.02" stroke="#ECECEC" stroke-width="0.35" />
<line x1="508.05" y1="298.77" x2="563.95" y2="298.77" stroke="#ECECEC" stroke-width="0.35" />
<line x1="508.05" y1="379.40" x2="563.95" y2="379.40" stroke="#DFDFDF" stroke-width="0.5" />
<line x1="508.05" y1="347.15" x2="563.95" y2="347.15" stroke="#DFDFDF" stroke-width="0.5" />
<line x1="508.05" y1="314.90" x2="563.95" y2="314.90" stroke="#DFDFDF" stroke-width="0.5" />
<line x1="523.25" y1="292.70" x2="523.25" y2="382.30" stroke="#DFDFDF" stroke-width="0.5" />
<line x1="548.65" y1="292.70" x2="548.65" y2="382.30" stroke="#DFDFDF" stroke-width="0.5" />
<rect x="508.05" y="292.70" width="55.90" height="89.60" fill="none" stroke="#4D4D4D" stroke-width="0.6" />
<rect x="568.30" y="292.70" width="55.90" height="89.60" fill="#FFFFFF" />
<line x1="568.30" y1="363.27" x2="624.20" y2="363.27" stroke="#ECECEC" stroke-width="0.35" />
<line x1="568.30" y1="331.02" x2="624.20" y2="331.02" stroke="#ECECEC" stroke-width="0.35" />
<line x1="568.30" y1="298.77" x2="624.20" y2="298.77" stroke="#ECECEC" stroke-width="0.35" />
<line x1="568.30" y1="379.40" x2="624.20" y2="379.40" stroke="#DFDFDF" stroke-width="0.5" />
<line x1="568.30" y1="347.15" x2="624.20" y2="347.15" stroke="#DFDFDF" stroke-width="0.5" />
<line x1="568.30" y1="314.90" x2="624.20" y2="314.90" stroke="#DFDFDF" stroke-width="0.5" />
<line x1="583.50" y1="292.70" x2="583.50" y2="382.30" stroke="#DFDFDF" stroke-width="0.5" />
<line x1="608.90" y1="292.70" x2="608.90" y2="382.30" stroke="#DFDFDF" stroke-width="0.5" />
<rect x="568.30" y="292.70" width="55.90" height="89.60" fill="none" stroke="#4D4D4D" stroke-width="0.6" />
<line x1="325.70" y1="379.40" x2="327.30" y2="379.40" stroke="#333" stroke-width="0.5" />
<text x="320.80" y="382.30" font-size="8.2" text-anchor="end" fill="#3A3A3A" font-weight="normal" >0</text>
<line x1="325.70" y1="347.15" x2="327.30" y2="347.15" stroke="#333" stroke-width="0.5" />
<text x="320.80" y="350.05" font-size="8.2" text-anchor="end" fill="#3A3A3A" font-weight="normal" >50</text>
<line x1="325.70" y1="314.90" x2="327.30" y2="314.90" stroke="#333" stroke-width="0.5" />
<text x="320.80" y="317.80" font-size="8.2" text-anchor="end" fill="#3A3A3A" font-weight="normal" >100</text>
<rect x="327.30" y="385.30" width="55.90" height="89.10" fill="#FFFFFF" />
<line x1="327.30" y1="455.18" x2="383.20" y2="455.18" stroke="#ECECEC" stroke-width="0.35" />
<line x1="327.30" y1="422.93" x2="383.20" y2="422.93" stroke="#ECECEC" stroke-width="0.35" />
<line x1="327.30" y1="390.68" x2="383.20" y2="390.68" stroke="#ECECEC" stroke-width="0.35" />
<line x1="327.30" y1="471.30" x2="383.20" y2="471.30" stroke="#DFDFDF" stroke-width="0.5" />
<line x1="327.30" y1="439.05" x2="383.20" y2="439.05" stroke="#DFDFDF" stroke-width="0.5" />
<line x1="327.30" y1="406.80" x2="383.20" y2="406.80" stroke="#DFDFDF" stroke-width="0.5" />
<line x1="342.50" y1="385.30" x2="342.50" y2="474.40" stroke="#DFDFDF" stroke-width="0.5" />
<line x1="367.90" y1="385.30" x2="367.90" y2="474.40" stroke="#DFDFDF" stroke-width="0.5" />
<rect x="327.30" y="385.30" width="55.90" height="89.10" fill="none" stroke="#4D4D4D" stroke-width="0.6" />
<rect x="387.55" y="385.30" width="55.90" height="89.10" fill="#FFFFFF" />
<line x1="387.55" y1="455.18" x2="443.45" y2="455.18" stroke="#ECECEC" stroke-width="0.35" />
<line x1="387.55" y1="422.93" x2="443.45" y2="422.93" stroke="#ECECEC" stroke-width="0.35" />
<line x1="387.55" y1="390.68" x2="443.45" y2="390.68" stroke="#ECECEC" stroke-width="0.35" />
<line x1="387.55" y1="471.30" x2="443.45" y2="471.30" stroke="#DFDFDF" stroke-width="0.5" />
<line x1="387.55" y1="439.05" x2="443.45" y2="439.05" stroke="#DFDFDF" stroke-width="0.5" />
<line x1="387.55" y1="406.80" x2="443.45" y2="406.80" stroke="#DFDFDF" stroke-width="0.5" />
<line x1="402.75" y1="385.30" x2="402.75" y2="474.40" stroke="#DFDFDF" stroke-width="0.5" />
<line x1="428.15" y1="385.30" x2="428.15" y2="474.40" stroke="#DFDFDF" stroke-width="0.5" />
<rect x="387.55" y="385.30" width="55.90" height="89.10" fill="none" stroke="#4D4D4D" stroke-width="0.6" />
<rect x="447.80" y="385.30" width="55.90" height="89.10" fill="#FFFFFF" />
<line x1="447.80" y1="455.18" x2="503.70" y2="455.18" stroke="#ECECEC" stroke-width="0.35" />
<line x1="447.80" y1="422.93" x2="503.70" y2="422.93" stroke="#ECECEC" stroke-width="0.35" />
<line x1="447.80" y1="390.68" x2="503.70" y2="390.68" stroke="#ECECEC" stroke-width="0.35" />
<line x1="447.80" y1="471.30" x2="503.70" y2="471.30" stroke="#DFDFDF" stroke-width="0.5" />
<line x1="447.80" y1="439.05" x2="503.70" y2="439.05" stroke="#DFDFDF" stroke-width="0.5" />
<line x1="447.80" y1="406.80" x2="503.70" y2="406.80" stroke="#DFDFDF" stroke-width="0.5" />
<line x1="463.00" y1="385.30" x2="463.00" y2="474.40" stroke="#DFDFDF" stroke-width="0.5" />
<line x1="488.40" y1="385.30" x2="488.40" y2="474.40" stroke="#DFDFDF" stroke-width="0.5" />
<rect x="447.80" y="385.30" width="55.90" height="89.10" fill="none" stroke="#4D4D4D" stroke-width="0.6" />
<rect x="508.05" y="385.30" width="55.90" height="89.10" fill="#FFFFFF" />
<line x1="508.05" y1="455.18" x2="563.95" y2="455.18" stroke="#ECECEC" stroke-width="0.35" />
<line x1="508.05" y1="422.93" x2="563.95" y2="422.93" stroke="#ECECEC" stroke-width="0.35" />
<line x1="508.05" y1="390.68" x2="563.95" y2="390.68" stroke="#ECECEC" stroke-width="0.35" />
<line x1="508.05" y1="471.30" x2="563.95" y2="471.30" stroke="#DFDFDF" stroke-width="0.5" />
<line x1="508.05" y1="439.05" x2="563.95" y2="439.05" stroke="#DFDFDF" stroke-width="0.5" />
<line x1="508.05" y1="406.80" x2="563.95" y2="406.80" stroke="#DFDFDF" stroke-width="0.5" />
<line x1="523.25" y1="385.30" x2="523.25" y2="474.40" stroke="#DFDFDF" stroke-width="0.5" />
<line x1="548.65" y1="385.30" x2="548.65" y2="474.40" stroke="#DFDFDF" stroke-width="0.5" />
<rect x="508.05" y="385.30" width="55.90" height="89.10" fill="none" stroke="#4D4D4D" stroke-width="0.6" />
<rect x="568.30" y="385.30" width="55.90" height="89.10" fill="#FFFFFF" />
<line x1="568.30" y1="455.18" x2="624.20" y2="455.18" stroke="#ECECEC" stroke-width="0.35" />
<line x1="568.30" y1="422.93" x2="624.20" y2="422.93" stroke="#ECECEC" stroke-width="0.35" />
<line x1="568.30" y1="390.68" x2="624.20" y2="390.68" stroke="#ECECEC" stroke-width="0.35" />
<line x1="568.30" y1="471.30" x2="624.20" y2="471.30" stroke="#DFDFDF" stroke-width="0.5" />
<line x1="568.30" y1="439.05" x2="624.20" y2="439.05" stroke="#DFDFDF" stroke-width="0.5" />
<line x1="568.30" y1="406.80" x2="624.20" y2="406.80" stroke="#DFDFDF" stroke-width="0.5" />
<line x1="583.50" y1="385.30" x2="583.50" y2="474.40" stroke="#DFDFDF" stroke-width="0.5" />
<line x1="608.90" y1="385.30" x2="608.90" y2="474.40" stroke="#DFDFDF" stroke-width="0.5" />
<rect x="568.30" y="385.30" width="55.90" height="89.10" fill="none" stroke="#4D4D4D" stroke-width="0.6" />
<line x1="325.70" y1="471.30" x2="327.30" y2="471.30" stroke="#333" stroke-width="0.5" />
<text x="320.80" y="474.20" font-size="8.2" text-anchor="end" fill="#3A3A3A" font-weight="normal" >0</text>
<line x1="325.70" y1="439.05" x2="327.30" y2="439.05" stroke="#333" stroke-width="0.5" />
<text x="320.80" y="441.95" font-size="8.2" text-anchor="end" fill="#3A3A3A" font-weight="normal" >50</text>
<line x1="325.70" y1="406.80" x2="327.30" y2="406.80" stroke="#333" stroke-width="0.5" />
<text x="320.80" y="409.70" font-size="8.2" text-anchor="end" fill="#3A3A3A" font-weight="normal" >100</text>
<line x1="342.50" y1="474.40" x2="342.50" y2="476.00" stroke="#333" stroke-width="0.5" />
<text x="343.30" y="486.30" font-size="7.9" text-anchor="middle" fill="#3A3A3A" font-weight="normal" >CR</text>
<line x1="367.90" y1="474.40" x2="367.90" y2="476.00" stroke="#333" stroke-width="0.5" />
<text x="368.70" y="486.30" font-size="7.9" text-anchor="middle" fill="#3A3A3A" font-weight="normal" >SD</text>
<line x1="402.75" y1="474.40" x2="402.75" y2="476.00" stroke="#333" stroke-width="0.5" />
<text x="403.55" y="486.30" font-size="7.9" text-anchor="middle" fill="#3A3A3A" font-weight="normal" >CR</text>
<line x1="428.15" y1="474.40" x2="428.15" y2="476.00" stroke="#333" stroke-width="0.5" />
<text x="428.95" y="486.30" font-size="7.9" text-anchor="middle" fill="#3A3A3A" font-weight="normal" >SD</text>
<line x1="463.00" y1="474.40" x2="463.00" y2="476.00" stroke="#333" stroke-width="0.5" />
<text x="463.80" y="486.30" font-size="7.9" text-anchor="middle" fill="#3A3A3A" font-weight="normal" >CR</text>
<line x1="488.40" y1="474.40" x2="488.40" y2="476.00" stroke="#333" stroke-width="0.5" />
<text x="489.20" y="486.30" font-size="7.9" text-anchor="middle" fill="#3A3A3A" font-weight="normal" >SD</text>
<line x1="523.25" y1="474.40" x2="523.25" y2="476.00" stroke="#333" stroke-width="0.5" />
<text x="524.05" y="486.30" font-size="7.9" text-anchor="middle" fill="#3A3A3A" font-weight="normal" >CR</text>
<line x1="548.65" y1="474.40" x2="548.65" y2="476.00" stroke="#333" stroke-width="0.5" />
<text x="549.45" y="486.30" font-size="7.9" text-anchor="middle" fill="#3A3A3A" font-weight="normal" >SD</text>
<line x1="583.50" y1="474.40" x2="583.50" y2="476.00" stroke="#333" stroke-width="0.5" />
<text x="584.30" y="486.30" font-size="7.9" text-anchor="middle" fill="#3A3A3A" font-weight="normal" >CR</text>
<line x1="608.90" y1="474.40" x2="608.90" y2="476.00" stroke="#333" stroke-width="0.5" />
<text x="609.70" y="486.30" font-size="7.9" text-anchor="middle" fill="#3A3A3A" font-weight="normal" >SD</text>
<text x="476.50" y="499.80" font-size="8.4" text-anchor="middle" fill="#000" font-weight="normal" >Efficacy</text>
<text x="300.30" y="375.70" font-size="7.6" text-anchor="middle" fill="#000" font-weight="normal" transform="rotate(-90 300.30 375.70)" >expression</text>
<line x1="342.50" y1="365.00" x2="342.50" y2="369.10" stroke="#333333" stroke-width="0.5" />
<line x1="342.50" y1="375.40" x2="342.50" y2="377.00" stroke="#333333" stroke-width="0.5" />
<rect x="336.10" y="369.10" width="12.80" height="6.30" fill="#F8766D" stroke="#333333" stroke-width="0.5" />
<line x1="336.10" y1="373.40" x2="348.90" y2="373.40" stroke="#333333" stroke-width="0.9" />
<circle cx="341.90" cy="373.84" r="0.6" fill="#000" />
<circle cx="338.05" cy="372.14" r="0.6" fill="#000" />
<circle cx="339.80" cy="372.76" r="0.6" fill="#000" />
<circle cx="338.06" cy="372.34" r="0.6" fill="#000" />
<circle cx="344.26" cy="375.65" r="0.6" fill="#000" />
<circle cx="345.45" cy="373.88" r="0.6" fill="#000" />
<circle cx="346.63" cy="375.04" r="0.6" fill="#000" />
<circle cx="338.91" cy="375.66" r="0.6" fill="#000" />
<circle cx="344.75" cy="370.41" r="0.6" fill="#000" />
<circle cx="344.17" cy="372.94" r="0.6" fill="#000" />
<circle cx="338.79" cy="375.67" r="0.6" fill="#000" />
<circle cx="346.48" cy="374.77" r="0.6" fill="#000" />
<circle cx="347.36" cy="368.93" r="0.6" fill="#000" />
<circle cx="339.58" cy="368.70" r="0.6" fill="#000" />
<line x1="367.90" y1="347.40" x2="367.90" y2="361.90" stroke="#333333" stroke-width="0.5" />
<line x1="367.90" y1="373.00" x2="367.90" y2="378.30" stroke="#333333" stroke-width="0.5" />
<rect x="361.50" y="361.90" width="12.80" height="11.10" fill="#1CBDC2" stroke="#333333" stroke-width="0.5" />
<line x1="361.50" y1="370.30" x2="374.30" y2="370.30" stroke="#333333" stroke-width="0.9" />
<circle cx="372.81" cy="375.18" r="0.6" fill="#000" />
<circle cx="363.79" cy="364.67" r="0.6" fill="#000" />
<circle cx="365.46" cy="366.51" r="0.6" fill="#000" />
<circle cx="363.11" cy="376.86" r="0.6" fill="#000" />
<circle cx="370.80" cy="372.43" r="0.6" fill="#000" />
<circle cx="365.51" cy="358.40" r="0.6" fill="#000" />
<circle cx="364.05" cy="365.38" r="0.6" fill="#000" />
<circle cx="367.09" cy="367.06" r="0.6" fill="#000" />
<circle cx="372.18" cy="363.34" r="0.6" fill="#000" />
<circle cx="371.22" cy="359.51" r="0.6" fill="#000" />
<circle cx="365.39" cy="362.85" r="0.6" fill="#000" />
<circle cx="364.25" cy="370.66" r="0.6" fill="#000" />
<circle cx="372.26" cy="351.22" r="0.6" fill="#000" />
<circle cx="368.63" cy="367.78" r="0.6" fill="#000" />
<circle cx="369.98" cy="365.57" r="0.6" fill="#000" />
<circle cx="363.63" cy="351.08" r="0.6" fill="#000" />
<circle cx="363.30" cy="363.16" r="0.6" fill="#000" />
<circle cx="369.86" cy="369.02" r="0.6" fill="#000" />
<circle cx="367.12" cy="366.99" r="0.6" fill="#000" />
<circle cx="363.45" cy="354.34" r="0.6" fill="#000" />
<circle cx="372.46" cy="376.55" r="0.6" fill="#000" />
<circle cx="369.30" cy="371.71" r="0.6" fill="#000" />
<path d="M342.50 298.90V296.30H367.90V298.90" stroke="#333" stroke-width="0.45" fill="none" />
<text x="352.90" y="306.20" font-size="8.9" text-anchor="middle" fill="#333" font-weight="normal" >0.24</text>
<line x1="342.50" y1="451.10" x2="342.50" y2="457.10" stroke="#333333" stroke-width="0.5" />
<line x1="342.50" y1="464.30" x2="342.50" y2="464.80" stroke="#333333" stroke-width="0.5" />
<rect x="336.10" y="457.10" width="12.80" height="7.20" fill="#F8766D" stroke="#333333" stroke-width="0.5" />
<line x1="336.10" y1="461.40" x2="348.90" y2="461.40" stroke="#333333" stroke-width="0.9" />
<circle cx="346.94" cy="462.46" r="0.6" fill="#000" />
<circle cx="340.09" cy="454.77" r="0.6" fill="#000" />
<circle cx="338.64" cy="462.84" r="0.6" fill="#000" />
<circle cx="342.78" cy="454.37" r="0.6" fill="#000" />
<circle cx="339.78" cy="462.89" r="0.6" fill="#000" />
<circle cx="338.44" cy="459.65" r="0.6" fill="#000" />
<circle cx="338.98" cy="458.49" r="0.6" fill="#000" />
<circle cx="337.82" cy="460.54" r="0.6" fill="#000" />
<line x1="367.90" y1="437.80" x2="367.90" y2="447.50" stroke="#333333" stroke-width="0.5" />
<line x1="367.90" y1="463.60" x2="367.90" y2="465.50" stroke="#333333" stroke-width="0.5" />
<rect x="361.50" y="447.50" width="12.80" height="16.10" fill="#1CBDC2" stroke="#333333" stroke-width="0.5" />
<line x1="361.50" y1="459.00" x2="374.30" y2="459.00" stroke="#333333" stroke-width="0.9" />
<circle cx="362.89" cy="449.26" r="0.6" fill="#000" />
<circle cx="365.30" cy="452.05" r="0.6" fill="#000" />
<circle cx="362.86" cy="451.89" r="0.6" fill="#000" />
<circle cx="370.32" cy="460.04" r="0.6" fill="#000" />
<circle cx="368.43" cy="451.54" r="0.6" fill="#000" />
<circle cx="364.67" cy="455.84" r="0.6" fill="#000" />
<circle cx="367.64" cy="448.56" r="0.6" fill="#000" />
<circle cx="372.42" cy="452.83" r="0.6" fill="#000" />
<path d="M342.50 391.00V388.40H367.90V391.00" stroke="#333" stroke-width="0.45" fill="none" />
<text x="356.40" y="398.30" font-size="8.9" text-anchor="middle" fill="#333" font-weight="normal" >0.38</text>
<circle cx="364.90" cy="321.90" r="0.6" fill="#000" />
<circle cx="371.20" cy="337.30" r="0.6" fill="#000" />
<line x1="402.75" y1="351.00" x2="402.75" y2="361.40" stroke="#333333" stroke-width="0.5" />
<line x1="402.75" y1="374.20" x2="402.75" y2="377.00" stroke="#333333" stroke-width="0.5" />
<rect x="396.35" y="361.40" width="12.80" height="12.80" fill="#F8766D" stroke="#333333" stroke-width="0.5" />
<line x1="396.35" y1="371.00" x2="409.15" y2="371.00" stroke="#333333" stroke-width="0.9" />
<circle cx="401.16" cy="358.73" r="0.6" fill="#000" />
<circle cx="398.12" cy="372.45" r="0.6" fill="#000" />
<circle cx="398.90" cy="366.58" r="0.6" fill="#000" />
<circle cx="398.29" cy="367.67" r="0.6" fill="#000" />
<circle cx="405.26" cy="372.65" r="0.6" fill="#000" />
<circle cx="400.21" cy="365.86" r="0.6" fill="#000" />
<circle cx="399.25" cy="367.87" r="0.6" fill="#000" />
<circle cx="398.43" cy="370.65" r="0.6" fill="#000" />
<circle cx="406.30" cy="375.58" r="0.6" fill="#000" />
<circle cx="406.60" cy="364.87" r="0.6" fill="#000" />
<circle cx="404.52" cy="372.62" r="0.6" fill="#000" />
<circle cx="400.48" cy="370.92" r="0.6" fill="#000" />
<circle cx="400.07" cy="369.90" r="0.6" fill="#000" />
<circle cx="400.60" cy="366.08" r="0.6" fill="#000" />
<line x1="428.15" y1="354.20" x2="428.15" y2="363.30" stroke="#333333" stroke-width="0.5" />
<line x1="428.15" y1="372.20" x2="428.15" y2="377.80" stroke="#333333" stroke-width="0.5" />
<rect x="421.75" y="363.30" width="12.80" height="8.90" fill="#1CBDC2" stroke="#333333" stroke-width="0.5" />
<line x1="421.75" y1="368.10" x2="434.55" y2="368.10" stroke="#333333" stroke-width="0.9" />
<circle cx="423.18" cy="367.35" r="0.6" fill="#000" />
<circle cx="426.11" cy="361.90" r="0.6" fill="#000" />
<circle cx="425.37" cy="367.15" r="0.6" fill="#000" />
<circle cx="429.04" cy="364.15" r="0.6" fill="#000" />
<circle cx="428.45" cy="375.17" r="0.6" fill="#000" />
<circle cx="430.76" cy="375.58" r="0.6" fill="#000" />
<circle cx="429.79" cy="368.55" r="0.6" fill="#000" />
<circle cx="430.40" cy="363.79" r="0.6" fill="#000" />
<circle cx="432.09" cy="375.31" r="0.6" fill="#000" />
<circle cx="427.00" cy="364.99" r="0.6" fill="#000" />
<circle cx="426.34" cy="365.79" r="0.6" fill="#000" />
<circle cx="433.19" cy="354.83" r="0.6" fill="#000" />
<circle cx="424.50" cy="366.19" r="0.6" fill="#000" />
<circle cx="430.48" cy="367.57" r="0.6" fill="#000" />
<circle cx="429.64" cy="367.96" r="0.6" fill="#000" />
<circle cx="423.41" cy="362.90" r="0.6" fill="#000" />
<circle cx="431.64" cy="367.98" r="0.6" fill="#000" />
<circle cx="432.23" cy="355.57" r="0.6" fill="#000" />
<circle cx="429.47" cy="364.17" r="0.6" fill="#000" />
<circle cx="430.58" cy="360.01" r="0.6" fill="#000" />
<circle cx="431.40" cy="366.46" r="0.6" fill="#000" />
<circle cx="424.40" cy="358.16" r="0.6" fill="#000" />
<path d="M402.75 298.90V296.30H428.15V298.90" stroke="#333" stroke-width="0.45" fill="none" />
<text x="416.65" y="306.20" font-size="8.9" text-anchor="middle" fill="#333" font-weight="normal" >0.33</text>
<line x1="402.75" y1="435.40" x2="402.75" y2="444.30" stroke="#333333" stroke-width="0.5" />
<line x1="402.75" y1="458.30" x2="402.75" y2="460.70" stroke="#333333" stroke-width="0.5" />
<rect x="396.35" y="444.30" width="12.80" height="14.00" fill="#F8766D" stroke="#333333" stroke-width="0.5" />
<line x1="396.35" y1="451.60" x2="409.15" y2="451.60" stroke="#333333" stroke-width="0.9" />
<circle cx="404.76" cy="451.50" r="0.6" fill="#000" />
<circle cx="399.94" cy="451.19" r="0.6" fill="#000" />
<circle cx="397.87" cy="455.80" r="0.6" fill="#000" />
<circle cx="398.93" cy="455.37" r="0.6" fill="#000" />
<circle cx="401.30" cy="455.67" r="0.6" fill="#000" />
<circle cx="398.64" cy="452.40" r="0.6" fill="#000" />
<circle cx="406.24" cy="456.75" r="0.6" fill="#000" />
<circle cx="403.36" cy="453.78" r="0.6" fill="#000" />
<line x1="428.15" y1="437.30" x2="428.15" y2="447.50" stroke="#333333" stroke-width="0.5" />
<line x1="428.15" y1="463.60" x2="428.15" y2="466.00" stroke="#333333" stroke-width="0.5" />
<rect x="421.75" y="447.50" width="12.80" height="16.10" fill="#1CBDC2" stroke="#333333" stroke-width="0.5" />
<line x1="421.75" y1="453.00" x2="434.55" y2="453.00" stroke="#333333" stroke-width="0.9" />
<circle cx="428.52" cy="456.75" r="0.6" fill="#000" />
<circle cx="429.81" cy="456.73" r="0.6" fill="#000" />
<circle cx="423.64" cy="457.55" r="0.6" fill="#000" />
<circle cx="430.61" cy="454.47" r="0.6" fill="#000" />
<circle cx="425.57" cy="438.71" r="0.6" fill="#000" />
<circle cx="423.72" cy="459.31" r="0.6" fill="#000" />
<circle cx="425.71" cy="458.54" r="0.6" fill="#000" />
<circle cx="430.54" cy="454.71" r="0.6" fill="#000" />
<path d="M402.75 391.00V388.40H428.15V391.00" stroke="#333" stroke-width="0.45" fill="none" />
<text x="416.65" y="398.30" font-size="8.9" text-anchor="middle" fill="#333" font-weight="normal" >0.33</text>
<circle cx="429.80" cy="343.30" r="0.6" fill="#000" />
<circle cx="424.90" cy="345.20" r="0.6" fill="#000" />
<line x1="463.00" y1="360.80" x2="463.00" y2="363.40" stroke="#333333" stroke-width="0.5" />
<line x1="463.00" y1="372.30" x2="463.00" y2="375.90" stroke="#333333" stroke-width="0.5" />
<rect x="456.60" y="363.40" width="12.80" height="8.90" fill="#F8766D" stroke="#333333" stroke-width="0.5" />
<line x1="456.60" y1="370.20" x2="469.40" y2="370.20" stroke="#333333" stroke-width="0.9" />
<circle cx="460.97" cy="366.49" r="0.6" fill="#000" />
<circle cx="463.70" cy="371.63" r="0.6" fill="#000" />
<circle cx="457.93" cy="374.59" r="0.6" fill="#000" />
<circle cx="458.43" cy="369.63" r="0.6" fill="#000" />
<circle cx="460.60" cy="368.57" r="0.6" fill="#000" />
<circle cx="464.79" cy="369.49" r="0.6" fill="#000" />
<circle cx="465.00" cy="371.19" r="0.6" fill="#000" />
<circle cx="464.83" cy="371.85" r="0.6" fill="#000" />
<circle cx="460.82" cy="370.67" r="0.6" fill="#000" />
<circle cx="463.17" cy="370.87" r="0.6" fill="#000" />
<circle cx="462.63" cy="364.30" r="0.6" fill="#000" />
<circle cx="462.65" cy="365.62" r="0.6" fill="#000" />
<circle cx="459.03" cy="367.13" r="0.6" fill="#000" />
<circle cx="467.09" cy="371.65" r="0.6" fill="#000" />
<line x1="488.40" y1="350.10" x2="488.40" y2="364.10" stroke="#333333" stroke-width="0.5" />
<line x1="488.40" y1="370.50" x2="488.40" y2="373.40" stroke="#333333" stroke-width="0.5" />
<rect x="482.00" y="364.10" width="12.80" height="6.40" fill="#1CBDC2" stroke="#333333" stroke-width="0.5" />
<line x1="482.00" y1="366.90" x2="494.80" y2="366.90" stroke="#333333" stroke-width="0.9" />
<circle cx="492.54" cy="359.39" r="0.6" fill="#000" />
<circle cx="488.26" cy="371.85" r="0.6" fill="#000" />
<circle cx="483.46" cy="370.76" r="0.6" fill="#000" />
<circle cx="483.24" cy="352.85" r="0.6" fill="#000" />
<circle cx="488.31" cy="364.20" r="0.6" fill="#000" />
<circle cx="487.89" cy="368.96" r="0.6" fill="#000" />
<circle cx="486.34" cy="371.53" r="0.6" fill="#000" />
<circle cx="484.66" cy="364.06" r="0.6" fill="#000" />
<circle cx="486.78" cy="360.89" r="0.6" fill="#000" />
<circle cx="486.49" cy="359.64" r="0.6" fill="#000" />
<circle cx="491.94" cy="370.96" r="0.6" fill="#000" />
<circle cx="483.22" cy="359.66" r="0.6" fill="#000" />
<circle cx="491.01" cy="365.97" r="0.6" fill="#000" />
<circle cx="491.93" cy="357.94" r="0.6" fill="#000" />
<circle cx="484.45" cy="365.17" r="0.6" fill="#000" />
<circle cx="492.83" cy="371.13" r="0.6" fill="#000" />
<circle cx="490.62" cy="357.68" r="0.6" fill="#000" />
<circle cx="492.58" cy="368.96" r="0.6" fill="#000" />
<circle cx="486.21" cy="364.95" r="0.6" fill="#000" />
<circle cx="487.07" cy="369.88" r="0.6" fill="#000" />
<circle cx="487.29" cy="367.56" r="0.6" fill="#000" />
<circle cx="493.59" cy="360.11" r="0.6" fill="#000" />
<path d="M463.00 298.90V296.30H488.40V298.90" stroke="#333" stroke-width="0.45" fill="none" />
<text x="476.90" y="306.20" font-size="8.9" text-anchor="middle" fill="#333" font-weight="normal" >0.11</text>
<line x1="463.00" y1="458.70" x2="463.00" y2="461.50" stroke="#333333" stroke-width="0.5" />
<line x1="463.00" y1="466.60" x2="463.00" y2="468.00" stroke="#333333" stroke-width="0.5" />
<rect x="456.60" y="461.50" width="12.80" height="5.10" fill="#F8766D" stroke="#333333" stroke-width="0.5" />
<line x1="456.60" y1="464.00" x2="469.40" y2="464.00" stroke="#333333" stroke-width="0.9" />
<circle cx="467.53" cy="464.71" r="0.6" fill="#000" />
<circle cx="460.39" cy="463.41" r="0.6" fill="#000" />
<circle cx="460.56" cy="463.83" r="0.6" fill="#000" />
<circle cx="463.11" cy="462.81" r="0.6" fill="#000" />
<circle cx="459.77" cy="460.42" r="0.6" fill="#000" />
<circle cx="461.68" cy="461.20" r="0.6" fill="#000" />
<circle cx="467.74" cy="465.96" r="0.6" fill="#000" />
<circle cx="467.00" cy="462.89" r="0.6" fill="#000" />
<line x1="488.40" y1="456.90" x2="488.40" y2="460.10" stroke="#333333" stroke-width="0.5" />
<line x1="488.40" y1="464.40" x2="488.40" y2="466.60" stroke="#333333" stroke-width="0.5" />
<rect x="482.00" y="460.10" width="12.80" height="4.30" fill="#1CBDC2" stroke="#333333" stroke-width="0.5" />
<line x1="482.00" y1="462.30" x2="494.80" y2="462.30" stroke="#333333" stroke-width="0.9" />
<circle cx="487.89" cy="464.17" r="0.6" fill="#000" />
<circle cx="491.03" cy="463.18" r="0.6" fill="#000" />
<circle cx="489.90" cy="464.95" r="0.6" fill="#000" />
<circle cx="486.18" cy="465.23" r="0.6" fill="#000" />
<circle cx="483.71" cy="462.76" r="0.6" fill="#000" />
<circle cx="492.84" cy="463.63" r="0.6" fill="#000" />
<circle cx="484.52" cy="458.66" r="0.6" fill="#000" />
<circle cx="488.11" cy="463.70" r="0.6" fill="#000" />
<path d="M463.00 391.00V388.40H488.40V391.00" stroke="#333" stroke-width="0.45" fill="none" />
<text x="476.90" y="398.30" font-size="8.9" text-anchor="middle" fill="#333" font-weight="normal" >0.37</text>
<circle cx="458.60" cy="332.20" r="0.6" fill="#000" />
<line x1="523.25" y1="339.00" x2="523.25" y2="359.40" stroke="#333333" stroke-width="0.5" />
<line x1="523.25" y1="375.20" x2="523.25" y2="376.60" stroke="#333333" stroke-width="0.5" />
<rect x="516.85" y="359.40" width="12.80" height="15.80" fill="#F8766D" stroke="#333333" stroke-width="0.5" />
<line x1="516.85" y1="373.00" x2="529.65" y2="373.00" stroke="#333333" stroke-width="0.9" />
<circle cx="520.34" cy="360.30" r="0.6" fill="#000" />
<circle cx="527.48" cy="358.82" r="0.6" fill="#000" />
<circle cx="528.41" cy="370.23" r="0.6" fill="#000" />
<circle cx="522.73" cy="375.11" r="0.6" fill="#000" />
<circle cx="519.50" cy="357.53" r="0.6" fill="#000" />
<circle cx="520.05" cy="368.42" r="0.6" fill="#000" />
<circle cx="518.99" cy="358.93" r="0.6" fill="#000" />
<circle cx="521.61" cy="366.12" r="0.6" fill="#000" />
<circle cx="519.00" cy="361.81" r="0.6" fill="#000" />
<circle cx="520.54" cy="353.86" r="0.6" fill="#000" />
<circle cx="520.74" cy="353.61" r="0.6" fill="#000" />
<circle cx="523.97" cy="355.56" r="0.6" fill="#000" />
<circle cx="527.28" cy="373.58" r="0.6" fill="#000" />
<circle cx="525.85" cy="364.61" r="0.6" fill="#000" />
<line x1="548.65" y1="349.00" x2="548.65" y2="363.70" stroke="#333333" stroke-width="0.5" />
<line x1="548.65" y1="374.10" x2="548.65" y2="376.60" stroke="#333333" stroke-width="0.5" />
<rect x="542.25" y="363.70" width="12.80" height="10.40" fill="#1CBDC2" stroke="#333333" stroke-width="0.5" />
<line x1="542.25" y1="370.50" x2="555.05" y2="370.50" stroke="#333333" stroke-width="0.9" />
<circle cx="550.83" cy="365.29" r="0.6" fill="#000" />
<circle cx="552.77" cy="365.31" r="0.6" fill="#000" />
<circle cx="548.37" cy="367.36" r="0.6" fill="#000" />
<circle cx="549.56" cy="364.57" r="0.6" fill="#000" />
<circle cx="543.45" cy="363.75" r="0.6" fill="#000" />
<circle cx="547.52" cy="355.32" r="0.6" fill="#000" />
<circle cx="553.09" cy="362.36" r="0.6" fill="#000" />
<circle cx="552.04" cy="374.64" r="0.6" fill="#000" />
<circle cx="552.35" cy="358.00" r="0.6" fill="#000" />
<circle cx="553.56" cy="366.99" r="0.6" fill="#000" />
<circle cx="546.03" cy="369.12" r="0.6" fill="#000" />
<circle cx="544.58" cy="372.57" r="0.6" fill="#000" />
<circle cx="545.06" cy="360.78" r="0.6" fill="#000" />
<circle cx="548.88" cy="362.20" r="0.6" fill="#000" />
<circle cx="550.54" cy="361.64" r="0.6" fill="#000" />
<circle cx="553.24" cy="365.03" r="0.6" fill="#000" />
<circle cx="550.96" cy="365.93" r="0.6" fill="#000" />
<circle cx="550.18" cy="374.26" r="0.6" fill="#000" />
<circle cx="551.40" cy="372.36" r="0.6" fill="#000" />
<circle cx="548.21" cy="372.72" r="0.6" fill="#000" />
<circle cx="549.19" cy="352.75" r="0.6" fill="#000" />
<circle cx="543.86" cy="353.55" r="0.6" fill="#000" />
<path d="M523.25 298.90V296.30H548.65V298.90" stroke="#333" stroke-width="0.45" fill="none" />
<text x="537.15" y="306.20" font-size="8.9" text-anchor="middle" fill="#333" font-weight="normal" >0.69</text>
<line x1="523.25" y1="412.20" x2="523.25" y2="434.00" stroke="#333333" stroke-width="0.5" />
<line x1="523.25" y1="448.00" x2="523.25" y2="454.00" stroke="#333333" stroke-width="0.5" />
<rect x="516.85" y="434.00" width="12.80" height="14.00" fill="#F8766D" stroke="#333333" stroke-width="0.5" />
<line x1="516.85" y1="441.90" x2="529.65" y2="441.90" stroke="#333333" stroke-width="0.9" />
<circle cx="525.32" cy="444.93" r="0.6" fill="#000" />
<circle cx="519.22" cy="430.04" r="0.6" fill="#000" />
<circle cx="518.78" cy="448.50" r="0.6" fill="#000" />
<circle cx="523.50" cy="441.93" r="0.6" fill="#000" />
<circle cx="524.11" cy="432.59" r="0.6" fill="#000" />
<circle cx="522.09" cy="425.44" r="0.6" fill="#000" />
<circle cx="520.38" cy="430.77" r="0.6" fill="#000" />
<circle cx="524.30" cy="441.71" r="0.6" fill="#000" />
<line x1="548.65" y1="432.90" x2="548.65" y2="441.90" stroke="#333333" stroke-width="0.5" />
<line x1="548.65" y1="465.80" x2="548.65" y2="467.60" stroke="#333333" stroke-width="0.5" />
<rect x="542.25" y="441.90" width="12.80" height="23.90" fill="#1CBDC2" stroke="#333333" stroke-width="0.5" />
<line x1="542.25" y1="451.20" x2="555.05" y2="451.20" stroke="#333333" stroke-width="0.9" />
<circle cx="546.02" cy="435.95" r="0.6" fill="#000" />
<circle cx="553.44" cy="449.27" r="0.6" fill="#000" />
<circle cx="550.78" cy="453.13" r="0.6" fill="#000" />
<circle cx="546.65" cy="464.00" r="0.6" fill="#000" />
<circle cx="543.68" cy="456.83" r="0.6" fill="#000" />
<circle cx="548.63" cy="461.54" r="0.6" fill="#000" />
<circle cx="550.46" cy="453.45" r="0.6" fill="#000" />
<circle cx="547.82" cy="447.34" r="0.6" fill="#000" />
<path d="M523.25 391.00V388.40H548.65V391.00" stroke="#333" stroke-width="0.45" fill="none" />
<text x="537.15" y="398.30" font-size="8.9" text-anchor="middle" fill="#333" font-weight="normal" >0.1</text>
<circle cx="551.90" cy="327.90" r="0.6" fill="#000" />
<line x1="583.50" y1="329.40" x2="583.50" y2="351.90" stroke="#333333" stroke-width="0.5" />
<line x1="583.50" y1="371.90" x2="583.50" y2="375.20" stroke="#333333" stroke-width="0.5" />
<rect x="577.10" y="351.90" width="12.80" height="20.00" fill="#F8766D" stroke="#333333" stroke-width="0.5" />
<line x1="577.10" y1="368.70" x2="589.90" y2="368.70" stroke="#333333" stroke-width="0.9" />
<circle cx="581.54" cy="351.35" r="0.6" fill="#000" />
<circle cx="586.83" cy="364.76" r="0.6" fill="#000" />
<circle cx="580.70" cy="371.10" r="0.6" fill="#000" />
<circle cx="580.60" cy="350.01" r="0.6" fill="#000" />
<circle cx="586.21" cy="337.39" r="0.6" fill="#000" />
<circle cx="581.37" cy="354.56" r="0.6" fill="#000" />
<circle cx="588.20" cy="357.47" r="0.6" fill="#000" />
<circle cx="583.46" cy="365.16" r="0.6" fill="#000" />
<circle cx="580.25" cy="348.66" r="0.6" fill="#000" />
<circle cx="580.62" cy="368.04" r="0.6" fill="#000" />
<circle cx="582.64" cy="366.61" r="0.6" fill="#000" />
<circle cx="585.22" cy="360.15" r="0.6" fill="#000" />
<circle cx="588.17" cy="349.01" r="0.6" fill="#000" />
<circle cx="579.82" cy="372.60" r="0.6" fill="#000" />
<line x1="608.90" y1="326.90" x2="608.90" y2="350.10" stroke="#333333" stroke-width="0.5" />
<line x1="608.90" y1="370.90" x2="608.90" y2="374.10" stroke="#333333" stroke-width="0.5" />
<rect x="602.50" y="350.10" width="12.80" height="20.80" fill="#1CBDC2" stroke="#333333" stroke-width="0.5" />
<line x1="602.50" y1="363.40" x2="615.30" y2="363.40" stroke="#333333" stroke-width="0.9" />
<circle cx="603.73" cy="354.24" r="0.6" fill="#000" />
<circle cx="606.61" cy="347.01" r="0.6" fill="#000" />
<circle cx="607.36" cy="371.19" r="0.6" fill="#000" />
<circle cx="613.64" cy="343.32" r="0.6" fill="#000" />
<circle cx="604.99" cy="336.82" r="0.6" fill="#000" />
<circle cx="613.73" cy="337.59" r="0.6" fill="#000" />
<circle cx="605.86" cy="354.24" r="0.6" fill="#000" />
<circle cx="607.41" cy="368.32" r="0.6" fill="#000" />
<circle cx="612.24" cy="367.92" r="0.6" fill="#000" />
<circle cx="612.25" cy="364.21" r="0.6" fill="#000" />
<circle cx="608.20" cy="373.20" r="0.6" fill="#000" />
<circle cx="604.21" cy="369.36" r="0.6" fill="#000" />
<circle cx="608.62" cy="351.91" r="0.6" fill="#000" />
<circle cx="607.58" cy="345.67" r="0.6" fill="#000" />
<circle cx="613.26" cy="369.51" r="0.6" fill="#000" />
<circle cx="605.71" cy="364.55" r="0.6" fill="#000" />
<circle cx="607.49" cy="334.68" r="0.6" fill="#000" />
<circle cx="613.03" cy="362.43" r="0.6" fill="#000" />
<circle cx="604.01" cy="353.72" r="0.6" fill="#000" />
<circle cx="607.97" cy="353.55" r="0.6" fill="#000" />
<circle cx="612.14" cy="352.00" r="0.6" fill="#000" />
<circle cx="611.67" cy="344.83" r="0.6" fill="#000" />
<path d="M583.50 298.90V296.30H608.90V298.90" stroke="#333" stroke-width="0.45" fill="none" />
<text x="597.40" y="306.20" font-size="8.9" text-anchor="middle" fill="#333" font-weight="normal" >0.22</text>
<line x1="583.50" y1="422.90" x2="583.50" y2="431.90" stroke="#333333" stroke-width="0.5" />
<line x1="583.50" y1="458.00" x2="583.50" y2="459.40" stroke="#333333" stroke-width="0.5" />
<rect x="577.10" y="431.90" width="12.80" height="26.10" fill="#F8766D" stroke="#333333" stroke-width="0.5" />
<line x1="577.10" y1="441.20" x2="589.90" y2="441.20" stroke="#333333" stroke-width="0.9" />
<circle cx="581.13" cy="429.19" r="0.6" fill="#000" />
<circle cx="588.26" cy="428.73" r="0.6" fill="#000" />
<circle cx="584.72" cy="430.71" r="0.6" fill="#000" />
<circle cx="581.03" cy="454.05" r="0.6" fill="#000" />
<circle cx="585.75" cy="438.73" r="0.6" fill="#000" />
<circle cx="581.59" cy="449.89" r="0.6" fill="#000" />
<circle cx="581.17" cy="453.38" r="0.6" fill="#000" />
<circle cx="578.34" cy="441.08" r="0.6" fill="#000" />
<line x1="608.90" y1="424.70" x2="608.90" y2="439.00" stroke="#333333" stroke-width="0.5" />
<line x1="608.90" y1="464.00" x2="608.90" y2="465.80" stroke="#333333" stroke-width="0.5" />
<rect x="602.50" y="439.00" width="12.80" height="25.00" fill="#1CBDC2" stroke="#333333" stroke-width="0.5" />
<line x1="602.50" y1="442.60" x2="615.30" y2="442.60" stroke="#333333" stroke-width="0.9" />
<circle cx="613.62" cy="454.60" r="0.6" fill="#000" />
<circle cx="607.72" cy="459.25" r="0.6" fill="#000" />
<circle cx="606.31" cy="452.00" r="0.6" fill="#000" />
<circle cx="608.17" cy="460.40" r="0.6" fill="#000" />
<circle cx="608.83" cy="430.04" r="0.6" fill="#000" />
<circle cx="613.35" cy="441.28" r="0.6" fill="#000" />
<circle cx="605.60" cy="448.33" r="0.6" fill="#000" />
<circle cx="612.05" cy="461.09" r="0.6" fill="#000" />
<path d="M583.50 391.00V388.40H608.90V391.00" stroke="#333" stroke-width="0.45" fill="none" />
<text x="597.40" y="398.30" font-size="8.9" text-anchor="middle" fill="#333" font-weight="normal" >0.44</text>
<text x="644.60" y="368.90" font-size="8.2" text-anchor="start" fill="#000" font-weight="normal" >Efficacy</text>
<line x1="648.00" y1="374.60" x2="648.00" y2="379.40" stroke="#333333" stroke-width="0.5" />
<rect x="645.20" y="375.40" width="5.60" height="3.20" fill="#F8766D" stroke="#333333" stroke-width="0.4" />
<text x="655.30" y="379.90" font-size="8.2" text-anchor="start" fill="#000" font-weight="normal" >OR</text>
<line x1="648.00" y1="381.80" x2="648.00" y2="386.60" stroke="#333333" stroke-width="0.5" />
<rect x="645.20" y="382.60" width="5.60" height="3.20" fill="#1CBDC2" stroke="#333333" stroke-width="0.4" />
<text x="655.30" y="387.10" font-size="8.2" text-anchor="start" fill="#000" font-weight="normal" >non-OR</text>
<rect x="38.60" y="539.40" width="113.90" height="127.80" fill="#FFFFFF" />
<line x1="38.60" y1="639.88" x2="152.50" y2="639.88" stroke="#ECECEC" stroke-width="0.35" />
<line x1="38.60" y1="603.23" x2="152.50" y2="603.23" stroke="#ECECEC" stroke-width="0.35" />
<line x1="38.60" y1="566.58" x2="152.50" y2="566.58" stroke="#ECECEC" stroke-width="0.35" />
<line x1="52.85" y1="539.40" x2="52.85" y2="667.20" stroke="#ECECEC" stroke-width="0.35" />
<line x1="81.25" y1="539.40" x2="81.25" y2="667.20" stroke="#ECECEC" stroke-width="0.35" />
<line x1="109.65" y1="539.40" x2="109.65" y2="667.20" stroke="#ECECEC" stroke-width="0.35" />
<line x1="138.15" y1="539.40" x2="138.15" y2="667.20" stroke="#ECECEC" stroke-width="0.35" />
<line x1="38.60" y1="658.20" x2="152.50" y2="658.20" stroke="#DFDFDF" stroke-width="0.5" />
<line x1="37.00" y1="658.20" x2="38.60" y2="658.20" stroke="#333" stroke-width="0.5" />
<text x="33.30" y="661.20" font-size="8.6" text-anchor="end" fill="#3A3A3A" font-weight="normal" >0</text>
<line x1="38.60" y1="621.55" x2="152.50" y2="621.55" stroke="#DFDFDF" stroke-width="0.5" />
<line x1="37.00" y1="621.55" x2="38.60" y2="621.55" stroke="#333" stroke-width="0.5" />
<text x="33.30" y="624.55" font-size="8.6" text-anchor="end" fill="#3A3A3A" font-weight="normal" >2000</text>
<line x1="38.60" y1="584.90" x2="152.50" y2="584.90" stroke="#DFDFDF" stroke-width="0.5" />
<line x1="37.00" y1="584.90" x2="38.60" y2="584.90" stroke="#333" stroke-width="0.5" />
<text x="33.30" y="587.90" font-size="8.6" text-anchor="end" fill="#3A3A3A" font-weight="normal" >4000</text>
<line x1="38.60" y1="548.25" x2="152.50" y2="548.25" stroke="#DFDFDF" stroke-width="0.5" />
<line x1="37.00" y1="548.25" x2="38.60" y2="548.25" stroke="#333" stroke-width="0.5" />
<text x="33.30" y="551.25" font-size="8.6" text-anchor="end" fill="#3A3A3A" font-weight="normal" >6000</text>
<line x1="38.60" y1="539.40" x2="38.60" y2="667.20" stroke="#DFDFDF" stroke-width="0.5" />
<line x1="38.60" y1="667.20" x2="38.60" y2="668.80" stroke="#333" stroke-width="0.5" />
<text x="43.60" y="677.20" font-size="8.6" text-anchor="end" fill="#3A3A3A" font-weight="normal" transform="rotate(-45 43.60 677.20)" >−2.2e−18</text>
<line x1="67.10" y1="539.40" x2="67.10" y2="667.20" stroke="#DFDFDF" stroke-width="0.5" />
<line x1="67.10" y1="667.20" x2="67.10" y2="668.80" stroke="#333" stroke-width="0.5" />
<text x="72.10" y="677.20" font-size="8.6" text-anchor="end" fill="#3A3A3A" font-weight="normal" transform="rotate(-45 72.10 677.20)" >1.0e−17</text>
<line x1="95.40" y1="539.40" x2="95.40" y2="667.20" stroke="#DFDFDF" stroke-width="0.5" />
<line x1="95.40" y1="667.20" x2="95.40" y2="668.80" stroke="#333" stroke-width="0.5" />
<text x="100.40" y="677.20" font-size="8.6" text-anchor="end" fill="#3A3A3A" font-weight="normal" transform="rotate(-45 100.40 677.20)" >2.2e−17</text>
<line x1="123.90" y1="539.40" x2="123.90" y2="667.20" stroke="#DFDFDF" stroke-width="0.5" />
<line x1="123.90" y1="667.20" x2="123.90" y2="668.80" stroke="#333" stroke-width="0.5" />
<text x="128.90" y="677.20" font-size="8.6" text-anchor="end" fill="#3A3A3A" font-weight="normal" transform="rotate(-45 128.90 677.20)" >3.5e−17</text>
<line x1="152.40" y1="539.40" x2="152.40" y2="667.20" stroke="#DFDFDF" stroke-width="0.5" />
<line x1="152.40" y1="667.20" x2="152.40" y2="668.80" stroke="#333" stroke-width="0.5" />
<text x="157.40" y="677.20" font-size="8.6" text-anchor="end" fill="#3A3A3A" font-weight="normal" transform="rotate(-45 157.40 677.20)" >4.7e−17</text>
<path d="M43.9 636.6L69.9 638.0L97.9 635.8L125.8 629.7L147.4 622.7L147.4 661.3L125.8 656.2L97.9 651.2L69.9 650.0L43.9 652.0Z" stroke="none" stroke-width="0.5" fill="#BDBDBD" fill-opacity="0.75"/>
<line x1="43.90" y1="644.20" x2="147.40" y2="642.20" stroke="#EE3B3B" stroke-width="0.75" />
<circle cx="66.60" cy="545.20" r="1.5" fill="#000" />
<circle cx="43.90" cy="562.30" r="1.5" fill="#000" />
<circle cx="79.70" cy="570.90" r="1.5" fill="#000" />
<circle cx="44.20" cy="593.00" r="1.5" fill="#000" />
<circle cx="43.90" cy="603.40" r="1.5" fill="#000" />
<circle cx="95.40" cy="609.50" r="1.5" fill="#000" />
<circle cx="100.10" cy="614.30" r="1.5" fill="#000" />
<circle cx="43.90" cy="617.30" r="1.5" fill="#000" />
<circle cx="43.90" cy="629.40" r="1.5" fill="#000" />
<circle cx="43.90" cy="641.40" r="1.5" fill="#000" />
<circle cx="43.90" cy="645.30" r="1.5" fill="#000" />
<circle cx="118.60" cy="639.20" r="1.5" fill="#000" />
<circle cx="135.90" cy="640.80" r="1.5" fill="#000" />
<circle cx="138.10" cy="642.50" r="1.5" fill="#000" />
<circle cx="147.40" cy="649.20" r="1.5" fill="#000" />
<circle cx="131.40" cy="651.20" r="1.5" fill="#000" />
<circle cx="56.50" cy="645.60" r="1.5" fill="#000" />
<circle cx="76.60" cy="645.00" r="1.5" fill="#000" />
<circle cx="109.30" cy="651.20" r="1.5" fill="#000" />
<circle cx="110.20" cy="654.00" r="1.5" fill="#000" />
<circle cx="93.70" cy="652.00" r="1.5" fill="#000" />
<circle cx="95.10" cy="656.20" r="1.5" fill="#000" />
<circle cx="97.30" cy="657.10" r="1.5" fill="#000" />
<circle cx="83.90" cy="657.10" r="1.5" fill="#000" />
<circle cx="74.40" cy="657.10" r="1.5" fill="#000" />
<circle cx="75.50" cy="654.80" r="1.5" fill="#000" />
<circle cx="76.90" cy="655.70" r="1.5" fill="#000" />
<circle cx="66.30" cy="651.20" r="1.5" fill="#000" />
<circle cx="66.60" cy="655.70" r="1.5" fill="#000" />
<circle cx="61.00" cy="654.80" r="1.5" fill="#000" />
<circle cx="62.90" cy="654.00" r="1.5" fill="#000" />
<circle cx="59.00" cy="657.60" r="1.5" fill="#000" />
<circle cx="53.10" cy="651.20" r="1.5" fill="#000" />
<circle cx="54.50" cy="654.00" r="1.5" fill="#000" />
<circle cx="55.40" cy="655.40" r="1.5" fill="#000" />
<circle cx="51.20" cy="656.20" r="1.5" fill="#000" />
<circle cx="47.00" cy="651.20" r="1.5" fill="#000" />
<circle cx="43.90" cy="650.00" r="1.5" fill="#000" />
<circle cx="44.50" cy="652.00" r="1.5" fill="#000" />
<circle cx="43.90" cy="654.00" r="1.5" fill="#000" />
<circle cx="45.20" cy="655.50" r="1.5" fill="#000" />
<circle cx="43.90" cy="657.00" r="1.5" fill="#000" />
<circle cx="46.00" cy="657.30" r="1.5" fill="#000" />
<circle cx="44.40" cy="656.00" r="1.5" fill="#000" />
<circle cx="45.60" cy="653.20" r="1.5" fill="#000" />
<rect x="38.60" y="539.40" width="113.90" height="127.80" fill="none" stroke="#4D4D4D" stroke-width="0.6" />
<text x="40.70" y="536.20" font-size="8.6" text-anchor="start" fill="#111" font-weight="normal" ><tspan font-style="italic">R</tspan><tspan font-size="5" dy="-3">2</tspan><tspan dy="3"> =  −0.0166</tspan></text>
<text x="106.20" y="536.20" font-size="8.6" text-anchor="start" fill="#111" font-weight="normal" font-style="normal">cor_<tspan font-style="italic">P</tspan> = 0.815</text>
<text x="87.00" y="714.40" font-size="8.2" text-anchor="middle" fill="#000" font-weight="normal" >NK cells</text>
<text x="7.00" y="602.00" font-size="8.2" text-anchor="middle" fill="#000" font-weight="normal" transform="rotate(-90 7.00 602.00)" >ERBB2</text>
<rect x="204.10" y="540.00" width="178.30" height="123.10" fill="#FFFFFF" />
<line x1="204.10" y1="641.85" x2="382.40" y2="641.85" stroke="#ECECEC" stroke-width="0.35" />
<line x1="204.10" y1="610.95" x2="382.40" y2="610.95" stroke="#ECECEC" stroke-width="0.35" />
<line x1="204.10" y1="580.05" x2="382.40" y2="580.05" stroke="#ECECEC" stroke-width="0.35" />
<line x1="204.10" y1="549.15" x2="382.40" y2="549.15" stroke="#ECECEC" stroke-width="0.35" />
<line x1="204.10" y1="657.30" x2="382.40" y2="657.30" stroke="#DFDFDF" stroke-width="0.5" />
<line x1="202.50" y1="657.30" x2="204.10" y2="657.30" stroke="#333" stroke-width="0.5" />
<text x="198.40" y="660.30" font-size="8.4" text-anchor="end" fill="#3A3A3A" font-weight="normal" >0.00</text>
<line x1="204.10" y1="626.40" x2="382.40" y2="626.40" stroke="#DFDFDF" stroke-width="0.5" />
<line x1="202.50" y1="626.40" x2="204.10" y2="626.40" stroke="#333" stroke-width="0.5" />
<text x="198.40" y="629.40" font-size="8.4" text-anchor="end" fill="#3A3A3A" font-weight="normal" >0.05</text>
<line x1="204.10" y1="595.50" x2="382.40" y2="595.50" stroke="#DFDFDF" stroke-width="0.5" />
<line x1="202.50" y1="595.50" x2="204.10" y2="595.50" stroke="#333" stroke-width="0.5" />
<text x="198.40" y="598.50" font-size="8.4" text-anchor="end" fill="#3A3A3A" font-weight="normal" >0.10</text>
<line x1="204.10" y1="564.60" x2="382.40" y2="564.60" stroke="#DFDFDF" stroke-width="0.5" />
<line x1="202.50" y1="564.60" x2="204.10" y2="564.60" stroke="#333" stroke-width="0.5" />
<text x="198.40" y="567.60" font-size="8.4" text-anchor="end" fill="#3A3A3A" font-weight="normal" >0.15</text>
<line x1="252.50" y1="540.00" x2="252.50" y2="663.10" stroke="#DFDFDF" stroke-width="0.5" />
<line x1="252.50" y1="663.10" x2="252.50" y2="664.70" stroke="#333" stroke-width="0.5" />
<text x="252.50" y="675.80" font-size="8.6" text-anchor="middle" fill="#3A3A3A" font-weight="normal" >Margin</text>
<line x1="334.40" y1="540.00" x2="334.40" y2="663.10" stroke="#DFDFDF" stroke-width="0.5" />
<line x1="334.40" y1="663.10" x2="334.40" y2="664.70" stroke="#333" stroke-width="0.5" />
<text x="334.40" y="675.80" font-size="8.6" text-anchor="middle" fill="#3A3A3A" font-weight="normal" >Tumor core</text>
<rect x="204.10" y="540.00" width="178.30" height="123.10" fill="none" stroke="#555" stroke-width="0.9" />
<line x1="242.40" y1="638.10" x2="242.40" y2="643.20" stroke="#F08A83" stroke-width="0.6" />
<line x1="242.40" y1="652.60" x2="242.40" y2="657.60" stroke="#F08A83" stroke-width="0.6" />
<rect x="233.00" y="643.20" width="18.80" height="9.40" fill="none" stroke="#F08A83" stroke-width="0.7" />
<line x1="233.00" y1="648.20" x2="251.80" y2="648.20" stroke="#F08A83" stroke-width="0.7" />
<line x1="262.90" y1="551.20" x2="262.90" y2="565.30" stroke="#35BFC5" stroke-width="0.6" />
<line x1="262.90" y1="598.50" x2="262.90" y2="617.30" stroke="#35BFC5" stroke-width="0.6" />
<rect x="253.50" y="565.30" width="18.80" height="33.20" fill="none" stroke="#35BFC5" stroke-width="0.7" />
<line x1="253.50" y1="579.70" x2="272.30" y2="579.70" stroke="#35BFC5" stroke-width="0.7" />
<line x1="324.00" y1="632.80" x2="324.00" y2="632.80" stroke="#F08A83" stroke-width="0.6" />
<line x1="324.00" y1="657.60" x2="324.00" y2="657.60" stroke="#F08A83" stroke-width="0.6" />
<rect x="314.60" y="632.80" width="18.80" height="24.80" fill="none" stroke="#F08A83" stroke-width="0.7" />
<line x1="344.35" y1="582.00" x2="344.35" y2="591.80" stroke="#35BFC5" stroke-width="0.6" />
<line x1="344.35" y1="651.20" x2="344.35" y2="657.60" stroke="#35BFC5" stroke-width="0.6" />
<rect x="335.10" y="591.80" width="18.50" height="59.40" fill="none" stroke="#35BFC5" stroke-width="0.7" />
<line x1="335.10" y1="623.40" x2="353.60" y2="623.40" stroke="#35BFC5" stroke-width="0.7" />
<circle cx="242.40" cy="638.10" r="0.85" fill="#F4726A" />
<circle cx="242.40" cy="657.60" r="0.85" fill="#F4726A" />
<circle cx="324.00" cy="558.50" r="0.85" fill="#F4726A" />
<circle cx="324.00" cy="657.60" r="0.85" fill="#F4726A" />
<circle cx="262.90" cy="551.20" r="0.85" fill="#12B5BC" />
<circle cx="262.90" cy="579.70" r="0.85" fill="#12B5BC" />
<circle cx="262.90" cy="617.30" r="0.85" fill="#12B5BC" />
<circle cx="344.30" cy="582.00" r="0.85" fill="#12B5BC" />
<circle cx="344.30" cy="583.20" r="0.85" fill="#12B5BC" />
<circle cx="344.30" cy="616.30" r="0.85" fill="#12B5BC" />
<circle cx="344.30" cy="630.70" r="0.85" fill="#12B5BC" />
<circle cx="344.30" cy="657.60" r="0.85" fill="#12B5BC" />
<path d="M244.7 546.1V543.4H264.5V546.1" stroke="#222" stroke-width="0.6" fill="none" />
<text x="249.10" y="557.40" font-size="8.6" text-anchor="middle" fill="#222" font-weight="normal" >0.025</text>
<path d="M323.6 553.5V550.8H342.8V553.5" stroke="#222" stroke-width="0.6" fill="none" />
<text x="340.60" y="562.20" font-size="8.6" text-anchor="middle" fill="#222" font-weight="normal" >0.32</text>
<text x="293.20" y="686.80" font-size="8.2" text-anchor="middle" fill="#000" font-weight="normal" >regions</text>
<text x="175.30" y="612.40" font-size="8.6" text-anchor="middle" fill="#000" font-weight="normal" transform="rotate(-90 175.30 612.40)" >fibroblast_score</text>
<text x="390.60" y="595.40" font-size="8.4" text-anchor="start" fill="#000" font-weight="normal" >Efficacy</text>
<line x1="395.00" y1="599.70" x2="395.00" y2="604.90" stroke="#F08A83" stroke-width="0.6" />
<rect x="392.40" y="600.40" width="5.20" height="3.80" fill="none" stroke="#F08A83" stroke-width="0.6" />
<line x1="392.40" y1="602.30" x2="397.60" y2="602.30" stroke="#F08A83" stroke-width="0.6" />
<text x="401.50" y="605.30" font-size="8.4" text-anchor="start" fill="#000" font-weight="normal" >OR</text>
<line x1="395.00" y1="607.80" x2="395.00" y2="613.00" stroke="#35BFC5" stroke-width="0.6" />
<rect x="392.40" y="608.50" width="5.20" height="3.80" fill="none" stroke="#35BFC5" stroke-width="0.6" />
<line x1="392.40" y1="610.40" x2="397.60" y2="610.40" stroke="#35BFC5" stroke-width="0.6" />
<text x="401.50" y="613.40" font-size="8.4" text-anchor="start" fill="#000" font-weight="normal" >non-OR</text>
<rect x="481.10" y="537.50" width="112.20" height="126.90" fill="#FFFFFF" />
<line x1="481.10" y1="651.83" x2="593.30" y2="651.83" stroke="#ECECEC" stroke-width="0.35" />
<line x1="481.10" y1="621.38" x2="593.30" y2="621.38" stroke="#ECECEC" stroke-width="0.35" />
<line x1="481.10" y1="590.93" x2="593.30" y2="590.93" stroke="#ECECEC" stroke-width="0.35" />
<line x1="481.10" y1="560.48" x2="593.30" y2="560.48" stroke="#ECECEC" stroke-width="0.35" />
<line x1="506.02" y1="537.50" x2="506.02" y2="664.40" stroke="#ECECEC" stroke-width="0.35" />
<line x1="545.67" y1="537.50" x2="545.67" y2="664.40" stroke="#ECECEC" stroke-width="0.35" />
<line x1="585.33" y1="537.50" x2="585.33" y2="664.40" stroke="#ECECEC" stroke-width="0.35" />
<line x1="481.10" y1="636.60" x2="593.30" y2="636.60" stroke="#DFDFDF" stroke-width="0.5" />
<line x1="479.50" y1="636.60" x2="481.10" y2="636.60" stroke="#333" stroke-width="0.5" />
<text x="475.60" y="639.60" font-size="8.5" text-anchor="end" fill="#3A3A3A" font-weight="normal" >0</text>
<line x1="481.10" y1="606.15" x2="593.30" y2="606.15" stroke="#DFDFDF" stroke-width="0.5" />
<line x1="479.50" y1="606.15" x2="481.10" y2="606.15" stroke="#333" stroke-width="0.5" />
<text x="475.60" y="609.15" font-size="8.5" text-anchor="end" fill="#3A3A3A" font-weight="normal" >2000</text>
<line x1="481.10" y1="575.70" x2="593.30" y2="575.70" stroke="#DFDFDF" stroke-width="0.5" />
<line x1="479.50" y1="575.70" x2="481.10" y2="575.70" stroke="#333" stroke-width="0.5" />
<text x="475.60" y="578.70" font-size="8.5" text-anchor="end" fill="#3A3A3A" font-weight="normal" >4000</text>
<line x1="481.10" y1="545.25" x2="593.30" y2="545.25" stroke="#DFDFDF" stroke-width="0.5" />
<line x1="479.50" y1="545.25" x2="481.10" y2="545.25" stroke="#333" stroke-width="0.5" />
<text x="475.60" y="548.25" font-size="8.5" text-anchor="end" fill="#3A3A3A" font-weight="normal" >6000</text>
<line x1="486.20" y1="537.50" x2="486.20" y2="664.40" stroke="#DFDFDF" stroke-width="0.5" />
<line x1="486.20" y1="664.40" x2="486.20" y2="666.00" stroke="#333" stroke-width="0.5" />
<text x="486.20" y="675.90" font-size="8.5" text-anchor="middle" fill="#3A3A3A" font-weight="normal" >0.0</text>
<line x1="525.85" y1="537.50" x2="525.85" y2="664.40" stroke="#DFDFDF" stroke-width="0.5" />
<line x1="525.85" y1="664.40" x2="525.85" y2="666.00" stroke="#333" stroke-width="0.5" />
<text x="525.85" y="675.90" font-size="8.5" text-anchor="middle" fill="#3A3A3A" font-weight="normal" >0.1</text>
<line x1="565.50" y1="537.50" x2="565.50" y2="664.40" stroke="#DFDFDF" stroke-width="0.5" />
<line x1="565.50" y1="664.40" x2="565.50" y2="666.00" stroke="#333" stroke-width="0.5" />
<text x="565.50" y="675.90" font-size="8.5" text-anchor="middle" fill="#3A3A3A" font-weight="normal" >0.2</text>
<path d="M486.2 616.1L516.7 623.0L547.7 624.6L588.7 625.3L588.7 657.8L547.7 643.1L516.7 633.5L486.2 629.6Z" stroke="none" stroke-width="0.5" fill="#BDBDBD" fill-opacity="0.75"/>
<line x1="486.20" y1="622.60" x2="588.70" y2="641.60" stroke="#EE3B3B" stroke-width="0.75" />
<circle cx="486.20" cy="543.30" r="1.5" fill="#000" />
<circle cx="486.20" cy="556.90" r="1.5" fill="#000" />
<circle cx="486.20" cy="564.20" r="1.5" fill="#000" />
<circle cx="486.20" cy="582.80" r="1.5" fill="#000" />
<circle cx="494.30" cy="591.70" r="1.5" fill="#000" />
<circle cx="486.20" cy="596.70" r="1.5" fill="#000" />
<circle cx="490.40" cy="600.60" r="1.5" fill="#000" />
<circle cx="529.10" cy="603.30" r="1.5" fill="#000" />
<circle cx="497.40" cy="613.30" r="1.5" fill="#000" />
<circle cx="486.20" cy="623.00" r="1.5" fill="#000" />
<circle cx="486.20" cy="625.70" r="1.5" fill="#000" />
<circle cx="486.20" cy="628.40" r="1.5" fill="#000" />
<circle cx="490.40" cy="621.10" r="1.5" fill="#000" />
<circle cx="526.40" cy="626.50" r="1.5" fill="#000" />
<circle cx="552.30" cy="631.50" r="1.5" fill="#000" />
<circle cx="486.15" cy="636.32" r="1.5" fill="#000" />
<circle cx="486.54" cy="636.54" r="1.5" fill="#000" />
<circle cx="486.92" cy="636.41" r="1.5" fill="#000" />
<circle cx="487.70" cy="635.98" r="1.5" fill="#000" />
<circle cx="488.47" cy="635.25" r="1.5" fill="#000" />
<circle cx="489.63" cy="635.23" r="1.5" fill="#000" />
<circle cx="486.15" cy="635.34" r="1.5" fill="#000" />
<circle cx="487.31" cy="636.43" r="1.5" fill="#000" />
<circle cx="495.44" cy="634.61" r="1.5" fill="#000" />
<circle cx="502.40" cy="634.91" r="1.5" fill="#000" />
<circle cx="505.11" cy="636.36" r="1.5" fill="#000" />
<circle cx="507.81" cy="635.04" r="1.5" fill="#000" />
<circle cx="512.07" cy="634.57" r="1.5" fill="#000" />
<circle cx="514.00" cy="634.49" r="1.5" fill="#000" />
<circle cx="521.35" cy="635.84" r="1.5" fill="#000" />
<circle cx="526.38" cy="635.25" r="1.5" fill="#000" />
<circle cx="528.32" cy="636.95" r="1.5" fill="#000" />
<circle cx="533.35" cy="636.70" r="1.5" fill="#000" />
<circle cx="536.05" cy="636.97" r="1.5" fill="#000" />
<circle cx="538.76" cy="635.09" r="1.5" fill="#000" />
<circle cx="545.73" cy="634.62" r="1.5" fill="#000" />
<circle cx="563.91" cy="634.65" r="1.5" fill="#000" />
<circle cx="575.51" cy="635.70" r="1.5" fill="#000" />
<circle cx="578.61" cy="636.25" r="1.5" fill="#000" />
<circle cx="588.67" cy="635.56" r="1.5" fill="#000" />
<circle cx="486.20" cy="631.00" r="1.5" fill="#000" />
<circle cx="486.80" cy="633.00" r="1.5" fill="#000" />
<circle cx="487.50" cy="634.50" r="1.5" fill="#000" />
<circle cx="486.20" cy="634.00" r="1.5" fill="#000" />
<circle cx="488.50" cy="633.00" r="1.5" fill="#000" />
<rect x="481.10" y="537.50" width="112.20" height="126.90" fill="none" stroke="#4D4D4D" stroke-width="0.6" />
<text x="482.00" y="535.80" font-size="8.6" text-anchor="start" fill="#111" font-weight="normal" ><tspan font-style="italic">R</tspan><tspan font-size="4.6" dy="-3">2</tspan><tspan dy="3"> =  0.0488</tspan></text>
<text x="538.80" y="535.80" font-size="8.6" text-anchor="start" fill="#111" font-weight="normal" >cor_<tspan font-style="italic">P</tspan>= 0.0509</text>
<text x="525.20" y="690.60" font-size="8.6" text-anchor="middle" fill="#000" font-weight="normal" >Fibroblasts</text>
<text x="448.80" y="592.80" font-size="8.2" text-anchor="middle" fill="#000" font-weight="normal" transform="rotate(-90 448.80 592.80)" >ERBB2</text>
</svg>
</body></html>
